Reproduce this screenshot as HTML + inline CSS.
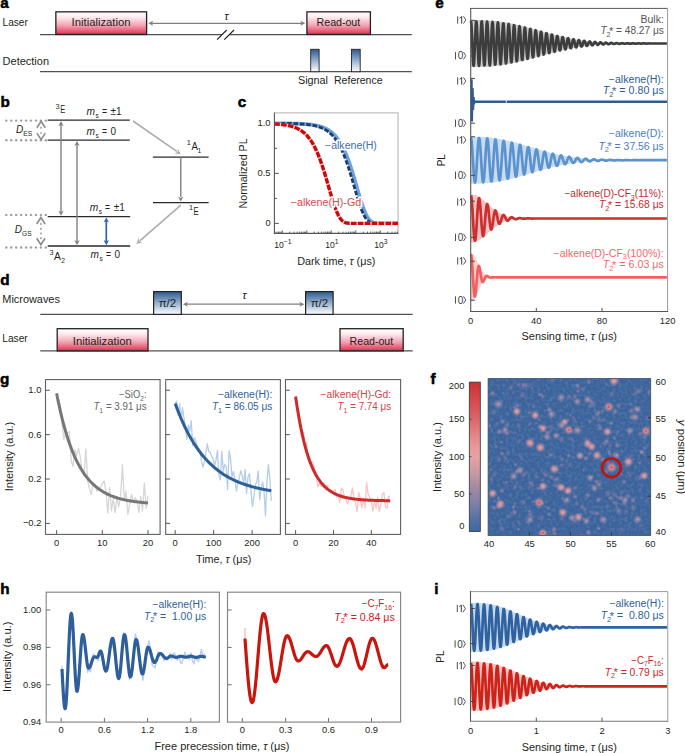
<!DOCTYPE html>
<html><head><meta charset="utf-8"><style>
html,body{margin:0;padding:0;background:#fff;}
svg{display:block;}
text{font-family:"Liberation Sans", sans-serif;}
</style></head><body>
<svg width="685" height="753" viewBox="0 0 685 753">
<defs><linearGradient id="gRed" x1="0" y1="0" x2="0" y2="1"><stop offset="0" stop-color="#ffffff"/><stop offset="0.25" stop-color="#fde8ec"/><stop offset="0.6" stop-color="#f3a3b4"/><stop offset="1" stop-color="#e2304f"/></linearGradient><linearGradient id="gBlue" x1="0" y1="0" x2="0" y2="1"><stop offset="0" stop-color="#2c5a8f"/><stop offset="0.45" stop-color="#8aa8c9"/><stop offset="1" stop-color="#ffffff"/></linearGradient><filter id="nz" x="0" y="0" width="100%" height="100%"><feTurbulence type="fractalNoise" baseFrequency="0.32" numOctaves="2" seed="3" result="t"/>
<feColorMatrix in="t" type="matrix" values="0 0 0 0 0.62  0 0 0 0 0.55  0 0 0 0 0.70  0 0 0 -2.2 1.25"/></filter><clipPath id="imgclip"><rect x="488.1" y="378.6" width="162.6" height="156.8"/></clipPath><radialGradient id="sp1"><stop offset="0" stop-color="#f2a2a0" stop-opacity="0.95"/><stop offset="0.35" stop-color="#e99ca0" stop-opacity="0.8"/><stop offset="0.7" stop-color="#d494a4" stop-opacity="0.35"/><stop offset="1" stop-color="#c090a8" stop-opacity="0"/></radialGradient><radialGradient id="sp2"><stop offset="0" stop-color="#c8a0b0" stop-opacity="0.9"/><stop offset="1" stop-color="#a08aa8" stop-opacity="0"/></radialGradient><radialGradient id="sp3"><stop offset="0" stop-color="#dc3c3c" stop-opacity="1"/><stop offset="0.3" stop-color="#ec8888" stop-opacity="0.9"/><stop offset="0.7" stop-color="#d898a4" stop-opacity="0.35"/><stop offset="1" stop-color="#c090a8" stop-opacity="0"/></radialGradient><radialGradient id="spf"><stop offset="0" stop-color="#c897ad" stop-opacity="0.75"/><stop offset="1" stop-color="#b08aa8" stop-opacity="0"/></radialGradient><linearGradient id="gCB" x1="0" y1="0" x2="0" y2="1"><stop offset="0" stop-color="#cb3134"/><stop offset="0.2" stop-color="#d95a5c"/><stop offset="0.42" stop-color="#e89696"/><stop offset="0.5" stop-color="#e6a3a3"/><stop offset="0.6" stop-color="#c99ba5"/><stop offset="0.7" stop-color="#a58aa2"/><stop offset="0.82" stop-color="#7b80a7"/><stop offset="0.93" stop-color="#4f70a6"/><stop offset="1" stop-color="#3c68a4"/></linearGradient></defs>
<rect width="685" height="753" fill="#fff"/>
<text x="0.3" y="8" font-size="15.3" fill="#000" font-weight="bold" stroke="#000" stroke-width="0.5">a</text>
<text x="2.6" y="26.4" font-size="10" fill="#231f20" textLength="25.2" lengthAdjust="spacingAndGlyphs" >Laser</text>
<text x="2.6" y="65" font-size="10" fill="#231f20" textLength="46.4" lengthAdjust="spacingAndGlyphs" >Detection</text>
<line x1="40" y1="34.7" x2="222" y2="34.7" stroke="#505050" stroke-width="1.2" />
<line x1="229.2" y1="34.7" x2="411.8" y2="34.7" stroke="#505050" stroke-width="1.2" />
<line x1="217.1" y1="39.6" x2="226.7" y2="30" stroke="#222" stroke-width="1.2" />
<line x1="224.3" y1="39.6" x2="234" y2="30" stroke="#222" stroke-width="1.2" />
<rect x="55.85" y="11.85" width="90.75" height="22.6" fill="url(#gRed)" stroke="#222" stroke-width="1.3" />
<text x="71.6" y="26.4" font-size="10" fill="#231f20" textLength="58.9" lengthAdjust="spacingAndGlyphs" >Initialization</text>
<rect x="306.9" y="11.85" width="63.5" height="22.6" fill="url(#gRed)" stroke="#222" stroke-width="1.3" />
<text x="316.6" y="26.4" font-size="10" fill="#231f20" textLength="43.6" lengthAdjust="spacingAndGlyphs" >Read-out</text>
<line x1="151" y1="23.3" x2="302" y2="23.3" stroke="#808080" stroke-width="1.3" />
<path d="M148.2,23.3 L153.2,20.8 L151.95,23.3 L153.2,25.8 Z" fill="#808080"/>
<path d="M305.3,23.3 L300.3,25.8 L301.55,23.3 L300.3,20.8 Z" fill="#808080"/>
<text x="226.4" y="19.9" font-size="11.5" fill="#231f20" text-anchor="middle" font-style="italic" >τ</text>
<line x1="40" y1="71.7" x2="411.8" y2="71.7" stroke="#505050" stroke-width="1.2" />
<rect x="310.7" y="49.3" width="8.4" height="22.4" fill="url(#gBlue)" stroke="#222" stroke-width="0.9" />
<rect x="351.5" y="49.3" width="8.7" height="22.4" fill="url(#gBlue)" stroke="#222" stroke-width="0.9" />
<text x="298" y="84.4" font-size="10" fill="#231f20" textLength="30" lengthAdjust="spacingAndGlyphs" >Signal</text>
<text x="334" y="84.4" font-size="10" fill="#231f20" textLength="48.6" lengthAdjust="spacingAndGlyphs" >Reference</text>
<text x="0.3" y="285.3" font-size="15.3" fill="#000" font-weight="bold" stroke="#000" stroke-width="0.5">d</text>
<text x="2.3" y="302.7" font-size="10" fill="#231f20" textLength="57.6" lengthAdjust="spacingAndGlyphs" >Microwaves</text>
<text x="2.3" y="342.1" font-size="10" fill="#231f20" textLength="25.4" lengthAdjust="spacingAndGlyphs" >Laser</text>
<line x1="40.3" y1="314.4" x2="412.7" y2="314.4" stroke="#505050" stroke-width="1.2" />
<line x1="40.3" y1="350.9" x2="412.7" y2="350.9" stroke="#505050" stroke-width="1.2" />
<rect x="153.6" y="291.6" width="27.7" height="22.8" fill="url(#gBlue)" stroke="#222" stroke-width="1.2" />
<rect x="305.6" y="291.6" width="27.5" height="22.8" fill="url(#gBlue)" stroke="#222" stroke-width="1.2" />
<text x="167.4" y="306.6" font-size="10" fill="#231f20" text-anchor="middle" textLength="17.5" lengthAdjust="spacingAndGlyphs" >π/2</text>
<text x="319.4" y="306.6" font-size="10" fill="#231f20" text-anchor="middle" textLength="17.5" lengthAdjust="spacingAndGlyphs" >π/2</text>
<rect x="57.2" y="328.7" width="90.8" height="22.2" fill="url(#gRed)" stroke="#222" stroke-width="1.3" />
<text x="72.8" y="345.3" font-size="10" fill="#231f20" textLength="58.9" lengthAdjust="spacingAndGlyphs" >Initialization</text>
<rect x="340" y="328.7" width="63.2" height="22.2" fill="url(#gRed)" stroke="#222" stroke-width="1.3" />
<text x="349.6" y="345.3" font-size="10" fill="#231f20" textLength="43.6" lengthAdjust="spacingAndGlyphs" >Read-out</text>
<line x1="186" y1="304.2" x2="301" y2="304.2" stroke="#808080" stroke-width="1.3" />
<path d="M182.9,304.2 L187.9,301.7 L186.65,304.2 L187.9,306.7 Z" fill="#808080"/>
<path d="M304.4,304.2 L299.4,306.7 L300.65,304.2 L299.4,301.7 Z" fill="#808080"/>
<text x="244.4" y="299.1" font-size="11.5" fill="#231f20" text-anchor="middle" font-style="italic" >τ</text>
<text x="0.4" y="107.1" font-size="15.3" fill="#000" font-weight="bold" stroke="#000" stroke-width="0.5">b</text>
<line x1="47.7" y1="120.2" x2="129.8" y2="120.2" stroke="#2a2a2a" stroke-width="1.3" />
<line x1="47.7" y1="140.1" x2="129.8" y2="140.1" stroke="#2a2a2a" stroke-width="1.3" />
<line x1="47.7" y1="216.6" x2="130.2" y2="216.6" stroke="#2a2a2a" stroke-width="1.3" />
<line x1="47.7" y1="246" x2="130.2" y2="246" stroke="#2a2a2a" stroke-width="1.3" />
<line x1="152.9" y1="157.2" x2="208.6" y2="157.2" stroke="#2a2a2a" stroke-width="1.3" />
<line x1="152.9" y1="202.6" x2="208.6" y2="202.6" stroke="#2a2a2a" stroke-width="1.3" />
<circle cx="6.3" cy="120.6" r="1.2" fill="#a0a0a0"/>
<circle cx="11.24" cy="120.6" r="1.2" fill="#a0a0a0"/>
<circle cx="16.18" cy="120.6" r="1.2" fill="#a0a0a0"/>
<circle cx="21.12" cy="120.6" r="1.2" fill="#a0a0a0"/>
<circle cx="26.06" cy="120.6" r="1.2" fill="#a0a0a0"/>
<circle cx="31" cy="120.6" r="1.2" fill="#a0a0a0"/>
<circle cx="35.94" cy="120.6" r="1.2" fill="#a0a0a0"/>
<circle cx="40.88" cy="120.6" r="1.2" fill="#a0a0a0"/>
<circle cx="45.82" cy="120.6" r="1.2" fill="#a0a0a0"/>
<circle cx="6.3" cy="140.3" r="1.2" fill="#a0a0a0"/>
<circle cx="11.24" cy="140.3" r="1.2" fill="#a0a0a0"/>
<circle cx="16.18" cy="140.3" r="1.2" fill="#a0a0a0"/>
<circle cx="21.12" cy="140.3" r="1.2" fill="#a0a0a0"/>
<circle cx="26.06" cy="140.3" r="1.2" fill="#a0a0a0"/>
<circle cx="31" cy="140.3" r="1.2" fill="#a0a0a0"/>
<circle cx="35.94" cy="140.3" r="1.2" fill="#a0a0a0"/>
<circle cx="40.88" cy="140.3" r="1.2" fill="#a0a0a0"/>
<circle cx="45.82" cy="140.3" r="1.2" fill="#a0a0a0"/>
<circle cx="6.3" cy="214.9" r="1.2" fill="#a0a0a0"/>
<circle cx="11.24" cy="214.9" r="1.2" fill="#a0a0a0"/>
<circle cx="16.18" cy="214.9" r="1.2" fill="#a0a0a0"/>
<circle cx="21.12" cy="214.9" r="1.2" fill="#a0a0a0"/>
<circle cx="26.06" cy="214.9" r="1.2" fill="#a0a0a0"/>
<circle cx="31" cy="214.9" r="1.2" fill="#a0a0a0"/>
<circle cx="35.94" cy="214.9" r="1.2" fill="#a0a0a0"/>
<circle cx="40.88" cy="214.9" r="1.2" fill="#a0a0a0"/>
<circle cx="45.82" cy="214.9" r="1.2" fill="#a0a0a0"/>
<circle cx="6.3" cy="247.5" r="1.2" fill="#a0a0a0"/>
<circle cx="11.24" cy="247.5" r="1.2" fill="#a0a0a0"/>
<circle cx="16.18" cy="247.5" r="1.2" fill="#a0a0a0"/>
<circle cx="21.12" cy="247.5" r="1.2" fill="#a0a0a0"/>
<circle cx="26.06" cy="247.5" r="1.2" fill="#a0a0a0"/>
<circle cx="31" cy="247.5" r="1.2" fill="#a0a0a0"/>
<circle cx="35.94" cy="247.5" r="1.2" fill="#a0a0a0"/>
<circle cx="40.88" cy="247.5" r="1.2" fill="#a0a0a0"/>
<circle cx="45.82" cy="247.5" r="1.2" fill="#a0a0a0"/>
<circle cx="41.1" cy="127.7" r="0.95" fill="#999"/>
<circle cx="41.1" cy="133.1" r="0.95" fill="#999"/>
<path d="M36.9,127.7 L41.1,121.2 L45.300000000000004,127.7" stroke="#8a8a8a" stroke-width="1.6" fill="none" />
<path d="M36.9,133.1 L41.1,139.6 L45.300000000000004,133.1" stroke="#8a8a8a" stroke-width="1.6" fill="none" />
<circle cx="40.9" cy="224" r="0.95" fill="#999"/>
<circle cx="40.9" cy="228.77" r="0.95" fill="#999"/>
<circle cx="40.9" cy="233.53" r="0.95" fill="#999"/>
<circle cx="40.9" cy="238.3" r="0.95" fill="#999"/>
<path d="M36.699999999999996,224.0 L40.9,217.5 L45.1,224.0" stroke="#8a8a8a" stroke-width="1.6" fill="none" />
<path d="M36.699999999999996,238.3 L40.9,244.8 L45.1,238.3" stroke="#8a8a8a" stroke-width="1.6" fill="none" />
<line x1="61" y1="124.2" x2="61" y2="212.6" stroke="#808080" stroke-width="1.4" />
<path d="M61,121 L63.7,126.2 L61,124.64 L58.3,126.2 Z" fill="#808080"/>
<path d="M61,215.8 L58.3,210.6 L61,212.16 L63.7,210.6 Z" fill="#808080"/>
<line x1="77" y1="144.1" x2="77" y2="242" stroke="#808080" stroke-width="1.4" />
<path d="M77,140.9 L79.7,146.1 L77,144.54 L74.3,146.1 Z" fill="#808080"/>
<path d="M77,245.2 L74.3,240 L77,241.56 L79.7,240 Z" fill="#808080"/>
<line x1="106.3" y1="220.6" x2="106.3" y2="242" stroke="#2b63a6" stroke-width="1.7" />
<path d="M106.3,217.4 L109,222.6 L106.3,221.04 L103.6,222.6 Z" fill="#2b63a6"/>
<path d="M106.3,245.2 L103.6,240 L106.3,241.56 L109,240 Z" fill="#2b63a6"/>
<line x1="180.8" y1="157.2" x2="180.8" y2="197" stroke="#808080" stroke-width="1.4" />
<path d="M180.8,201.6 L178.1,196.4 L180.8,197.96 L183.5,196.4 Z" fill="#808080"/>
<line x1="133" y1="121" x2="176.8" y2="151.4" stroke="#adadad" stroke-width="1.6" />
<path d="M180.8,154.3 L174.55,153.48 L177.58,152.06 L177.86,148.72 Z" fill="#adadad"/>
<line x1="180.8" y1="205.2" x2="139.8" y2="240.8" stroke="#adadad" stroke-width="1.6" />
<path d="M136.3,243.9 L138.62,238.04 L139.26,241.33 L142.43,242.41 Z" fill="#adadad"/>
<text x="86.6" y="115" font-size="10.2" fill="#231f20" font-style="italic">m</text>
<text x="95.5" y="118.2" font-size="6.6" fill="#231f20">s</text>
<text x="101.9" y="115" font-size="10" fill="#231f20" textLength="5" lengthAdjust="spacingAndGlyphs">=</text>
<text x="110.5" y="115" font-size="10" fill="#231f20">±1</text>
<text x="86.6" y="134.9" font-size="10.2" fill="#231f20" font-style="italic">m</text>
<text x="95.5" y="138.1" font-size="6.6" fill="#231f20">s</text>
<text x="101.9" y="134.9" font-size="10" fill="#231f20" textLength="5" lengthAdjust="spacingAndGlyphs">=</text>
<text x="110.5" y="134.9" font-size="10" fill="#231f20">0</text>
<text x="89.8" y="210.7" font-size="10.2" fill="#231f20" font-style="italic">m</text>
<text x="98.7" y="213.9" font-size="6.6" fill="#231f20">s</text>
<text x="105.1" y="210.7" font-size="10" fill="#231f20" textLength="5" lengthAdjust="spacingAndGlyphs">=</text>
<text x="113.7" y="210.7" font-size="10" fill="#231f20">±1</text>
<text x="90.6" y="257.7" font-size="10.2" fill="#231f20" font-style="italic">m</text>
<text x="99.5" y="260.9" font-size="6.6" fill="#231f20">s</text>
<text x="105.9" y="257.7" font-size="10" fill="#231f20" textLength="5" lengthAdjust="spacingAndGlyphs">=</text>
<text x="114.5" y="257.7" font-size="10" fill="#231f20">0</text>
<text x="55.6" y="108.6" font-size="7.3" fill="#231f20">3</text>
<text x="60.2" y="113.3" font-size="10" fill="#231f20" textLength="5.0" lengthAdjust="spacingAndGlyphs">E</text>
<text x="49.4" y="255" font-size="7.3" fill="#231f20">3</text>
<text x="54" y="259.7" font-size="10" fill="#231f20" textLength="6.8" lengthAdjust="spacingAndGlyphs">A</text>
<text x="61.2" y="262.7" font-size="6.8" fill="#231f20">2</text>
<text x="186.8" y="145.2" font-size="7.3" fill="#231f20">1</text>
<text x="191.4" y="149.9" font-size="10" fill="#231f20" textLength="6.4" lengthAdjust="spacingAndGlyphs">A</text>
<text x="197.6" y="152.9" font-size="6.8" fill="#231f20">1</text>
<text x="188.9" y="210.4" font-size="7.3" fill="#231f20">1</text>
<text x="193.5" y="215.1" font-size="10" fill="#231f20" textLength="5.2" lengthAdjust="spacingAndGlyphs">E</text>
<text x="16" y="133.3" font-size="10" fill="#231f20"><tspan font-style="italic">D</tspan><tspan font-size="6.6" dy="2.5">ES</tspan></text>
<text x="14.8" y="232.8" font-size="10" fill="#231f20"><tspan font-style="italic">D</tspan><tspan font-size="6.6" dy="2.8">GS</tspan></text>
<text x="237.7" y="107.3" font-size="15.3" fill="#000" font-weight="bold" stroke="#000" stroke-width="0.5">c</text>
<line x1="274.4" y1="112.9" x2="398" y2="112.9" stroke="#b0b0b0" stroke-width="1" />
<line x1="398" y1="112.9" x2="398" y2="233.4" stroke="#b0b0b0" stroke-width="1" />
<path d="M274.22,123.34 L274.46,123.34 L274.71,123.35 L274.95,123.35 L275.19,123.35 L275.44,123.35 L275.69,123.35 L275.93,123.35 L276.18,123.35 L276.42,123.35 L276.67,123.35 L276.91,123.36 L277.16,123.36 L277.4,123.36 L277.65,123.36 L277.89,123.36 L278.13,123.36 L278.38,123.36 L278.62,123.37 L278.87,123.37 L279.12,123.37 L279.36,123.37 L279.61,123.37 L279.85,123.37 L280.1,123.38 L280.34,123.38 L280.59,123.38 L280.83,123.38 L281.07,123.38 L281.32,123.38 L281.56,123.39 L281.81,123.39 L282.06,123.39 L282.3,123.39 L282.55,123.39 L282.79,123.4 L283.04,123.4 L283.28,123.4 L283.53,123.4 L283.77,123.41 L284.01,123.41 L284.26,123.41 L284.5,123.41 L284.75,123.42 L285,123.42 L285.24,123.42 L285.49,123.42 L285.73,123.43 L285.98,123.43 L286.22,123.43 L286.47,123.44 L286.71,123.44 L286.95,123.44 L287.2,123.45 L287.44,123.45 L287.69,123.45 L287.94,123.46 L288.18,123.46 L288.43,123.46 L288.67,123.47 L288.92,123.47 L289.16,123.48 L289.41,123.48 L289.65,123.48 L289.89,123.49 L290.14,123.49 L290.38,123.5 L290.63,123.5 L290.88,123.51 L291.12,123.51 L291.37,123.52 L291.61,123.52 L291.86,123.53 L292.1,123.53 L292.35,123.54 L292.59,123.54 L292.84,123.55 L293.08,123.55 L293.32,123.56 L293.57,123.57 L293.81,123.57 L294.06,123.58 L294.31,123.59 L294.55,123.59 L294.8,123.6 L295.04,123.61 L295.29,123.61 L295.53,123.62 L295.78,123.63 L296.02,123.64 L296.26,123.64 L296.51,123.65 L296.75,123.66 L297,123.67 L297.25,123.68 L297.49,123.69 L297.74,123.69 L297.98,123.7 L298.23,123.71 L298.47,123.72 L298.72,123.73 L298.96,123.74 L299.2,123.75 L299.45,123.76 L299.69,123.77 L299.94,123.79 L300.19,123.8 L300.43,123.81 L300.68,123.82 L300.92,123.83 L301.17,123.84 L301.41,123.86 L301.66,123.87 L301.9,123.88 L302.15,123.9 L302.39,123.91 L302.63,123.92 L302.88,123.94 L303.12,123.95 L303.37,123.97 L303.62,123.98 L303.86,124 L304.11,124.02 L304.35,124.03 L304.6,124.05 L304.84,124.07 L305.09,124.09 L305.33,124.1 L305.57,124.12 L305.82,124.14 L306.06,124.16 L306.31,124.18 L306.56,124.2 L306.8,124.22 L307.05,124.24 L307.29,124.27 L307.54,124.29 L307.78,124.31 L308.03,124.33 L308.27,124.36 L308.51,124.38 L308.76,124.41 L309,124.43 L309.25,124.46 L309.5,124.49 L309.74,124.51 L309.99,124.54 L310.23,124.57 L310.48,124.6 L310.72,124.63 L310.97,124.66 L311.21,124.69 L311.45,124.73 L311.7,124.76 L311.94,124.79 L312.19,124.83 L312.44,124.86 L312.68,124.9 L312.93,124.93 L313.17,124.97 L313.42,125.01 L313.66,125.05 L313.91,125.09 L314.15,125.13 L314.4,125.17 L314.64,125.22 L314.88,125.26 L315.13,125.31 L315.38,125.35 L315.62,125.4 L315.87,125.45 L316.11,125.5 L316.36,125.55 L316.6,125.6 L316.85,125.65 L317.09,125.71 L317.34,125.76 L317.58,125.82 L317.82,125.88 L318.07,125.94 L318.31,126 L318.56,126.06 L318.81,126.12 L319.05,126.19 L319.3,126.25 L319.54,126.32 L319.79,126.39 L320.03,126.46 L320.28,126.54 L320.52,126.61 L320.76,126.69 L321.01,126.76 L321.25,126.84 L321.5,126.92 L321.75,127.01 L321.99,127.09 L322.24,127.18 L322.48,127.27 L322.73,127.36 L322.97,127.45 L323.22,127.54 L323.46,127.64 L323.7,127.74 L323.95,127.84 L324.19,127.94 L324.44,128.05 L324.69,128.16 L324.93,128.27 L325.18,128.38 L325.42,128.49 L325.67,128.61 L325.91,128.73 L326.16,128.85 L326.4,128.98 L326.65,129.11 L326.89,129.24 L327.13,129.37 L327.38,129.51 L327.62,129.65 L327.87,129.79 L328.12,129.94 L328.36,130.09 L328.61,130.24 L328.85,130.4 L329.1,130.56 L329.34,130.72 L329.59,130.89 L329.83,131.06 L330.08,131.23 L330.32,131.41 L330.56,131.59 L330.81,131.77 L331.06,131.96 L331.3,132.15 L331.55,132.35 L331.79,132.55 L332.04,132.75 L332.28,132.96 L332.52,133.18 L332.77,133.4 L333.01,133.62 L333.26,133.85 L333.5,134.08 L333.75,134.31 L334,134.56 L334.24,134.8 L334.49,135.05 L334.73,135.31 L334.98,135.57 L335.22,135.84 L335.47,136.11 L335.71,136.39 L335.95,136.67 L336.2,136.96 L336.44,137.26 L336.69,137.56 L336.94,137.87 L337.18,138.18 L337.43,138.5 L337.67,138.82 L337.92,139.15 L338.16,139.49 L338.41,139.83 L338.65,140.19 L338.89,140.54 L339.14,140.91 L339.38,141.28 L339.63,141.66 L339.88,142.04 L340.12,142.43 L340.37,142.83 L340.61,143.24 L340.86,143.65 L341.1,144.07 L341.35,144.5 L341.59,144.94 L341.84,145.38 L342.08,145.83 L342.33,146.29 L342.57,146.76 L342.81,147.23 L343.06,147.72 L343.31,148.21 L343.55,148.71 L343.8,149.22 L344.04,149.73 L344.29,150.26 L344.53,150.79 L344.77,151.33 L345.02,151.88 L345.26,152.44 L345.51,153 L345.75,153.58 L346,154.16 L346.25,154.75 L346.49,155.35 L346.74,155.96 L346.98,156.58 L347.23,157.21 L347.47,157.84 L347.72,158.48 L347.96,159.14 L348.21,159.8 L348.45,160.46 L348.69,161.14 L348.94,161.83 L349.19,162.52 L349.43,163.22 L349.68,163.93 L349.92,164.65 L350.17,165.37 L350.41,166.1 L350.66,166.84 L350.9,167.59 L351.14,168.34 L351.39,169.11 L351.63,169.87 L351.88,170.65 L352.12,171.43 L352.37,172.22 L352.62,173.01 L352.86,173.81 L353.11,174.62 L353.35,175.42 L353.6,176.24 L353.84,177.06 L354.09,177.88 L354.33,178.71 L354.58,179.54 L354.82,180.38 L355.06,181.22 L355.31,182.06 L355.56,182.9 L355.8,183.74 L356.05,184.59 L356.29,185.44 L356.54,186.28 L356.78,187.13 L357.02,187.98 L357.27,188.83 L357.51,189.67 L357.76,190.52 L358,191.36 L358.25,192.2 L358.5,193.03 L358.74,193.87 L358.99,194.69 L359.23,195.52 L359.48,196.33 L359.72,197.15 L359.97,197.95 L360.21,198.75 L360.46,199.54 L360.7,200.33 L360.94,201.1 L361.19,201.87 L361.44,202.63 L361.68,203.37 L361.93,204.11 L362.17,204.84 L362.42,205.55 L362.66,206.25 L362.91,206.94 L363.15,207.62 L363.39,208.29 L363.64,208.94 L363.88,209.57 L364.13,210.2 L364.38,210.81 L364.62,211.4 L364.87,211.98 L365.11,212.54 L365.36,213.09 L365.6,213.62 L365.85,214.14 L366.09,214.64 L366.34,215.12 L366.58,215.59 L366.83,216.04 L367.07,216.47 L367.31,216.89 L367.56,217.29 L367.81,217.68 L368.05,218.04 L368.3,218.4 L368.54,218.73 L368.79,219.06 L369.03,219.36 L369.27,219.65 L369.52,219.93 L369.76,220.19 L370.01,220.44 L370.25,220.67 L370.5,220.89 L370.75,221.1 L370.99,221.29 L371.24,221.47 L371.48,221.64 L371.73,221.8 L371.97,221.95 L372.22,222.08 L372.46,222.21 L372.71,222.33 L372.95,222.43 L373.19,222.53 L373.44,222.62 L373.69,222.71 L373.93,222.78 L374.18,222.85 L374.42,222.91 L374.67,222.97 L374.91,223.02 L375.16,223.07 L375.4,223.11 L375.64,223.15 L375.89,223.18 L376.13,223.21 L376.38,223.23 L376.62,223.26 L376.87,223.28 L377.12,223.3 L377.36,223.31 L377.61,223.32 L377.85,223.34 L378.1,223.35 L378.34,223.35 L378.59,223.36 L378.83,223.37 L379.08,223.37 L379.32,223.38 L379.56,223.38 L379.81,223.39 L380.06,223.39 L380.3,223.39 L380.55,223.39 L380.79,223.39 L381.04,223.4 L381.28,223.4 L381.52,223.4 L381.77,223.4 L382.01,223.4 L382.26,223.4 L382.5,223.4 L382.75,223.4 L383,223.4 L383.24,223.4 L383.49,223.4 L383.73,223.4 L383.98,223.4 L384.22,223.4 L384.47,223.4 L384.71,223.4 L384.96,223.4 L385.2,223.4 L385.44,223.4 L385.69,223.4 L385.94,223.4 L386.18,223.4 L386.43,223.4 L386.67,223.4 L386.92,223.4 L387.16,223.4 L387.41,223.4 L387.65,223.4 L387.89,223.4 L388.14,223.4 L388.38,223.4 L388.63,223.4 L388.88,223.4 L389.12,223.4 L389.37,223.4 L389.61,223.4 L389.86,223.4 L390.1,223.4 L390.35,223.4 L390.59,223.4 L390.84,223.4 L391.08,223.4 L391.33,223.4 L391.57,223.4 L391.81,223.4 L392.06,223.4 L392.31,223.4 L392.55,223.4 L392.8,223.4 L393.04,223.4 L393.29,223.4 L393.53,223.4 L393.77,223.4 L394.02,223.4 L394.26,223.4 L394.51,223.4 L394.75,223.4 L395,223.4 L395.25,223.4 L395.49,223.4 L395.74,223.4 L395.98,223.4 L396.23,223.4 L396.47,223.4 L396.72,223.4 L396.96,223.4 L397.21,223.4 L397.45,223.4 L397.69,223.4 L397.94,223.4 L398.19,223.4" stroke="#6ea2dc" stroke-width="3.8" fill="none" stroke-linejoin="round"/>
<path d="M274.22,123.35 L274.46,123.36 L274.71,123.36 L274.95,123.36 L275.19,123.36 L275.44,123.36 L275.69,123.36 L275.93,123.36 L276.18,123.37 L276.42,123.37 L276.67,123.37 L276.91,123.37 L277.16,123.37 L277.4,123.37 L277.65,123.38 L277.89,123.38 L278.13,123.38 L278.38,123.38 L278.62,123.38 L278.87,123.38 L279.12,123.39 L279.36,123.39 L279.61,123.39 L279.85,123.39 L280.1,123.39 L280.34,123.4 L280.59,123.4 L280.83,123.4 L281.07,123.4 L281.32,123.41 L281.56,123.41 L281.81,123.41 L282.06,123.41 L282.3,123.42 L282.55,123.42 L282.79,123.42 L283.04,123.42 L283.28,123.43 L283.53,123.43 L283.77,123.43 L284.01,123.44 L284.26,123.44 L284.5,123.44 L284.75,123.45 L285,123.45 L285.24,123.45 L285.49,123.46 L285.73,123.46 L285.98,123.46 L286.22,123.47 L286.47,123.47 L286.71,123.48 L286.95,123.48 L287.2,123.48 L287.44,123.49 L287.69,123.49 L287.94,123.5 L288.18,123.5 L288.43,123.51 L288.67,123.51 L288.92,123.52 L289.16,123.52 L289.41,123.53 L289.65,123.53 L289.89,123.54 L290.14,123.54 L290.38,123.55 L290.63,123.55 L290.88,123.56 L291.12,123.57 L291.37,123.57 L291.61,123.58 L291.86,123.59 L292.1,123.59 L292.35,123.6 L292.59,123.61 L292.84,123.61 L293.08,123.62 L293.32,123.63 L293.57,123.63 L293.81,123.64 L294.06,123.65 L294.31,123.66 L294.55,123.67 L294.8,123.68 L295.04,123.68 L295.29,123.69 L295.53,123.7 L295.78,123.71 L296.02,123.72 L296.26,123.73 L296.51,123.74 L296.75,123.75 L297,123.76 L297.25,123.77 L297.49,123.78 L297.74,123.8 L297.98,123.81 L298.23,123.82 L298.47,123.83 L298.72,123.84 L298.96,123.86 L299.2,123.87 L299.45,123.88 L299.69,123.89 L299.94,123.91 L300.19,123.92 L300.43,123.94 L300.68,123.95 L300.92,123.97 L301.17,123.98 L301.41,124 L301.66,124.01 L301.9,124.03 L302.15,124.05 L302.39,124.07 L302.63,124.08 L302.88,124.1 L303.12,124.12 L303.37,124.14 L303.62,124.16 L303.86,124.18 L304.11,124.2 L304.35,124.22 L304.6,124.24 L304.84,124.26 L305.09,124.29 L305.33,124.31 L305.57,124.33 L305.82,124.36 L306.06,124.38 L306.31,124.4 L306.56,124.43 L306.8,124.46 L307.05,124.48 L307.29,124.51 L307.54,124.54 L307.78,124.57 L308.03,124.6 L308.27,124.63 L308.51,124.66 L308.76,124.69 L309,124.72 L309.25,124.75 L309.5,124.79 L309.74,124.82 L309.99,124.86 L310.23,124.89 L310.48,124.93 L310.72,124.97 L310.97,125.01 L311.21,125.05 L311.45,125.09 L311.7,125.13 L311.94,125.17 L312.19,125.21 L312.44,125.26 L312.68,125.3 L312.93,125.35 L313.17,125.39 L313.42,125.44 L313.66,125.49 L313.91,125.54 L314.15,125.59 L314.4,125.65 L314.64,125.7 L314.88,125.76 L315.13,125.81 L315.38,125.87 L315.62,125.93 L315.87,125.99 L316.11,126.05 L316.36,126.12 L316.6,126.18 L316.85,126.25 L317.09,126.31 L317.34,126.38 L317.58,126.45 L317.82,126.53 L318.07,126.6 L318.31,126.67 L318.56,126.75 L318.81,126.83 L319.05,126.91 L319.3,126.99 L319.54,127.08 L319.79,127.17 L320.03,127.25 L320.28,127.34 L320.52,127.44 L320.76,127.53 L321.01,127.63 L321.25,127.72 L321.5,127.83 L321.75,127.93 L321.99,128.03 L322.24,128.14 L322.48,128.25 L322.73,128.36 L322.97,128.48 L323.22,128.6 L323.46,128.72 L323.7,128.84 L323.95,128.96 L324.19,129.09 L324.44,129.22 L324.69,129.36 L324.93,129.49 L325.18,129.63 L325.42,129.78 L325.67,129.92 L325.91,130.07 L326.16,130.22 L326.4,130.38 L326.65,130.54 L326.89,130.7 L327.13,130.86 L327.38,131.03 L327.62,131.21 L327.87,131.38 L328.12,131.56 L328.36,131.75 L328.61,131.93 L328.85,132.13 L329.1,132.32 L329.34,132.52 L329.59,132.73 L329.83,132.94 L330.08,133.15 L330.32,133.37 L330.56,133.59 L330.81,133.81 L331.06,134.05 L331.3,134.28 L331.55,134.52 L331.79,134.77 L332.04,135.02 L332.28,135.28 L332.52,135.54 L332.77,135.8 L333.01,136.08 L333.26,136.35 L333.5,136.64 L333.75,136.92 L334,137.22 L334.24,137.52 L334.49,137.82 L334.73,138.14 L334.98,138.45 L335.22,138.78 L335.47,139.11 L335.71,139.45 L335.95,139.79 L336.2,140.14 L336.44,140.49 L336.69,140.86 L336.94,141.23 L337.18,141.6 L337.43,141.99 L337.67,142.38 L337.92,142.78 L338.16,143.18 L338.41,143.6 L338.65,144.02 L338.89,144.44 L339.14,144.88 L339.38,145.32 L339.63,145.77 L339.88,146.23 L340.12,146.7 L340.37,147.17 L340.61,147.65 L340.86,148.14 L341.1,148.64 L341.35,149.15 L341.59,149.66 L341.84,150.19 L342.08,150.72 L342.33,151.26 L342.57,151.81 L342.81,152.36 L343.06,152.93 L343.31,153.5 L343.55,154.08 L343.8,154.67 L344.04,155.27 L344.29,155.88 L344.53,156.5 L344.77,157.12 L345.02,157.76 L345.26,158.4 L345.51,159.05 L345.75,159.71 L346,160.38 L346.25,161.05 L346.49,161.73 L346.74,162.43 L346.98,163.13 L347.23,163.83 L347.47,164.55 L347.72,165.27 L347.96,166.01 L348.21,166.74 L348.45,167.49 L348.69,168.24 L348.94,169 L349.19,169.77 L349.43,170.55 L349.68,171.33 L349.92,172.11 L350.17,172.91 L350.41,173.7 L350.66,174.51 L350.9,175.32 L351.14,176.13 L351.39,176.95 L351.63,177.77 L351.88,178.6 L352.12,179.43 L352.37,180.27 L352.62,181.1 L352.86,181.94 L353.11,182.79 L353.35,183.63 L353.6,184.48 L353.84,185.32 L354.09,186.17 L354.33,187.02 L354.58,187.87 L354.82,188.71 L355.06,189.56 L355.31,190.4 L355.56,191.25 L355.8,192.09 L356.05,192.92 L356.29,193.76 L356.54,194.58 L356.78,195.41 L357.02,196.23 L357.27,197.04 L357.51,197.85 L357.76,198.65 L358,199.44 L358.25,200.22 L358.5,201 L358.74,201.77 L358.99,202.53 L359.23,203.27 L359.48,204.01 L359.72,204.74 L359.97,205.46 L360.21,206.16 L360.46,206.85 L360.7,207.53 L360.94,208.2 L361.19,208.85 L361.44,209.49 L361.68,210.11 L361.93,210.73 L362.17,211.32 L362.42,211.9 L362.66,212.47 L362.91,213.02 L363.15,213.55 L363.39,214.07 L363.64,214.57 L363.88,215.06 L364.13,215.52 L364.38,215.98 L364.62,216.41 L364.87,216.83 L365.11,217.24 L365.36,217.63 L365.6,218 L365.85,218.35 L366.09,218.69 L366.34,219.01 L366.58,219.32 L366.83,219.62 L367.07,219.89 L367.31,220.16 L367.56,220.41 L367.81,220.64 L368.05,220.86 L368.3,221.07 L368.54,221.27 L368.79,221.45 L369.03,221.62 L369.27,221.78 L369.52,221.93 L369.76,222.07 L370.01,222.19 L370.25,222.31 L370.5,222.42 L370.75,222.52 L370.99,222.61 L371.24,222.7 L371.48,222.77 L371.73,222.84 L371.97,222.91 L372.22,222.96 L372.46,223.02 L372.71,223.06 L372.95,223.1 L373.19,223.14 L373.44,223.18 L373.69,223.21 L373.93,223.23 L374.18,223.25 L374.42,223.28 L374.67,223.29 L374.91,223.31 L375.16,223.32 L375.4,223.33 L375.64,223.34 L375.89,223.35 L376.13,223.36 L376.38,223.37 L376.62,223.37 L376.87,223.38 L377.12,223.38 L377.36,223.39 L377.61,223.39 L377.85,223.39 L378.1,223.39 L378.34,223.39 L378.59,223.39 L378.83,223.4 L379.08,223.4 L379.32,223.4 L379.56,223.4 L379.81,223.4 L380.06,223.4 L380.3,223.4 L380.55,223.4 L380.79,223.4 L381.04,223.4 L381.28,223.4 L381.52,223.4 L381.77,223.4 L382.01,223.4 L382.26,223.4 L382.5,223.4 L382.75,223.4 L383,223.4 L383.24,223.4 L383.49,223.4 L383.73,223.4 L383.98,223.4 L384.22,223.4 L384.47,223.4 L384.71,223.4 L384.96,223.4 L385.2,223.4 L385.44,223.4 L385.69,223.4 L385.94,223.4 L386.18,223.4 L386.43,223.4 L386.67,223.4 L386.92,223.4 L387.16,223.4 L387.41,223.4 L387.65,223.4 L387.89,223.4 L388.14,223.4 L388.38,223.4 L388.63,223.4 L388.88,223.4 L389.12,223.4 L389.37,223.4 L389.61,223.4 L389.86,223.4 L390.1,223.4 L390.35,223.4 L390.59,223.4 L390.84,223.4 L391.08,223.4 L391.33,223.4 L391.57,223.4 L391.81,223.4 L392.06,223.4 L392.31,223.4 L392.55,223.4 L392.8,223.4 L393.04,223.4 L393.29,223.4 L393.53,223.4 L393.77,223.4 L394.02,223.4 L394.26,223.4 L394.51,223.4 L394.75,223.4 L395,223.4 L395.25,223.4 L395.49,223.4 L395.74,223.4 L395.98,223.4 L396.23,223.4 L396.47,223.4 L396.72,223.4 L396.96,223.4 L397.21,223.4 L397.45,223.4 L397.69,223.4 L397.94,223.4 L398.19,223.4" stroke="#1f3f6a" stroke-width="2.9" fill="none" stroke-dasharray="4.6,1.8"/>
<path d="M274.22,123.9 L274.46,123.92 L274.71,123.93 L274.95,123.95 L275.19,123.96 L275.44,123.98 L275.69,123.99 L275.93,124.01 L276.18,124.02 L276.42,124.04 L276.67,124.06 L276.91,124.08 L277.16,124.09 L277.4,124.11 L277.65,124.13 L277.89,124.15 L278.13,124.17 L278.38,124.19 L278.62,124.21 L278.87,124.23 L279.12,124.25 L279.36,124.28 L279.61,124.3 L279.85,124.32 L280.1,124.35 L280.34,124.37 L280.59,124.39 L280.83,124.42 L281.07,124.45 L281.32,124.47 L281.56,124.5 L281.81,124.53 L282.06,124.56 L282.3,124.58 L282.55,124.61 L282.79,124.65 L283.04,124.68 L283.28,124.71 L283.53,124.74 L283.77,124.77 L284.01,124.81 L284.26,124.84 L284.5,124.88 L284.75,124.91 L285,124.95 L285.24,124.99 L285.49,125.03 L285.73,125.07 L285.98,125.11 L286.22,125.15 L286.47,125.19 L286.71,125.24 L286.95,125.28 L287.2,125.33 L287.44,125.38 L287.69,125.42 L287.94,125.47 L288.18,125.52 L288.43,125.57 L288.67,125.63 L288.92,125.68 L289.16,125.73 L289.41,125.79 L289.65,125.85 L289.89,125.91 L290.14,125.97 L290.38,126.03 L290.63,126.09 L290.88,126.15 L291.12,126.22 L291.37,126.29 L291.61,126.35 L291.86,126.42 L292.1,126.5 L292.35,126.57 L292.59,126.64 L292.84,126.72 L293.08,126.8 L293.32,126.88 L293.57,126.96 L293.81,127.04 L294.06,127.13 L294.31,127.22 L294.55,127.31 L294.8,127.4 L295.04,127.49 L295.29,127.59 L295.53,127.69 L295.78,127.79 L296.02,127.89 L296.26,127.99 L296.51,128.1 L296.75,128.21 L297,128.32 L297.25,128.43 L297.49,128.55 L297.74,128.67 L297.98,128.79 L298.23,128.91 L298.47,129.04 L298.72,129.17 L298.96,129.3 L299.2,129.44 L299.45,129.58 L299.69,129.72 L299.94,129.86 L300.19,130.01 L300.43,130.16 L300.68,130.31 L300.92,130.47 L301.17,130.63 L301.41,130.8 L301.66,130.96 L301.9,131.14 L302.15,131.31 L302.39,131.49 L302.63,131.67 L302.88,131.86 L303.12,132.05 L303.37,132.24 L303.62,132.44 L303.86,132.65 L304.11,132.85 L304.35,133.06 L304.6,133.28 L304.84,133.5 L305.09,133.72 L305.33,133.95 L305.57,134.19 L305.82,134.43 L306.06,134.67 L306.31,134.92 L306.56,135.17 L306.8,135.43 L307.05,135.7 L307.29,135.97 L307.54,136.24 L307.78,136.52 L308.03,136.81 L308.27,137.1 L308.51,137.4 L308.76,137.7 L309,138.01 L309.25,138.33 L309.5,138.65 L309.74,138.98 L309.99,139.31 L310.23,139.65 L310.48,140 L310.72,140.35 L310.97,140.71 L311.21,141.08 L311.45,141.45 L311.7,141.83 L311.94,142.22 L312.19,142.62 L312.44,143.02 L312.68,143.43 L312.93,143.85 L313.17,144.27 L313.42,144.7 L313.66,145.14 L313.91,145.59 L314.15,146.05 L314.4,146.51 L314.64,146.98 L314.88,147.46 L315.13,147.95 L315.38,148.44 L315.62,148.95 L315.87,149.46 L316.11,149.98 L316.36,150.5 L316.6,151.04 L316.85,151.59 L317.09,152.14 L317.34,152.7 L317.58,153.27 L317.82,153.85 L318.07,154.44 L318.31,155.03 L318.56,155.64 L318.81,156.25 L319.05,156.87 L319.3,157.5 L319.54,158.14 L319.79,158.79 L320.03,159.44 L320.28,160.11 L320.52,160.78 L320.76,161.46 L321.01,162.15 L321.25,162.85 L321.5,163.55 L321.75,164.26 L321.99,164.98 L322.24,165.71 L322.48,166.45 L322.73,167.19 L322.97,167.94 L323.22,168.7 L323.46,169.46 L323.7,170.24 L323.95,171.01 L324.19,171.8 L324.44,172.59 L324.69,173.38 L324.93,174.19 L325.18,174.99 L325.42,175.81 L325.67,176.62 L325.91,177.44 L326.16,178.27 L326.4,179.1 L326.65,179.93 L326.89,180.77 L327.13,181.61 L327.38,182.45 L327.62,183.29 L327.87,184.14 L328.12,184.99 L328.36,185.83 L328.61,186.68 L328.85,187.53 L329.1,188.38 L329.34,189.22 L329.59,190.07 L329.83,190.91 L330.08,191.75 L330.32,192.59 L330.56,193.42 L330.81,194.25 L331.06,195.08 L331.3,195.9 L331.55,196.72 L331.79,197.52 L332.04,198.33 L332.28,199.12 L332.52,199.91 L332.77,200.69 L333.01,201.46 L333.26,202.22 L333.5,202.98 L333.75,203.72 L334,204.45 L334.24,205.17 L334.49,205.88 L334.73,206.58 L334.98,207.26 L335.22,207.93 L335.47,208.59 L335.71,209.24 L335.95,209.87 L336.2,210.48 L336.44,211.09 L336.69,211.67 L336.94,212.24 L337.18,212.8 L337.43,213.34 L337.67,213.86 L337.92,214.37 L338.16,214.86 L338.41,215.34 L338.65,215.8 L338.89,216.24 L339.14,216.67 L339.38,217.08 L339.63,217.47 L339.88,217.85 L340.12,218.21 L340.37,218.56 L340.61,218.89 L340.86,219.2 L341.1,219.5 L341.35,219.78 L341.59,220.05 L341.84,220.31 L342.08,220.55 L342.33,220.78 L342.57,220.99 L342.81,221.19 L343.06,221.38 L343.31,221.55 L343.55,221.72 L343.8,221.87 L344.04,222.01 L344.29,222.14 L344.53,222.27 L344.77,222.38 L345.02,222.48 L345.26,222.58 L345.51,222.66 L345.75,222.74 L346,222.82 L346.25,222.88 L346.49,222.94 L346.74,223 L346.98,223.04 L347.23,223.09 L347.47,223.13 L347.72,223.16 L347.96,223.19 L348.21,223.22 L348.45,223.25 L348.69,223.27 L348.94,223.29 L349.19,223.3 L349.43,223.32 L349.68,223.33 L349.92,223.34 L350.17,223.35 L350.41,223.36 L350.66,223.37 L350.9,223.37 L351.14,223.38 L351.39,223.38 L351.63,223.38 L351.88,223.39 L352.12,223.39 L352.37,223.39 L352.62,223.39 L352.86,223.39 L353.11,223.4 L353.35,223.4 L353.6,223.4 L353.84,223.4 L354.09,223.4 L354.33,223.4 L354.58,223.4 L354.82,223.4 L355.06,223.4 L355.31,223.4 L355.56,223.4 L355.8,223.4 L356.05,223.4 L356.29,223.4 L356.54,223.4 L356.78,223.4 L357.02,223.4 L357.27,223.4 L357.51,223.4 L357.76,223.4 L358,223.4 L358.25,223.4 L358.5,223.4 L358.74,223.4 L358.99,223.4 L359.23,223.4 L359.48,223.4 L359.72,223.4 L359.97,223.4 L360.21,223.4 L360.46,223.4 L360.7,223.4 L360.94,223.4 L361.19,223.4 L361.44,223.4 L361.68,223.4 L361.93,223.4 L362.17,223.4 L362.42,223.4 L362.66,223.4 L362.91,223.4 L363.15,223.4 L363.39,223.4 L363.64,223.4 L363.88,223.4 L364.13,223.4 L364.38,223.4 L364.62,223.4 L364.87,223.4 L365.11,223.4 L365.36,223.4 L365.6,223.4 L365.85,223.4 L366.09,223.4 L366.34,223.4 L366.58,223.4 L366.83,223.4 L367.07,223.4 L367.31,223.4 L367.56,223.4 L367.81,223.4 L368.05,223.4 L368.3,223.4 L368.54,223.4 L368.79,223.4 L369.03,223.4 L369.27,223.4 L369.52,223.4 L369.76,223.4 L370.01,223.4 L370.25,223.4 L370.5,223.4 L370.75,223.4 L370.99,223.4 L371.24,223.4 L371.48,223.4 L371.73,223.4 L371.97,223.4 L372.22,223.4 L372.46,223.4 L372.71,223.4 L372.95,223.4 L373.19,223.4 L373.44,223.4 L373.69,223.4 L373.93,223.4 L374.18,223.4 L374.42,223.4 L374.67,223.4 L374.91,223.4 L375.16,223.4 L375.4,223.4 L375.64,223.4 L375.89,223.4 L376.13,223.4 L376.38,223.4 L376.62,223.4 L376.87,223.4 L377.12,223.4 L377.36,223.4 L377.61,223.4 L377.85,223.4 L378.1,223.4 L378.34,223.4 L378.59,223.4 L378.83,223.4 L379.08,223.4 L379.32,223.4 L379.56,223.4 L379.81,223.4 L380.06,223.4 L380.3,223.4 L380.55,223.4 L380.79,223.4 L381.04,223.4 L381.28,223.4 L381.52,223.4 L381.77,223.4 L382.01,223.4 L382.26,223.4 L382.5,223.4 L382.75,223.4 L383,223.4 L383.24,223.4 L383.49,223.4 L383.73,223.4 L383.98,223.4 L384.22,223.4 L384.47,223.4 L384.71,223.4 L384.96,223.4 L385.2,223.4 L385.44,223.4 L385.69,223.4 L385.94,223.4 L386.18,223.4 L386.43,223.4 L386.67,223.4 L386.92,223.4 L387.16,223.4 L387.41,223.4 L387.65,223.4 L387.89,223.4 L388.14,223.4 L388.38,223.4 L388.63,223.4 L388.88,223.4 L389.12,223.4 L389.37,223.4 L389.61,223.4 L389.86,223.4 L390.1,223.4 L390.35,223.4 L390.59,223.4 L390.84,223.4 L391.08,223.4 L391.33,223.4 L391.57,223.4 L391.81,223.4 L392.06,223.4 L392.31,223.4 L392.55,223.4 L392.8,223.4 L393.04,223.4 L393.29,223.4 L393.53,223.4 L393.77,223.4 L394.02,223.4 L394.26,223.4 L394.51,223.4 L394.75,223.4 L395,223.4 L395.25,223.4 L395.49,223.4 L395.74,223.4 L395.98,223.4 L396.23,223.4 L396.47,223.4 L396.72,223.4 L396.96,223.4 L397.21,223.4 L397.45,223.4 L397.69,223.4 L397.94,223.4 L398.19,223.4" stroke="#f7d2d2" stroke-width="3.4" fill="none" />
<path d="M274.22,123.9 L274.46,123.92 L274.71,123.93 L274.95,123.95 L275.19,123.96 L275.44,123.98 L275.69,123.99 L275.93,124.01 L276.18,124.02 L276.42,124.04 L276.67,124.06 L276.91,124.08 L277.16,124.09 L277.4,124.11 L277.65,124.13 L277.89,124.15 L278.13,124.17 L278.38,124.19 L278.62,124.21 L278.87,124.23 L279.12,124.25 L279.36,124.28 L279.61,124.3 L279.85,124.32 L280.1,124.35 L280.34,124.37 L280.59,124.39 L280.83,124.42 L281.07,124.45 L281.32,124.47 L281.56,124.5 L281.81,124.53 L282.06,124.56 L282.3,124.58 L282.55,124.61 L282.79,124.65 L283.04,124.68 L283.28,124.71 L283.53,124.74 L283.77,124.77 L284.01,124.81 L284.26,124.84 L284.5,124.88 L284.75,124.91 L285,124.95 L285.24,124.99 L285.49,125.03 L285.73,125.07 L285.98,125.11 L286.22,125.15 L286.47,125.19 L286.71,125.24 L286.95,125.28 L287.2,125.33 L287.44,125.38 L287.69,125.42 L287.94,125.47 L288.18,125.52 L288.43,125.57 L288.67,125.63 L288.92,125.68 L289.16,125.73 L289.41,125.79 L289.65,125.85 L289.89,125.91 L290.14,125.97 L290.38,126.03 L290.63,126.09 L290.88,126.15 L291.12,126.22 L291.37,126.29 L291.61,126.35 L291.86,126.42 L292.1,126.5 L292.35,126.57 L292.59,126.64 L292.84,126.72 L293.08,126.8 L293.32,126.88 L293.57,126.96 L293.81,127.04 L294.06,127.13 L294.31,127.22 L294.55,127.31 L294.8,127.4 L295.04,127.49 L295.29,127.59 L295.53,127.69 L295.78,127.79 L296.02,127.89 L296.26,127.99 L296.51,128.1 L296.75,128.21 L297,128.32 L297.25,128.43 L297.49,128.55 L297.74,128.67 L297.98,128.79 L298.23,128.91 L298.47,129.04 L298.72,129.17 L298.96,129.3 L299.2,129.44 L299.45,129.58 L299.69,129.72 L299.94,129.86 L300.19,130.01 L300.43,130.16 L300.68,130.31 L300.92,130.47 L301.17,130.63 L301.41,130.8 L301.66,130.96 L301.9,131.14 L302.15,131.31 L302.39,131.49 L302.63,131.67 L302.88,131.86 L303.12,132.05 L303.37,132.24 L303.62,132.44 L303.86,132.65 L304.11,132.85 L304.35,133.06 L304.6,133.28 L304.84,133.5 L305.09,133.72 L305.33,133.95 L305.57,134.19 L305.82,134.43 L306.06,134.67 L306.31,134.92 L306.56,135.17 L306.8,135.43 L307.05,135.7 L307.29,135.97 L307.54,136.24 L307.78,136.52 L308.03,136.81 L308.27,137.1 L308.51,137.4 L308.76,137.7 L309,138.01 L309.25,138.33 L309.5,138.65 L309.74,138.98 L309.99,139.31 L310.23,139.65 L310.48,140 L310.72,140.35 L310.97,140.71 L311.21,141.08 L311.45,141.45 L311.7,141.83 L311.94,142.22 L312.19,142.62 L312.44,143.02 L312.68,143.43 L312.93,143.85 L313.17,144.27 L313.42,144.7 L313.66,145.14 L313.91,145.59 L314.15,146.05 L314.4,146.51 L314.64,146.98 L314.88,147.46 L315.13,147.95 L315.38,148.44 L315.62,148.95 L315.87,149.46 L316.11,149.98 L316.36,150.5 L316.6,151.04 L316.85,151.59 L317.09,152.14 L317.34,152.7 L317.58,153.27 L317.82,153.85 L318.07,154.44 L318.31,155.03 L318.56,155.64 L318.81,156.25 L319.05,156.87 L319.3,157.5 L319.54,158.14 L319.79,158.79 L320.03,159.44 L320.28,160.11 L320.52,160.78 L320.76,161.46 L321.01,162.15 L321.25,162.85 L321.5,163.55 L321.75,164.26 L321.99,164.98 L322.24,165.71 L322.48,166.45 L322.73,167.19 L322.97,167.94 L323.22,168.7 L323.46,169.46 L323.7,170.24 L323.95,171.01 L324.19,171.8 L324.44,172.59 L324.69,173.38 L324.93,174.19 L325.18,174.99 L325.42,175.81 L325.67,176.62 L325.91,177.44 L326.16,178.27 L326.4,179.1 L326.65,179.93 L326.89,180.77 L327.13,181.61 L327.38,182.45 L327.62,183.29 L327.87,184.14 L328.12,184.99 L328.36,185.83 L328.61,186.68 L328.85,187.53 L329.1,188.38 L329.34,189.22 L329.59,190.07 L329.83,190.91 L330.08,191.75 L330.32,192.59 L330.56,193.42 L330.81,194.25 L331.06,195.08 L331.3,195.9 L331.55,196.72 L331.79,197.52 L332.04,198.33 L332.28,199.12 L332.52,199.91 L332.77,200.69 L333.01,201.46 L333.26,202.22 L333.5,202.98 L333.75,203.72 L334,204.45 L334.24,205.17 L334.49,205.88 L334.73,206.58 L334.98,207.26 L335.22,207.93 L335.47,208.59 L335.71,209.24 L335.95,209.87 L336.2,210.48 L336.44,211.09 L336.69,211.67 L336.94,212.24 L337.18,212.8 L337.43,213.34 L337.67,213.86 L337.92,214.37 L338.16,214.86 L338.41,215.34 L338.65,215.8 L338.89,216.24 L339.14,216.67 L339.38,217.08 L339.63,217.47 L339.88,217.85 L340.12,218.21 L340.37,218.56 L340.61,218.89 L340.86,219.2 L341.1,219.5 L341.35,219.78 L341.59,220.05 L341.84,220.31 L342.08,220.55 L342.33,220.78 L342.57,220.99 L342.81,221.19 L343.06,221.38 L343.31,221.55 L343.55,221.72 L343.8,221.87 L344.04,222.01 L344.29,222.14 L344.53,222.27 L344.77,222.38 L345.02,222.48 L345.26,222.58 L345.51,222.66 L345.75,222.74 L346,222.82 L346.25,222.88 L346.49,222.94 L346.74,223 L346.98,223.04 L347.23,223.09 L347.47,223.13 L347.72,223.16 L347.96,223.19 L348.21,223.22 L348.45,223.25 L348.69,223.27 L348.94,223.29 L349.19,223.3 L349.43,223.32 L349.68,223.33 L349.92,223.34 L350.17,223.35 L350.41,223.36 L350.66,223.37 L350.9,223.37 L351.14,223.38 L351.39,223.38 L351.63,223.38 L351.88,223.39 L352.12,223.39 L352.37,223.39 L352.62,223.39 L352.86,223.39 L353.11,223.4 L353.35,223.4 L353.6,223.4 L353.84,223.4 L354.09,223.4 L354.33,223.4 L354.58,223.4 L354.82,223.4 L355.06,223.4 L355.31,223.4 L355.56,223.4 L355.8,223.4 L356.05,223.4 L356.29,223.4 L356.54,223.4 L356.78,223.4 L357.02,223.4 L357.27,223.4 L357.51,223.4 L357.76,223.4 L358,223.4 L358.25,223.4 L358.5,223.4 L358.74,223.4 L358.99,223.4 L359.23,223.4 L359.48,223.4 L359.72,223.4 L359.97,223.4 L360.21,223.4 L360.46,223.4 L360.7,223.4 L360.94,223.4 L361.19,223.4 L361.44,223.4 L361.68,223.4 L361.93,223.4 L362.17,223.4 L362.42,223.4 L362.66,223.4 L362.91,223.4 L363.15,223.4 L363.39,223.4 L363.64,223.4 L363.88,223.4 L364.13,223.4 L364.38,223.4 L364.62,223.4 L364.87,223.4 L365.11,223.4 L365.36,223.4 L365.6,223.4 L365.85,223.4 L366.09,223.4 L366.34,223.4 L366.58,223.4 L366.83,223.4 L367.07,223.4 L367.31,223.4 L367.56,223.4 L367.81,223.4 L368.05,223.4 L368.3,223.4 L368.54,223.4 L368.79,223.4 L369.03,223.4 L369.27,223.4 L369.52,223.4 L369.76,223.4 L370.01,223.4 L370.25,223.4 L370.5,223.4 L370.75,223.4 L370.99,223.4 L371.24,223.4 L371.48,223.4 L371.73,223.4 L371.97,223.4 L372.22,223.4 L372.46,223.4 L372.71,223.4 L372.95,223.4 L373.19,223.4 L373.44,223.4 L373.69,223.4 L373.93,223.4 L374.18,223.4 L374.42,223.4 L374.67,223.4 L374.91,223.4 L375.16,223.4 L375.4,223.4 L375.64,223.4 L375.89,223.4 L376.13,223.4 L376.38,223.4 L376.62,223.4 L376.87,223.4 L377.12,223.4 L377.36,223.4 L377.61,223.4 L377.85,223.4 L378.1,223.4 L378.34,223.4 L378.59,223.4 L378.83,223.4 L379.08,223.4 L379.32,223.4 L379.56,223.4 L379.81,223.4 L380.06,223.4 L380.3,223.4 L380.55,223.4 L380.79,223.4 L381.04,223.4 L381.28,223.4 L381.52,223.4 L381.77,223.4 L382.01,223.4 L382.26,223.4 L382.5,223.4 L382.75,223.4 L383,223.4 L383.24,223.4 L383.49,223.4 L383.73,223.4 L383.98,223.4 L384.22,223.4 L384.47,223.4 L384.71,223.4 L384.96,223.4 L385.2,223.4 L385.44,223.4 L385.69,223.4 L385.94,223.4 L386.18,223.4 L386.43,223.4 L386.67,223.4 L386.92,223.4 L387.16,223.4 L387.41,223.4 L387.65,223.4 L387.89,223.4 L388.14,223.4 L388.38,223.4 L388.63,223.4 L388.88,223.4 L389.12,223.4 L389.37,223.4 L389.61,223.4 L389.86,223.4 L390.1,223.4 L390.35,223.4 L390.59,223.4 L390.84,223.4 L391.08,223.4 L391.33,223.4 L391.57,223.4 L391.81,223.4 L392.06,223.4 L392.31,223.4 L392.55,223.4 L392.8,223.4 L393.04,223.4 L393.29,223.4 L393.53,223.4 L393.77,223.4 L394.02,223.4 L394.26,223.4 L394.51,223.4 L394.75,223.4 L395,223.4 L395.25,223.4 L395.49,223.4 L395.74,223.4 L395.98,223.4 L396.23,223.4 L396.47,223.4 L396.72,223.4 L396.96,223.4 L397.21,223.4 L397.45,223.4 L397.69,223.4 L397.94,223.4 L398.19,223.4" stroke="#cc0a0a" stroke-width="3.4" fill="none" stroke-dasharray="5.6,1.3"/>
<text x="325" y="149" font-size="10" fill="#3c6eae" stroke="#fff" stroke-width="3.2" stroke-linejoin="round" paint-order="stroke" textLength="51.9" lengthAdjust="spacingAndGlyphs">−alkene(H)</text>
<text x="290.7" y="205.6" font-size="10" fill="#d9474f" stroke="#fff" stroke-width="3.2" stroke-linejoin="round" paint-order="stroke" textLength="70.5" lengthAdjust="spacingAndGlyphs">−alkene(H)-Gd</text>
<line x1="274.4" y1="112.4" x2="274.4" y2="233.9" stroke="#555" stroke-width="1.1" />
<line x1="273.9" y1="233.4" x2="398.5" y2="233.4" stroke="#555" stroke-width="1.1" />
<line x1="274.4" y1="123.3" x2="278.8" y2="123.3" stroke="#555" stroke-width="1" />
<text x="270.6" y="126.2" font-size="9.4" fill="#231f20" text-anchor="end" >1.0</text>
<line x1="274.4" y1="173.35" x2="278.8" y2="173.35" stroke="#555" stroke-width="1" />
<text x="270.6" y="176.25" font-size="9.4" fill="#231f20" text-anchor="end" >0.5</text>
<line x1="274.4" y1="223.4" x2="278.8" y2="223.4" stroke="#555" stroke-width="1" />
<text x="270.6" y="226.3" font-size="9.4" fill="#231f20" text-anchor="end" >0</text>
<line x1="274.4" y1="198.38" x2="276.9" y2="198.38" stroke="#555" stroke-width="1" />
<line x1="274.4" y1="148.33" x2="276.9" y2="148.33" stroke="#555" stroke-width="1" />
<line x1="274.92" y1="233.4" x2="274.92" y2="231.6" stroke="#555" stroke-width="0.9" />
<line x1="276.86" y1="233.4" x2="276.86" y2="231.6" stroke="#555" stroke-width="0.9" />
<line x1="278.5" y1="233.4" x2="278.5" y2="231.6" stroke="#555" stroke-width="0.9" />
<line x1="279.93" y1="233.4" x2="279.93" y2="231.6" stroke="#555" stroke-width="0.9" />
<line x1="281.18" y1="233.4" x2="281.18" y2="231.6" stroke="#555" stroke-width="0.9" />
<line x1="282.3" y1="233.4" x2="282.3" y2="230.4" stroke="#555" stroke-width="0.9" />
<line x1="289.68" y1="233.4" x2="289.68" y2="231.6" stroke="#555" stroke-width="0.9" />
<line x1="293.99" y1="233.4" x2="293.99" y2="231.6" stroke="#555" stroke-width="0.9" />
<line x1="297.05" y1="233.4" x2="297.05" y2="231.6" stroke="#555" stroke-width="0.9" />
<line x1="299.42" y1="233.4" x2="299.42" y2="231.6" stroke="#555" stroke-width="0.9" />
<line x1="301.36" y1="233.4" x2="301.36" y2="231.6" stroke="#555" stroke-width="0.9" />
<line x1="303" y1="233.4" x2="303" y2="231.6" stroke="#555" stroke-width="0.9" />
<line x1="304.43" y1="233.4" x2="304.43" y2="231.6" stroke="#555" stroke-width="0.9" />
<line x1="305.68" y1="233.4" x2="305.68" y2="231.6" stroke="#555" stroke-width="0.9" />
<line x1="306.8" y1="233.4" x2="306.8" y2="230.4" stroke="#555" stroke-width="0.9" />
<line x1="314.18" y1="233.4" x2="314.18" y2="231.6" stroke="#555" stroke-width="0.9" />
<line x1="318.49" y1="233.4" x2="318.49" y2="231.6" stroke="#555" stroke-width="0.9" />
<line x1="321.55" y1="233.4" x2="321.55" y2="231.6" stroke="#555" stroke-width="0.9" />
<line x1="323.92" y1="233.4" x2="323.92" y2="231.6" stroke="#555" stroke-width="0.9" />
<line x1="325.86" y1="233.4" x2="325.86" y2="231.6" stroke="#555" stroke-width="0.9" />
<line x1="327.5" y1="233.4" x2="327.5" y2="231.6" stroke="#555" stroke-width="0.9" />
<line x1="328.93" y1="233.4" x2="328.93" y2="231.6" stroke="#555" stroke-width="0.9" />
<line x1="330.18" y1="233.4" x2="330.18" y2="231.6" stroke="#555" stroke-width="0.9" />
<line x1="331.3" y1="233.4" x2="331.3" y2="230.4" stroke="#555" stroke-width="0.9" />
<line x1="338.68" y1="233.4" x2="338.68" y2="231.6" stroke="#555" stroke-width="0.9" />
<line x1="342.99" y1="233.4" x2="342.99" y2="231.6" stroke="#555" stroke-width="0.9" />
<line x1="346.05" y1="233.4" x2="346.05" y2="231.6" stroke="#555" stroke-width="0.9" />
<line x1="348.42" y1="233.4" x2="348.42" y2="231.6" stroke="#555" stroke-width="0.9" />
<line x1="350.36" y1="233.4" x2="350.36" y2="231.6" stroke="#555" stroke-width="0.9" />
<line x1="352" y1="233.4" x2="352" y2="231.6" stroke="#555" stroke-width="0.9" />
<line x1="353.43" y1="233.4" x2="353.43" y2="231.6" stroke="#555" stroke-width="0.9" />
<line x1="354.68" y1="233.4" x2="354.68" y2="231.6" stroke="#555" stroke-width="0.9" />
<line x1="355.8" y1="233.4" x2="355.8" y2="230.4" stroke="#555" stroke-width="0.9" />
<line x1="363.18" y1="233.4" x2="363.18" y2="231.6" stroke="#555" stroke-width="0.9" />
<line x1="367.49" y1="233.4" x2="367.49" y2="231.6" stroke="#555" stroke-width="0.9" />
<line x1="370.55" y1="233.4" x2="370.55" y2="231.6" stroke="#555" stroke-width="0.9" />
<line x1="372.92" y1="233.4" x2="372.92" y2="231.6" stroke="#555" stroke-width="0.9" />
<line x1="374.86" y1="233.4" x2="374.86" y2="231.6" stroke="#555" stroke-width="0.9" />
<line x1="376.5" y1="233.4" x2="376.5" y2="231.6" stroke="#555" stroke-width="0.9" />
<line x1="377.93" y1="233.4" x2="377.93" y2="231.6" stroke="#555" stroke-width="0.9" />
<line x1="379.18" y1="233.4" x2="379.18" y2="231.6" stroke="#555" stroke-width="0.9" />
<line x1="380.3" y1="233.4" x2="380.3" y2="230.4" stroke="#555" stroke-width="0.9" />
<line x1="387.68" y1="233.4" x2="387.68" y2="231.6" stroke="#555" stroke-width="0.9" />
<line x1="391.99" y1="233.4" x2="391.99" y2="231.6" stroke="#555" stroke-width="0.9" />
<line x1="395.05" y1="233.4" x2="395.05" y2="231.6" stroke="#555" stroke-width="0.9" />
<line x1="397.42" y1="233.4" x2="397.42" y2="231.6" stroke="#555" stroke-width="0.9" />
<text x="282.9" y="248.1" font-size="8.6" fill="#231f20" text-anchor="middle">10<tspan font-size="6.8" dy="-3.8">−1</tspan></text>
<text x="331.9" y="248.1" font-size="8.6" fill="#231f20" text-anchor="middle">10<tspan font-size="6.8" dy="-3.8">1</tspan></text>
<text x="380.9" y="248.1" font-size="8.6" fill="#231f20" text-anchor="middle">10<tspan font-size="6.8" dy="-3.8">3</tspan></text>
<text x="297.2" y="265.1" font-size="10" fill="#231f20" textLength="78.2" lengthAdjust="spacingAndGlyphs" >Dark time, <tspan font-style="italic">τ</tspan> (μs)</text>
<text transform="translate(247.4,173.4) rotate(-90)" font-size="10" fill="#231f20" text-anchor="middle" textLength="70.2" lengthAdjust="spacingAndGlyphs">Normalized PL</text>
<text x="435.3" y="8" font-size="15.3" fill="#000" font-weight="bold" stroke="#000" stroke-width="0.5">e</text>
<path d="M470.9,19.9 L471.25,19.9 L471.6,19.9 L471.95,19.9 L472.3,19.9 L472.65,19.9 L473,19.9 L473.35,19.9 L473.7,19.9 L474.05,19.91 L474.4,19.91 L474.75,19.91 L475.1,19.91 L475.45,19.92 L475.8,19.92 L476.15,19.92 L476.5,19.93 L476.85,19.93 L477.2,19.94 L477.55,19.94 L477.9,19.95 L478.25,19.95 L478.6,19.96 L478.95,19.97 L479.3,19.97 L479.65,19.98 L480,19.99 L480.35,20 L480.7,20.01 L481.05,20.02 L481.4,20.03 L481.75,20.04 L482.1,20.05 L482.45,20.06 L482.8,20.08 L483.15,20.09 L483.5,20.1 L483.85,20.12 L484.2,20.13 L484.55,20.15 L484.9,20.17 L485.25,20.18 L485.6,20.2 L485.95,20.22 L486.3,20.24 L486.65,20.26 L487,20.28 L487.35,20.3 L487.7,20.32 L488.05,20.34 L488.4,20.36 L488.75,20.39 L489.1,20.41 L489.45,20.43 L489.8,20.46 L490.15,20.49 L490.5,20.51 L490.85,20.54 L491.2,20.57 L491.55,20.6 L491.9,20.63 L492.25,20.66 L492.6,20.69 L492.95,20.72 L493.3,20.75 L493.65,20.78 L494,20.82 L494.35,20.85 L494.7,20.89 L495.05,20.92 L495.4,20.96 L495.75,21 L496.1,21.04 L496.45,21.07 L496.8,21.11 L497.15,21.15 L497.5,21.19 L497.85,21.24 L498.2,21.28 L498.55,21.32 L498.9,21.37 L499.25,21.41 L499.6,21.46 L499.95,21.5 L500.3,21.55 L500.65,21.6 L501,21.65 L501.35,21.7 L501.7,21.75 L502.05,21.8 L502.4,21.85 L502.75,21.9 L503.1,21.95 L503.45,22.01 L503.8,22.06 L504.15,22.12 L504.5,22.17 L504.85,22.23 L505.2,22.29 L505.55,22.34 L505.9,22.4 L506.25,22.46 L506.6,22.52 L506.95,22.58 L507.3,22.64 L507.65,22.71 L508,22.77 L508.35,22.83 L508.7,22.9 L509.05,22.96 L509.4,23.03 L509.75,23.1 L510.1,23.16 L510.45,23.23 L510.8,23.3 L511.15,23.37 L511.5,23.44 L511.85,23.51 L512.2,23.58 L512.55,23.65 L512.9,23.72 L513.25,23.8 L513.6,23.87 L513.95,23.95 L514.3,24.02 L514.65,24.1 L515,24.17 L515.35,24.25 L515.7,24.33 L516.05,24.4 L516.4,24.48 L516.75,24.56 L517.1,24.64 L517.45,24.72 L517.8,24.8 L518.15,24.89 L518.5,24.97 L518.85,25.05 L519.2,25.13 L519.55,25.22 L519.9,25.3 L520.25,25.39 L520.6,25.47 L520.95,25.56 L521.3,25.64 L521.65,25.73 L522,25.82 L522.35,25.9 L522.7,25.99 L523.05,26.08 L523.4,26.17 L523.75,26.26 L524.1,26.35 L524.45,26.44 L524.8,26.53 L525.15,26.62 L525.5,26.71 L525.85,26.8 L526.2,26.9 L526.55,26.99 L526.9,27.08 L527.25,27.18 L527.6,27.27 L527.95,27.36 L528.3,27.46 L528.65,27.55 L529,27.65 L529.35,27.74 L529.7,27.84 L530.05,27.93 L530.4,28.03 L530.75,28.13 L531.1,28.22 L531.45,28.32 L531.8,28.42 L532.15,28.51 L532.5,28.61 L532.85,28.71 L533.2,28.8 L533.55,28.9 L533.9,29 L534.25,29.1 L534.6,29.2 L534.95,29.3 L535.3,29.39 L535.65,29.49 L536,29.59 L536.35,29.69 L536.7,29.79 L537.05,29.89 L537.4,29.99 L537.75,30.09 L538.1,30.19 L538.45,30.29 L538.8,30.38 L539.15,30.48 L539.5,30.58 L539.85,30.68 L540.2,30.78 L540.55,30.88 L540.9,30.98 L541.25,31.08 L541.6,31.18 L541.95,31.28 L542.3,31.38 L542.65,31.48 L543,31.57 L543.35,31.67 L543.7,31.77 L544.05,31.87 L544.4,31.97 L544.75,32.07 L545.1,32.16 L545.45,32.26 L545.8,32.36 L546.15,32.46 L546.5,32.56 L546.85,32.65 L547.2,32.75 L547.55,32.85 L547.9,32.94 L548.25,33.04 L548.6,33.14 L548.95,33.23 L549.3,33.33 L549.65,33.42 L550,33.52 L550.35,33.61 L550.7,33.71 L551.05,33.8 L551.4,33.9 L551.75,33.99 L552.1,34.08 L552.45,34.18 L552.8,34.27 L553.15,34.36 L553.5,34.45 L553.85,34.55 L554.2,34.64 L554.55,34.73 L554.9,34.82 L555.25,34.91 L555.6,35 L555.95,35.09 L556.3,35.18 L556.65,35.27 L557,35.35 L557.35,35.44 L557.7,35.53 L558.05,35.62 L558.4,35.7 L558.75,35.79 L559.1,35.87 L559.45,35.96 L559.8,36.04 L560.15,36.13 L560.5,36.21 L560.85,36.3 L561.2,36.38 L561.55,36.46 L561.9,36.54 L562.25,36.62 L562.6,36.71 L562.95,36.79 L563.3,36.87 L563.65,36.95 L564,37.02 L564.35,37.1 L564.7,37.18 L565.05,37.26 L565.4,37.34 L565.75,37.41 L566.1,37.49 L566.45,37.56 L566.8,37.64 L567.15,37.71 L567.5,37.79 L567.85,37.86 L568.2,37.93 L568.55,38 L568.9,38.07 L569.25,38.15 L569.6,38.22 L569.95,38.29 L570.3,38.36 L570.65,38.42 L571,38.49 L571.35,38.56 L571.7,38.63 L572.05,38.69 L572.4,38.76 L572.75,38.82 L573.1,38.89 L573.45,38.95 L573.8,39.02 L574.15,39.08 L574.5,39.14 L574.85,39.2 L575.2,39.27 L575.55,39.33 L575.9,39.39 L576.25,39.45 L576.6,39.5 L576.95,39.56 L577.3,39.62 L577.65,39.68 L578,39.74 L578.35,39.79 L578.7,39.85 L579.05,39.9 L579.4,39.96 L579.75,40.01 L580.1,40.06 L580.45,40.12 L580.8,40.17 L581.15,40.22 L581.5,40.27 L581.85,40.32 L582.2,40.37 L582.55,40.42 L582.9,40.47 L583.25,40.52 L583.6,40.57 L583.95,40.61 L584.3,40.66 L584.65,40.71 L585,40.75 L585.35,40.8 L585.7,40.84 L586.05,40.89 L586.4,40.93 L586.75,40.97 L587.1,41.01 L587.45,41.06 L587.8,41.1 L588.15,41.14 L588.5,41.18 L588.85,41.22 L589.2,41.26 L589.55,41.3 L589.9,41.33 L590.25,41.37 L590.6,41.41 L590.95,41.45 L591.3,41.48 L591.65,41.52 L592,41.55 L592.35,41.59 L592.7,41.62 L593.05,41.66 L593.4,41.69 L593.75,41.72 L594.1,41.76 L594.45,41.79 L594.8,41.82 L595.15,41.85 L595.5,41.88 L595.85,41.91 L596.2,41.94 L596.55,41.97 L596.9,42 L597.25,42.03 L597.6,42.06 L597.95,42.08 L598.3,42.11 L598.65,42.14 L599,42.16 L599.35,42.19 L599.7,42.22 L600.05,42.24 L600.4,42.27 L600.75,42.29 L601.1,42.31 L601.45,42.34 L601.8,42.36 L602.15,42.38 L602.5,42.41 L602.85,42.43 L603.2,42.45 L603.55,42.47 L603.9,42.49 L604.25,42.51 L604.6,42.53 L604.95,42.55 L605.3,42.57 L605.65,42.59 L606,42.61 L606.35,42.63 L606.7,42.65 L607.05,42.67 L607.4,42.69 L607.75,42.7 L608.1,42.72 L608.45,42.74 L608.8,42.75 L609.15,42.77 L609.5,42.79 L609.85,42.8 L610.2,42.82 L610.55,42.83 L610.9,42.85 L611.25,42.86 L611.6,42.87 L611.95,42.89 L612.3,42.9 L612.65,42.92 L613,42.93 L613.35,42.94 L613.7,42.95 L614.05,42.97 L614.4,42.98 L614.75,42.99 L615.1,43 L615.45,43.01 L615.8,43.03 L616.15,43.04 L616.5,43.05 L616.85,43.06 L617.2,43.07 L617.55,43.08 L617.9,43.09 L618.25,43.1 L618.6,43.11 L618.95,43.12 L619.3,43.13 L619.65,43.14 L620,43.15 L620.35,43.15 L620.7,43.16 L621.05,43.17 L621.4,43.18 L621.75,43.19 L622.1,43.19 L622.45,43.2 L622.8,43.21 L623.15,43.22 L623.5,43.22 L623.85,43.23 L624.2,43.24 L624.55,43.24 L624.9,43.25 L625.25,43.26 L625.6,43.26 L625.95,43.27 L626.3,43.28 L626.65,43.28 L627,43.29 L627.35,43.29 L627.7,43.3 L628.05,43.3 L628.4,43.31 L628.75,43.31 L629.1,43.32 L629.45,43.32 L629.8,43.33 L630.15,43.33 L630.5,43.34 L630.85,43.34 L631.2,43.35 L631.55,43.35 L631.9,43.35 L632.25,43.36 L632.6,43.36 L632.95,43.37 L633.3,43.37 L633.65,43.37 L634,43.38 L634.35,43.38 L634.7,43.38 L635.05,43.39 L635.4,43.39 L635.75,43.39 L636.1,43.4 L636.45,43.4 L636.8,43.4 L637.15,43.4 L637.5,43.41 L637.85,43.41 L638.2,43.41 L638.55,43.42 L638.9,43.42 L639.25,43.42 L639.6,43.42 L639.95,43.42 L640.3,43.43 L640.65,43.43 L641,43.43 L641.35,43.43 L641.7,43.44 L642.05,43.44 L642.4,43.44 L642.75,43.44 L643.1,43.44 L643.45,43.44 L643.8,43.45 L644.15,43.45 L644.5,43.45 L644.85,43.45 L645.2,43.45 L645.55,43.45 L645.9,43.46 L646.25,43.46 L646.6,43.46 L646.95,43.46 L647.3,43.46 L647.65,43.46 L648,43.46 L648.35,43.46 L648.7,43.47 L649.05,43.47 L649.4,43.47 L649.75,43.47 L650.1,43.47 L650.45,43.47 L650.8,43.47 L651.15,43.47 L651.5,43.47 L651.85,43.47 L652.2,43.47 L652.55,43.48 L652.9,43.48 L653.25,43.48 L653.6,43.48 L653.95,43.48 L654.3,43.48 L654.65,43.48 L655,43.48 L655.35,43.48 L655.7,43.48 L656.05,43.48 L656.4,43.48 L656.75,43.48 L657.1,43.48 L657.45,43.48 L657.8,43.49 L658.15,43.49 L658.5,43.49 L658.85,43.49 L659.2,43.49 L659.55,43.49 L659.9,43.49 L660.25,43.49 L660.6,43.49 L660.95,43.49 L661.3,43.49 L661.65,43.49 L662,43.49 L662.35,43.49 L662.7,43.49 L663.05,43.49 L663.4,43.49 L663.75,43.49 L664.1,43.49 L664.45,43.49 L664.8,43.49 L665.15,43.49 L665.5,43.49 L665.85,43.49 L666.2,43.49 L666.55,43.49 L666.9,43.49 L666.9,43.51 L666.55,43.51 L666.2,43.51 L665.85,43.51 L665.5,43.51 L665.15,43.51 L664.8,43.51 L664.45,43.51 L664.1,43.51 L663.75,43.51 L663.4,43.51 L663.05,43.51 L662.7,43.51 L662.35,43.51 L662,43.51 L661.65,43.51 L661.3,43.51 L660.95,43.51 L660.6,43.51 L660.25,43.51 L659.9,43.51 L659.55,43.51 L659.2,43.51 L658.85,43.51 L658.5,43.51 L658.15,43.51 L657.8,43.51 L657.45,43.52 L657.1,43.52 L656.75,43.52 L656.4,43.52 L656.05,43.52 L655.7,43.52 L655.35,43.52 L655,43.52 L654.65,43.52 L654.3,43.52 L653.95,43.52 L653.6,43.52 L653.25,43.52 L652.9,43.52 L652.55,43.52 L652.2,43.53 L651.85,43.53 L651.5,43.53 L651.15,43.53 L650.8,43.53 L650.45,43.53 L650.1,43.53 L649.75,43.53 L649.4,43.53 L649.05,43.53 L648.7,43.53 L648.35,43.54 L648,43.54 L647.65,43.54 L647.3,43.54 L646.95,43.54 L646.6,43.54 L646.25,43.54 L645.9,43.54 L645.55,43.55 L645.2,43.55 L644.85,43.55 L644.5,43.55 L644.15,43.55 L643.8,43.55 L643.45,43.56 L643.1,43.56 L642.75,43.56 L642.4,43.56 L642.05,43.56 L641.7,43.56 L641.35,43.57 L641,43.57 L640.65,43.57 L640.3,43.57 L639.95,43.58 L639.6,43.58 L639.25,43.58 L638.9,43.58 L638.55,43.58 L638.2,43.59 L637.85,43.59 L637.5,43.59 L637.15,43.6 L636.8,43.6 L636.45,43.6 L636.1,43.6 L635.75,43.61 L635.4,43.61 L635.05,43.61 L634.7,43.62 L634.35,43.62 L634,43.62 L633.65,43.63 L633.3,43.63 L632.95,43.63 L632.6,43.64 L632.25,43.64 L631.9,43.65 L631.55,43.65 L631.2,43.65 L630.85,43.66 L630.5,43.66 L630.15,43.67 L629.8,43.67 L629.45,43.68 L629.1,43.68 L628.75,43.69 L628.4,43.69 L628.05,43.7 L627.7,43.7 L627.35,43.71 L627,43.71 L626.65,43.72 L626.3,43.72 L625.95,43.73 L625.6,43.74 L625.25,43.74 L624.9,43.75 L624.55,43.76 L624.2,43.76 L623.85,43.77 L623.5,43.78 L623.15,43.78 L622.8,43.79 L622.45,43.8 L622.1,43.81 L621.75,43.81 L621.4,43.82 L621.05,43.83 L620.7,43.84 L620.35,43.85 L620,43.85 L619.65,43.86 L619.3,43.87 L618.95,43.88 L618.6,43.89 L618.25,43.9 L617.9,43.91 L617.55,43.92 L617.2,43.93 L616.85,43.94 L616.5,43.95 L616.15,43.96 L615.8,43.97 L615.45,43.99 L615.1,44 L614.75,44.01 L614.4,44.02 L614.05,44.03 L613.7,44.05 L613.35,44.06 L613,44.07 L612.65,44.08 L612.3,44.1 L611.95,44.11 L611.6,44.13 L611.25,44.14 L610.9,44.15 L610.55,44.17 L610.2,44.18 L609.85,44.2 L609.5,44.21 L609.15,44.23 L608.8,44.25 L608.45,44.26 L608.1,44.28 L607.75,44.3 L607.4,44.31 L607.05,44.33 L606.7,44.35 L606.35,44.37 L606,44.39 L605.65,44.41 L605.3,44.43 L604.95,44.45 L604.6,44.47 L604.25,44.49 L603.9,44.51 L603.55,44.53 L603.2,44.55 L602.85,44.57 L602.5,44.59 L602.15,44.62 L601.8,44.64 L601.45,44.66 L601.1,44.69 L600.75,44.71 L600.4,44.73 L600.05,44.76 L599.7,44.78 L599.35,44.81 L599,44.84 L598.65,44.86 L598.3,44.89 L597.95,44.92 L597.6,44.94 L597.25,44.97 L596.9,45 L596.55,45.03 L596.2,45.06 L595.85,45.09 L595.5,45.12 L595.15,45.15 L594.8,45.18 L594.45,45.21 L594.1,45.24 L593.75,45.28 L593.4,45.31 L593.05,45.34 L592.7,45.38 L592.35,45.41 L592,45.45 L591.65,45.48 L591.3,45.52 L590.95,45.55 L590.6,45.59 L590.25,45.63 L589.9,45.67 L589.55,45.7 L589.2,45.74 L588.85,45.78 L588.5,45.82 L588.15,45.86 L587.8,45.9 L587.45,45.94 L587.1,45.99 L586.75,46.03 L586.4,46.07 L586.05,46.11 L585.7,46.16 L585.35,46.2 L585,46.25 L584.65,46.29 L584.3,46.34 L583.95,46.39 L583.6,46.43 L583.25,46.48 L582.9,46.53 L582.55,46.58 L582.2,46.63 L581.85,46.68 L581.5,46.73 L581.15,46.78 L580.8,46.83 L580.45,46.88 L580.1,46.94 L579.75,46.99 L579.4,47.04 L579.05,47.1 L578.7,47.15 L578.35,47.21 L578,47.26 L577.65,47.32 L577.3,47.38 L576.95,47.44 L576.6,47.5 L576.25,47.55 L575.9,47.61 L575.55,47.67 L575.2,47.73 L574.85,47.8 L574.5,47.86 L574.15,47.92 L573.8,47.98 L573.45,48.05 L573.1,48.11 L572.75,48.18 L572.4,48.24 L572.05,48.31 L571.7,48.37 L571.35,48.44 L571,48.51 L570.65,48.58 L570.3,48.64 L569.95,48.71 L569.6,48.78 L569.25,48.85 L568.9,48.93 L568.55,49 L568.2,49.07 L567.85,49.14 L567.5,49.21 L567.15,49.29 L566.8,49.36 L566.45,49.44 L566.1,49.51 L565.75,49.59 L565.4,49.66 L565.05,49.74 L564.7,49.82 L564.35,49.9 L564,49.98 L563.65,50.05 L563.3,50.13 L562.95,50.21 L562.6,50.29 L562.25,50.38 L561.9,50.46 L561.55,50.54 L561.2,50.62 L560.85,50.7 L560.5,50.79 L560.15,50.87 L559.8,50.96 L559.45,51.04 L559.1,51.13 L558.75,51.21 L558.4,51.3 L558.05,51.38 L557.7,51.47 L557.35,51.56 L557,51.65 L556.65,51.73 L556.3,51.82 L555.95,51.91 L555.6,52 L555.25,52.09 L554.9,52.18 L554.55,52.27 L554.2,52.36 L553.85,52.45 L553.5,52.55 L553.15,52.64 L552.8,52.73 L552.45,52.82 L552.1,52.92 L551.75,53.01 L551.4,53.1 L551.05,53.2 L550.7,53.29 L550.35,53.39 L550,53.48 L549.65,53.58 L549.3,53.67 L548.95,53.77 L548.6,53.86 L548.25,53.96 L547.9,54.06 L547.55,54.15 L547.2,54.25 L546.85,54.35 L546.5,54.44 L546.15,54.54 L545.8,54.64 L545.45,54.74 L545.1,54.84 L544.75,54.93 L544.4,55.03 L544.05,55.13 L543.7,55.23 L543.35,55.33 L543,55.43 L542.65,55.52 L542.3,55.62 L541.95,55.72 L541.6,55.82 L541.25,55.92 L540.9,56.02 L540.55,56.12 L540.2,56.22 L539.85,56.32 L539.5,56.42 L539.15,56.52 L538.8,56.62 L538.45,56.71 L538.1,56.81 L537.75,56.91 L537.4,57.01 L537.05,57.11 L536.7,57.21 L536.35,57.31 L536,57.41 L535.65,57.51 L535.3,57.61 L534.95,57.7 L534.6,57.8 L534.25,57.9 L533.9,58 L533.55,58.1 L533.2,58.2 L532.85,58.29 L532.5,58.39 L532.15,58.49 L531.8,58.58 L531.45,58.68 L531.1,58.78 L530.75,58.87 L530.4,58.97 L530.05,59.07 L529.7,59.16 L529.35,59.26 L529,59.35 L528.65,59.45 L528.3,59.54 L527.95,59.64 L527.6,59.73 L527.25,59.82 L526.9,59.92 L526.55,60.01 L526.2,60.1 L525.85,60.2 L525.5,60.29 L525.15,60.38 L524.8,60.47 L524.45,60.56 L524.1,60.65 L523.75,60.74 L523.4,60.83 L523.05,60.92 L522.7,61.01 L522.35,61.1 L522,61.18 L521.65,61.27 L521.3,61.36 L520.95,61.44 L520.6,61.53 L520.25,61.61 L519.9,61.7 L519.55,61.78 L519.2,61.87 L518.85,61.95 L518.5,62.03 L518.15,62.11 L517.8,62.2 L517.45,62.28 L517.1,62.36 L516.75,62.44 L516.4,62.52 L516.05,62.6 L515.7,62.67 L515.35,62.75 L515,62.83 L514.65,62.9 L514.3,62.98 L513.95,63.05 L513.6,63.13 L513.25,63.2 L512.9,63.28 L512.55,63.35 L512.2,63.42 L511.85,63.49 L511.5,63.56 L511.15,63.63 L510.8,63.7 L510.45,63.77 L510.1,63.84 L509.75,63.9 L509.4,63.97 L509.05,64.04 L508.7,64.1 L508.35,64.17 L508,64.23 L507.65,64.29 L507.3,64.36 L506.95,64.42 L506.6,64.48 L506.25,64.54 L505.9,64.6 L505.55,64.66 L505.2,64.71 L504.85,64.77 L504.5,64.83 L504.15,64.88 L503.8,64.94 L503.45,64.99 L503.1,65.05 L502.75,65.1 L502.4,65.15 L502.05,65.2 L501.7,65.25 L501.35,65.3 L501,65.35 L500.65,65.4 L500.3,65.45 L499.95,65.5 L499.6,65.54 L499.25,65.59 L498.9,65.63 L498.55,65.68 L498.2,65.72 L497.85,65.76 L497.5,65.81 L497.15,65.85 L496.8,65.89 L496.45,65.93 L496.1,65.96 L495.75,66 L495.4,66.04 L495.05,66.08 L494.7,66.11 L494.35,66.15 L494,66.18 L493.65,66.22 L493.3,66.25 L492.95,66.28 L492.6,66.31 L492.25,66.34 L491.9,66.37 L491.55,66.4 L491.2,66.43 L490.85,66.46 L490.5,66.49 L490.15,66.51 L489.8,66.54 L489.45,66.57 L489.1,66.59 L488.75,66.61 L488.4,66.64 L488.05,66.66 L487.7,66.68 L487.35,66.7 L487,66.72 L486.65,66.74 L486.3,66.76 L485.95,66.78 L485.6,66.8 L485.25,66.82 L484.9,66.83 L484.55,66.85 L484.2,66.87 L483.85,66.88 L483.5,66.9 L483.15,66.91 L482.8,66.92 L482.45,66.94 L482.1,66.95 L481.75,66.96 L481.4,66.97 L481.05,66.98 L480.7,66.99 L480.35,67 L480,67.01 L479.65,67.02 L479.3,67.03 L478.95,67.03 L478.6,67.04 L478.25,67.05 L477.9,67.05 L477.55,67.06 L477.2,67.06 L476.85,67.07 L476.5,67.07 L476.15,67.08 L475.8,67.08 L475.45,67.08 L475.1,67.09 L474.75,67.09 L474.4,67.09 L474.05,67.09 L473.7,67.1 L473.35,67.1 L473,67.1 L472.65,67.1 L472.3,67.1 L471.95,67.1 L471.6,67.1 L471.25,67.1 L470.9,67.1 Z" fill="#cacaca"/>
<path d="M470.9,21.1 L471.25,22.93 L471.6,28.13 L471.95,35.84 L472.3,44.8 L472.65,53.55 L473,60.66 L473.35,64.96 L473.7,65.74 L474.05,62.89 L474.4,56.87 L474.75,48.66 L475.1,39.61 L475.45,31.2 L475.8,24.8 L476.15,21.46 L476.5,21.73 L476.85,25.56 L477.2,32.32 L477.55,40.9 L477.9,49.91 L478.25,57.87 L478.6,63.47 L478.95,65.8 L479.3,64.48 L479.65,59.74 L480,52.34 L480.35,43.5 L480.7,34.67 L481.05,27.29 L481.4,22.57 L481.75,21.27 L482.1,23.61 L482.45,29.2 L482.8,37.12 L483.15,46.08 L483.5,54.6 L483.85,61.3 L484.2,65.08 L484.55,65.33 L484.9,62 L485.25,55.66 L485.6,47.34 L485.95,38.4 L486.3,30.31 L486.65,24.39 L487,21.61 L487.35,22.4 L487.7,26.64 L488.05,33.63 L488.4,42.22 L488.75,51 L489.1,58.54 L489.45,63.6 L489.8,65.37 L490.15,63.56 L490.5,58.47 L490.85,50.95 L491.2,42.23 L491.55,33.74 L491.9,26.87 L492.25,22.73 L492.6,21.99 L492.95,24.77 L493.3,30.61 L493.65,38.53 L494,47.24 L494.35,55.31 L494.7,61.43 L495.05,64.6 L495.4,64.32 L495.75,60.63 L496.1,54.16 L496.45,45.97 L496.8,37.41 L497.15,29.87 L497.5,24.58 L497.85,22.4 L498.2,23.68 L498.55,28.19 L498.9,35.18 L499.25,43.5 L499.6,51.79 L499.95,58.69 L500.3,63.08 L500.65,64.25 L501,62.04 L501.35,56.8 L501.7,49.42 L502.05,41.11 L502.4,33.22 L502.75,27.05 L503.1,23.6 L503.45,23.41 L503.8,26.5 L504.15,32.35 L504.5,39.98 L504.85,48.16 L505.2,55.52 L505.55,60.89 L505.9,63.39 L506.25,62.63 L506.6,58.75 L506.95,52.41 L507.3,44.65 L507.65,36.75 L508,30 L508.35,25.49 L508.7,23.95 L509.05,25.6 L509.4,30.17 L509.75,36.88 L510.1,44.62 L510.45,52.13 L510.8,58.19 L511.15,61.81 L511.5,62.41 L511.85,59.93 L512.2,54.79 L512.55,47.84 L512.9,40.24 L513.25,33.22 L513.6,27.93 L513.95,25.22 L514.3,25.51 L514.65,28.73 L515,34.33 L515.35,41.38 L515.7,48.72 L516.05,55.15 L516.4,59.63 L516.75,61.44 L517.1,60.32 L517.45,56.46 L517.8,50.53 L518.15,43.5 L518.5,36.53 L518.85,30.76 L519.2,27.12 L519.55,26.18 L519.9,28.06 L520.25,32.45 L520.6,38.59 L520.95,45.48 L521.3,51.97 L521.65,57.03 L522,59.83 L522.35,59.95 L522.7,57.38 L523.05,52.59 L523.4,46.36 L523.75,39.73 L524.1,33.78 L524.45,29.48 L524.8,27.5 L525.15,28.15 L525.5,31.29 L525.85,36.39 L526.2,42.58 L526.55,48.86 L526.9,54.19 L527.25,57.73 L527.6,58.91 L527.95,57.56 L528.3,53.95 L528.65,48.68 L529,42.63 L529.35,36.79 L529.7,32.11 L530.05,29.35 L530.4,28.91 L530.75,30.86 L531.1,34.84 L531.45,40.18 L531.8,45.99 L532.15,51.32 L532.5,55.31 L532.85,57.33 L533.2,57.07 L533.55,54.61 L533.9,50.38 L534.25,45.09 L534.6,39.61 L534.95,34.83 L535.3,31.54 L535.65,30.23 L536,31.09 L536.35,33.97 L536.7,38.35 L537.05,43.5 L537.4,48.58 L537.75,52.76 L538.1,55.37 L538.45,56.02 L538.8,54.62 L539.15,51.44 L539.5,47.02 L539.85,42.09 L540.2,37.46 L540.55,33.89 L540.9,31.94 L541.25,31.89 L541.6,33.73 L541.95,37.13 L542.3,41.5 L542.65,46.13 L543,50.26 L543.35,53.22 L543.7,54.56 L544.05,54.07 L544.4,51.88 L544.75,48.37 L545.1,44.13 L545.45,39.85 L545.8,36.24 L546.15,33.88 L546.5,33.11 L546.85,34.05 L547.2,36.5 L547.55,40.04 L547.9,44.08 L548.25,47.96 L548.6,51.04 L548.95,52.84 L549.3,53.09 L549.65,51.78 L550,49.16 L550.35,45.66 L550.7,41.89 L551.05,38.44 L551.4,35.88 L551.75,34.61 L552.1,34.8 L552.45,36.4 L552.8,39.12 L553.15,42.49 L553.5,45.96 L553.85,48.96 L554.2,51.02 L554.55,51.81 L554.9,51.24 L555.25,49.43 L555.6,46.7 L555.95,43.5 L556.3,40.37 L556.65,37.81 L557,36.23 L557.35,35.86 L557.7,36.74 L558.05,38.69 L558.4,41.38 L558.75,44.35 L559.1,47.12 L559.45,49.24 L559.8,50.39 L560.15,50.39 L560.5,49.28 L560.85,47.26 L561.2,44.67 L561.55,41.96 L561.9,39.56 L562.25,37.85 L562.6,37.09 L562.95,37.4 L563.3,38.68 L563.65,40.71 L564,43.14 L564.35,45.58 L564.7,47.62 L565.05,48.94 L565.4,49.35 L565.75,48.81 L566.1,47.42 L566.45,45.43 L566.8,43.18 L567.15,41.03 L567.5,39.34 L567.85,38.37 L568.2,38.25 L568.55,38.98 L568.9,40.42 L569.25,42.33 L569.6,44.37 L569.95,46.22 L570.3,47.58 L570.65,48.24 L571,48.13 L571.35,47.26 L571.7,45.81 L572.05,44.03 L572.4,42.21 L572.75,40.65 L573.1,39.59 L573.45,39.19 L573.8,39.5 L574.15,40.45 L574.5,41.86 L574.85,43.5 L575.2,45.09 L575.55,46.38 L575.9,47.17 L576.25,47.34 L576.6,46.89 L576.95,45.9 L577.3,44.56 L577.65,43.08 L578,41.71 L578.35,40.68 L578.7,40.13 L579.05,40.14 L579.4,40.69 L579.75,41.68 L580.1,42.93 L580.45,44.24 L580.8,45.39 L581.15,46.2 L581.5,46.54 L581.85,46.39 L582.2,45.77 L582.55,44.81 L582.9,43.67 L583.25,42.53 L583.6,41.59 L583.95,40.98 L584.3,40.8 L584.65,41.07 L585,41.71 L585.35,42.62 L585.7,43.65 L586.05,44.61 L586.4,45.37 L586.75,45.8 L587.1,45.84 L587.45,45.51 L587.8,44.86 L588.15,44.02 L588.5,43.12 L588.85,42.31 L589.2,41.72 L589.55,41.44 L589.9,41.5 L590.25,41.88 L590.6,42.51 L590.95,43.27 L591.3,44.05 L591.65,44.71 L592,45.15 L592.35,45.31 L592.7,45.17 L593.05,44.77 L593.4,44.18 L593.75,43.5 L594.1,42.84 L594.45,42.32 L594.8,42 L595.15,41.94 L595.5,42.13 L595.85,42.53 L596.2,43.08 L596.55,43.67 L596.9,44.21 L597.25,44.62 L597.6,44.83 L597.95,44.82 L598.3,44.6 L598.65,44.21 L599,43.72 L599.35,43.21 L599.7,42.77 L600.05,42.47 L600.4,42.34 L600.75,42.4 L601.1,42.64 L601.45,43.01 L601.8,43.44 L602.15,43.86 L602.5,44.21 L602.85,44.43 L603.2,44.5 L603.55,44.4 L603.9,44.16 L604.25,43.82 L604.6,43.45 L604.95,43.1 L605.3,42.83 L605.65,42.68 L606,42.66 L606.35,42.79 L606.7,43.02 L607.05,43.32 L607.4,43.63 L607.75,43.92 L608.1,44.12 L608.45,44.21 L608.8,44.19 L609.15,44.06 L609.5,43.84 L609.85,43.58 L610.2,43.31 L610.55,43.09 L610.9,42.95 L611.25,42.89 L611.6,42.94 L611.95,43.08 L612.3,43.28 L612.65,43.5 L613,43.71 L613.35,43.89 L613.7,43.99 L614.05,44 L614.4,43.94 L614.75,43.81 L615.1,43.64 L615.45,43.45 L615.8,43.28 L616.15,43.15 L616.5,43.08 L616.85,43.09 L617.2,43.16 L617.55,43.28 L617.9,43.43 L618.25,43.59 L618.6,43.72 L618.95,43.81 L619.3,43.85 L619.65,43.83 L620,43.76 L620.35,43.65 L620.7,43.52 L621.05,43.39 L621.4,43.29 L621.75,43.23 L622.1,43.21 L622.45,43.24 L622.8,43.31 L623.15,43.41 L623.5,43.52 L623.85,43.61 L624.2,43.69 L624.55,43.73 L624.9,43.73 L625.25,43.7 L625.6,43.63 L625.95,43.55 L626.3,43.46 L626.65,43.39 L627,43.33 L627.35,43.31 L627.7,43.31 L628.05,43.35 L628.4,43.41 L628.75,43.48 L629.1,43.55 L629.45,43.61 L629.8,43.65 L630.15,43.66 L630.5,43.65 L630.85,43.61 L631.2,43.56 L631.55,43.5 L631.9,43.45 L632.25,43.4 L632.6,43.38 L632.95,43.37 L633.3,43.39 L633.65,43.42 L634,43.47 L634.35,43.51 L634.7,43.56 L635.05,43.59 L635.4,43.6 L635.75,43.6 L636.1,43.58 L636.45,43.55 L636.8,43.52 L637.15,43.48 L637.5,43.45 L637.85,43.43 L638.2,43.42 L638.55,43.42 L638.9,43.44 L639.25,43.47 L639.6,43.5 L639.95,43.52 L640.3,43.55 L640.65,43.56 L641,43.57 L641.35,43.56 L641.7,43.54 L642.05,43.52 L642.4,43.5 L642.75,43.47 L643.1,43.46 L643.45,43.45 L643.8,43.45 L644.15,43.46 L644.5,43.47 L644.85,43.49 L645.2,43.51 L645.55,43.52 L645.9,43.54 L646.25,43.54 L646.6,43.54 L646.95,43.53 L647.3,43.52 L647.65,43.5 L648,43.49 L648.35,43.48 L648.7,43.47 L649.05,43.47 L649.4,43.47 L649.75,43.48 L650.1,43.49 L650.45,43.5 L650.8,43.51 L651.15,43.52 L651.5,43.52 L651.85,43.52 L652.2,43.52 L652.55,43.51 L652.9,43.51 L653.25,43.5 L653.6,43.49 L653.95,43.48 L654.3,43.48 L654.65,43.48 L655,43.48 L655.35,43.49 L655.7,43.5 L656.05,43.5 L656.4,43.51 L656.75,43.51 L657.1,43.51 L657.45,43.51 L657.8,43.51 L658.15,43.51 L658.5,43.5 L658.85,43.5 L659.2,43.49 L659.55,43.49 L659.9,43.49 L660.25,43.49 L660.6,43.49 L660.95,43.5 L661.3,43.5 L661.65,43.5 L662,43.51 L662.35,43.51 L662.7,43.51 L663.05,43.51 L663.4,43.5 L663.75,43.5 L664.1,43.5 L664.45,43.5 L664.8,43.49 L665.15,43.49 L665.5,43.49 L665.85,43.5 L666.2,43.5 L666.55,43.5 L666.9,43.5" stroke="#3d3d3d" stroke-width="2.7" fill="none" stroke-linejoin="round"/>
<path d="M471.6,79.2 L471.9,121.4 L472.6,88 L473.1,110 L473.6,97 L474.2,103 L474.8,101.8" stroke="#2b5c96" stroke-width="2.2" fill="none" />
<line x1="473.5" y1="101.8" x2="667.1" y2="101.8" stroke="#2b5c96" stroke-width="2.5" />
<line x1="506.3" y1="99.5" x2="506.3" y2="104.1" stroke="#fff" stroke-width="0.8" />
<path d="M470.9,136.6 L471.25,136.6 L471.6,136.6 L471.95,136.6 L472.3,136.6 L472.65,136.6 L473,136.61 L473.35,136.61 L473.7,136.61 L474.05,136.61 L474.4,136.62 L474.75,136.62 L475.1,136.63 L475.45,136.63 L475.8,136.64 L476.15,136.65 L476.5,136.65 L476.85,136.66 L477.2,136.67 L477.55,136.68 L477.9,136.69 L478.25,136.7 L478.6,136.71 L478.95,136.72 L479.3,136.74 L479.65,136.75 L480,136.77 L480.35,136.78 L480.7,136.8 L481.05,136.81 L481.4,136.83 L481.75,136.85 L482.1,136.87 L482.45,136.89 L482.8,136.91 L483.15,136.93 L483.5,136.95 L483.85,136.98 L484.2,137 L484.55,137.03 L484.9,137.05 L485.25,137.08 L485.6,137.11 L485.95,137.14 L486.3,137.16 L486.65,137.2 L487,137.23 L487.35,137.26 L487.7,137.29 L488.05,137.32 L488.4,137.36 L488.75,137.4 L489.1,137.43 L489.45,137.47 L489.8,137.51 L490.15,137.55 L490.5,137.59 L490.85,137.63 L491.2,137.67 L491.55,137.71 L491.9,137.76 L492.25,137.8 L492.6,137.85 L492.95,137.89 L493.3,137.94 L493.65,137.99 L494,138.04 L494.35,138.09 L494.7,138.14 L495.05,138.19 L495.4,138.24 L495.75,138.3 L496.1,138.35 L496.45,138.41 L496.8,138.46 L497.15,138.52 L497.5,138.58 L497.85,138.64 L498.2,138.7 L498.55,138.76 L498.9,138.82 L499.25,138.88 L499.6,138.94 L499.95,139.01 L500.3,139.07 L500.65,139.14 L501,139.21 L501.35,139.27 L501.7,139.34 L502.05,139.41 L502.4,139.48 L502.75,139.55 L503.1,139.62 L503.45,139.7 L503.8,139.77 L504.15,139.84 L504.5,139.92 L504.85,139.99 L505.2,140.07 L505.55,140.15 L505.9,140.23 L506.25,140.3 L506.6,140.38 L506.95,140.46 L507.3,140.54 L507.65,140.63 L508,140.71 L508.35,140.79 L508.7,140.88 L509.05,140.96 L509.4,141.04 L509.75,141.13 L510.1,141.22 L510.45,141.3 L510.8,141.39 L511.15,141.48 L511.5,141.57 L511.85,141.66 L512.2,141.75 L512.55,141.84 L512.9,141.93 L513.25,142.02 L513.6,142.11 L513.95,142.21 L514.3,142.3 L514.65,142.4 L515,142.49 L515.35,142.58 L515.7,142.68 L516.05,142.78 L516.4,142.87 L516.75,142.97 L517.1,143.07 L517.45,143.17 L517.8,143.26 L518.15,143.36 L518.5,143.46 L518.85,143.56 L519.2,143.66 L519.55,143.76 L519.9,143.86 L520.25,143.96 L520.6,144.06 L520.95,144.17 L521.3,144.27 L521.65,144.37 L522,144.47 L522.35,144.58 L522.7,144.68 L523.05,144.78 L523.4,144.89 L523.75,144.99 L524.1,145.09 L524.45,145.2 L524.8,145.3 L525.15,145.41 L525.5,145.51 L525.85,145.62 L526.2,145.72 L526.55,145.83 L526.9,145.93 L527.25,146.04 L527.6,146.14 L527.95,146.25 L528.3,146.36 L528.65,146.46 L529,146.57 L529.35,146.67 L529.7,146.78 L530.05,146.89 L530.4,146.99 L530.75,147.1 L531.1,147.2 L531.45,147.31 L531.8,147.42 L532.15,147.52 L532.5,147.63 L532.85,147.73 L533.2,147.84 L533.55,147.94 L533.9,148.05 L534.25,148.15 L534.6,148.26 L534.95,148.36 L535.3,148.47 L535.65,148.57 L536,148.68 L536.35,148.78 L536.7,148.89 L537.05,148.99 L537.4,149.09 L537.75,149.2 L538.1,149.3 L538.45,149.4 L538.8,149.51 L539.15,149.61 L539.5,149.71 L539.85,149.81 L540.2,149.91 L540.55,150.02 L540.9,150.12 L541.25,150.22 L541.6,150.32 L541.95,150.42 L542.3,150.52 L542.65,150.62 L543,150.71 L543.35,150.81 L543.7,150.91 L544.05,151.01 L544.4,151.11 L544.75,151.2 L545.1,151.3 L545.45,151.4 L545.8,151.49 L546.15,151.59 L546.5,151.68 L546.85,151.77 L547.2,151.87 L547.55,151.96 L547.9,152.05 L548.25,152.15 L548.6,152.24 L548.95,152.33 L549.3,152.42 L549.65,152.51 L550,152.6 L550.35,152.69 L550.7,152.78 L551.05,152.87 L551.4,152.96 L551.75,153.04 L552.1,153.13 L552.45,153.21 L552.8,153.3 L553.15,153.39 L553.5,153.47 L553.85,153.55 L554.2,153.64 L554.55,153.72 L554.9,153.8 L555.25,153.88 L555.6,153.96 L555.95,154.04 L556.3,154.12 L556.65,154.2 L557,154.28 L557.35,154.36 L557.7,154.44 L558.05,154.51 L558.4,154.59 L558.75,154.66 L559.1,154.74 L559.45,154.81 L559.8,154.89 L560.15,154.96 L560.5,155.03 L560.85,155.1 L561.2,155.18 L561.55,155.25 L561.9,155.32 L562.25,155.39 L562.6,155.45 L562.95,155.52 L563.3,155.59 L563.65,155.66 L564,155.72 L564.35,155.79 L564.7,155.85 L565.05,155.92 L565.4,155.98 L565.75,156.04 L566.1,156.1 L566.45,156.17 L566.8,156.23 L567.15,156.29 L567.5,156.35 L567.85,156.41 L568.2,156.47 L568.55,156.52 L568.9,156.58 L569.25,156.64 L569.6,156.69 L569.95,156.75 L570.3,156.8 L570.65,156.86 L571,156.91 L571.35,156.96 L571.7,157.02 L572.05,157.07 L572.4,157.12 L572.75,157.17 L573.1,157.22 L573.45,157.27 L573.8,157.32 L574.15,157.37 L574.5,157.41 L574.85,157.46 L575.2,157.51 L575.55,157.55 L575.9,157.6 L576.25,157.64 L576.6,157.69 L576.95,157.73 L577.3,157.77 L577.65,157.82 L578,157.86 L578.35,157.9 L578.7,157.94 L579.05,157.98 L579.4,158.02 L579.75,158.06 L580.1,158.1 L580.45,158.13 L580.8,158.17 L581.15,158.21 L581.5,158.25 L581.85,158.28 L582.2,158.32 L582.55,158.35 L582.9,158.39 L583.25,158.42 L583.6,158.45 L583.95,158.49 L584.3,158.52 L584.65,158.55 L585,158.58 L585.35,158.61 L585.7,158.64 L586.05,158.67 L586.4,158.7 L586.75,158.73 L587.1,158.76 L587.45,158.79 L587.8,158.82 L588.15,158.85 L588.5,158.87 L588.85,158.9 L589.2,158.92 L589.55,158.95 L589.9,158.98 L590.25,159 L590.6,159.03 L590.95,159.05 L591.3,159.07 L591.65,159.1 L592,159.12 L592.35,159.14 L592.7,159.16 L593.05,159.18 L593.4,159.21 L593.75,159.23 L594.1,159.25 L594.45,159.27 L594.8,159.29 L595.15,159.31 L595.5,159.33 L595.85,159.35 L596.2,159.36 L596.55,159.38 L596.9,159.4 L597.25,159.42 L597.6,159.43 L597.95,159.45 L598.3,159.47 L598.65,159.48 L599,159.5 L599.35,159.52 L599.7,159.53 L600.05,159.55 L600.4,159.56 L600.75,159.58 L601.1,159.59 L601.45,159.6 L601.8,159.62 L602.15,159.63 L602.5,159.64 L602.85,159.66 L603.2,159.67 L603.55,159.68 L603.9,159.69 L604.25,159.71 L604.6,159.72 L604.95,159.73 L605.3,159.74 L605.65,159.75 L606,159.76 L606.35,159.77 L606.7,159.78 L607.05,159.79 L607.4,159.8 L607.75,159.81 L608.1,159.82 L608.45,159.83 L608.8,159.84 L609.15,159.85 L609.5,159.86 L609.85,159.87 L610.2,159.87 L610.55,159.88 L610.9,159.89 L611.25,159.9 L611.6,159.91 L611.95,159.91 L612.3,159.92 L612.65,159.93 L613,159.94 L613.35,159.94 L613.7,159.95 L614.05,159.96 L614.4,159.96 L614.75,159.97 L615.1,159.97 L615.45,159.98 L615.8,159.99 L616.15,159.99 L616.5,160 L616.85,160 L617.2,160.01 L617.55,160.01 L617.9,160.02 L618.25,160.02 L618.6,160.03 L618.95,160.03 L619.3,160.04 L619.65,160.04 L620,160.05 L620.35,160.05 L620.7,160.05 L621.05,160.06 L621.4,160.06 L621.75,160.07 L622.1,160.07 L622.45,160.07 L622.8,160.08 L623.15,160.08 L623.5,160.08 L623.85,160.09 L624.2,160.09 L624.55,160.09 L624.9,160.1 L625.25,160.1 L625.6,160.1 L625.95,160.1 L626.3,160.11 L626.65,160.11 L627,160.11 L627.35,160.12 L627.7,160.12 L628.05,160.12 L628.4,160.12 L628.75,160.12 L629.1,160.13 L629.45,160.13 L629.8,160.13 L630.15,160.13 L630.5,160.14 L630.85,160.14 L631.2,160.14 L631.55,160.14 L631.9,160.14 L632.25,160.14 L632.6,160.15 L632.95,160.15 L633.3,160.15 L633.65,160.15 L634,160.15 L634.35,160.15 L634.7,160.16 L635.05,160.16 L635.4,160.16 L635.75,160.16 L636.1,160.16 L636.45,160.16 L636.8,160.16 L637.15,160.16 L637.5,160.17 L637.85,160.17 L638.2,160.17 L638.55,160.17 L638.9,160.17 L639.25,160.17 L639.6,160.17 L639.95,160.17 L640.3,160.17 L640.65,160.17 L641,160.18 L641.35,160.18 L641.7,160.18 L642.05,160.18 L642.4,160.18 L642.75,160.18 L643.1,160.18 L643.45,160.18 L643.8,160.18 L644.15,160.18 L644.5,160.18 L644.85,160.18 L645.2,160.18 L645.55,160.18 L645.9,160.18 L646.25,160.18 L646.6,160.19 L646.95,160.19 L647.3,160.19 L647.65,160.19 L648,160.19 L648.35,160.19 L648.7,160.19 L649.05,160.19 L649.4,160.19 L649.75,160.19 L650.1,160.19 L650.45,160.19 L650.8,160.19 L651.15,160.19 L651.5,160.19 L651.85,160.19 L652.2,160.19 L652.55,160.19 L652.9,160.19 L653.25,160.19 L653.6,160.19 L653.95,160.19 L654.3,160.19 L654.65,160.19 L655,160.19 L655.35,160.19 L655.7,160.19 L656.05,160.19 L656.4,160.19 L656.75,160.19 L657.1,160.2 L657.45,160.2 L657.8,160.2 L658.15,160.2 L658.5,160.2 L658.85,160.2 L659.2,160.2 L659.55,160.2 L659.9,160.2 L660.25,160.2 L660.6,160.2 L660.95,160.2 L661.3,160.2 L661.65,160.2 L662,160.2 L662.35,160.2 L662.7,160.2 L663.05,160.2 L663.4,160.2 L663.75,160.2 L664.1,160.2 L664.45,160.2 L664.8,160.2 L665.15,160.2 L665.5,160.2 L665.85,160.2 L666.2,160.2 L666.55,160.2 L666.9,160.2 L666.9,160.2 L666.55,160.2 L666.2,160.2 L665.85,160.2 L665.5,160.2 L665.15,160.2 L664.8,160.2 L664.45,160.2 L664.1,160.2 L663.75,160.2 L663.4,160.2 L663.05,160.2 L662.7,160.2 L662.35,160.2 L662,160.2 L661.65,160.2 L661.3,160.2 L660.95,160.2 L660.6,160.2 L660.25,160.2 L659.9,160.2 L659.55,160.2 L659.2,160.2 L658.85,160.2 L658.5,160.2 L658.15,160.2 L657.8,160.2 L657.45,160.2 L657.1,160.2 L656.75,160.21 L656.4,160.21 L656.05,160.21 L655.7,160.21 L655.35,160.21 L655,160.21 L654.65,160.21 L654.3,160.21 L653.95,160.21 L653.6,160.21 L653.25,160.21 L652.9,160.21 L652.55,160.21 L652.2,160.21 L651.85,160.21 L651.5,160.21 L651.15,160.21 L650.8,160.21 L650.45,160.21 L650.1,160.21 L649.75,160.21 L649.4,160.21 L649.05,160.21 L648.7,160.21 L648.35,160.21 L648,160.21 L647.65,160.21 L647.3,160.21 L646.95,160.21 L646.6,160.21 L646.25,160.22 L645.9,160.22 L645.55,160.22 L645.2,160.22 L644.85,160.22 L644.5,160.22 L644.15,160.22 L643.8,160.22 L643.45,160.22 L643.1,160.22 L642.75,160.22 L642.4,160.22 L642.05,160.22 L641.7,160.22 L641.35,160.22 L641,160.22 L640.65,160.23 L640.3,160.23 L639.95,160.23 L639.6,160.23 L639.25,160.23 L638.9,160.23 L638.55,160.23 L638.2,160.23 L637.85,160.23 L637.5,160.23 L637.15,160.24 L636.8,160.24 L636.45,160.24 L636.1,160.24 L635.75,160.24 L635.4,160.24 L635.05,160.24 L634.7,160.24 L634.35,160.25 L634,160.25 L633.65,160.25 L633.3,160.25 L632.95,160.25 L632.6,160.25 L632.25,160.26 L631.9,160.26 L631.55,160.26 L631.2,160.26 L630.85,160.26 L630.5,160.26 L630.15,160.27 L629.8,160.27 L629.45,160.27 L629.1,160.27 L628.75,160.28 L628.4,160.28 L628.05,160.28 L627.7,160.28 L627.35,160.28 L627,160.29 L626.65,160.29 L626.3,160.29 L625.95,160.3 L625.6,160.3 L625.25,160.3 L624.9,160.3 L624.55,160.31 L624.2,160.31 L623.85,160.31 L623.5,160.32 L623.15,160.32 L622.8,160.32 L622.45,160.33 L622.1,160.33 L621.75,160.33 L621.4,160.34 L621.05,160.34 L620.7,160.35 L620.35,160.35 L620,160.35 L619.65,160.36 L619.3,160.36 L618.95,160.37 L618.6,160.37 L618.25,160.38 L617.9,160.38 L617.55,160.39 L617.2,160.39 L616.85,160.4 L616.5,160.4 L616.15,160.41 L615.8,160.41 L615.45,160.42 L615.1,160.43 L614.75,160.43 L614.4,160.44 L614.05,160.44 L613.7,160.45 L613.35,160.46 L613,160.46 L612.65,160.47 L612.3,160.48 L611.95,160.49 L611.6,160.49 L611.25,160.5 L610.9,160.51 L610.55,160.52 L610.2,160.53 L609.85,160.53 L609.5,160.54 L609.15,160.55 L608.8,160.56 L608.45,160.57 L608.1,160.58 L607.75,160.59 L607.4,160.6 L607.05,160.61 L606.7,160.62 L606.35,160.63 L606,160.64 L605.65,160.65 L605.3,160.66 L604.95,160.67 L604.6,160.68 L604.25,160.69 L603.9,160.71 L603.55,160.72 L603.2,160.73 L602.85,160.74 L602.5,160.76 L602.15,160.77 L601.8,160.78 L601.45,160.8 L601.1,160.81 L600.75,160.82 L600.4,160.84 L600.05,160.85 L599.7,160.87 L599.35,160.88 L599,160.9 L598.65,160.92 L598.3,160.93 L597.95,160.95 L597.6,160.97 L597.25,160.98 L596.9,161 L596.55,161.02 L596.2,161.04 L595.85,161.05 L595.5,161.07 L595.15,161.09 L594.8,161.11 L594.45,161.13 L594.1,161.15 L593.75,161.17 L593.4,161.19 L593.05,161.22 L592.7,161.24 L592.35,161.26 L592,161.28 L591.65,161.3 L591.3,161.33 L590.95,161.35 L590.6,161.37 L590.25,161.4 L589.9,161.42 L589.55,161.45 L589.2,161.48 L588.85,161.5 L588.5,161.53 L588.15,161.55 L587.8,161.58 L587.45,161.61 L587.1,161.64 L586.75,161.67 L586.4,161.7 L586.05,161.73 L585.7,161.76 L585.35,161.79 L585,161.82 L584.65,161.85 L584.3,161.88 L583.95,161.91 L583.6,161.95 L583.25,161.98 L582.9,162.01 L582.55,162.05 L582.2,162.08 L581.85,162.12 L581.5,162.15 L581.15,162.19 L580.8,162.23 L580.45,162.27 L580.1,162.3 L579.75,162.34 L579.4,162.38 L579.05,162.42 L578.7,162.46 L578.35,162.5 L578,162.54 L577.65,162.58 L577.3,162.63 L576.95,162.67 L576.6,162.71 L576.25,162.76 L575.9,162.8 L575.55,162.85 L575.2,162.89 L574.85,162.94 L574.5,162.99 L574.15,163.03 L573.8,163.08 L573.45,163.13 L573.1,163.18 L572.75,163.23 L572.4,163.28 L572.05,163.33 L571.7,163.38 L571.35,163.44 L571,163.49 L570.65,163.54 L570.3,163.6 L569.95,163.65 L569.6,163.71 L569.25,163.76 L568.9,163.82 L568.55,163.88 L568.2,163.93 L567.85,163.99 L567.5,164.05 L567.15,164.11 L566.8,164.17 L566.45,164.23 L566.1,164.3 L565.75,164.36 L565.4,164.42 L565.05,164.48 L564.7,164.55 L564.35,164.61 L564,164.68 L563.65,164.74 L563.3,164.81 L562.95,164.88 L562.6,164.95 L562.25,165.01 L561.9,165.08 L561.55,165.15 L561.2,165.22 L560.85,165.3 L560.5,165.37 L560.15,165.44 L559.8,165.51 L559.45,165.59 L559.1,165.66 L558.75,165.74 L558.4,165.81 L558.05,165.89 L557.7,165.96 L557.35,166.04 L557,166.12 L556.65,166.2 L556.3,166.28 L555.95,166.36 L555.6,166.44 L555.25,166.52 L554.9,166.6 L554.55,166.68 L554.2,166.76 L553.85,166.85 L553.5,166.93 L553.15,167.01 L552.8,167.1 L552.45,167.19 L552.1,167.27 L551.75,167.36 L551.4,167.44 L551.05,167.53 L550.7,167.62 L550.35,167.71 L550,167.8 L549.65,167.89 L549.3,167.98 L548.95,168.07 L548.6,168.16 L548.25,168.25 L547.9,168.35 L547.55,168.44 L547.2,168.53 L546.85,168.63 L546.5,168.72 L546.15,168.81 L545.8,168.91 L545.45,169 L545.1,169.1 L544.75,169.2 L544.4,169.29 L544.05,169.39 L543.7,169.49 L543.35,169.59 L543,169.69 L542.65,169.78 L542.3,169.88 L541.95,169.98 L541.6,170.08 L541.25,170.18 L540.9,170.28 L540.55,170.38 L540.2,170.49 L539.85,170.59 L539.5,170.69 L539.15,170.79 L538.8,170.89 L538.45,171 L538.1,171.1 L537.75,171.2 L537.4,171.31 L537.05,171.41 L536.7,171.51 L536.35,171.62 L536,171.72 L535.65,171.83 L535.3,171.93 L534.95,172.04 L534.6,172.14 L534.25,172.25 L533.9,172.35 L533.55,172.46 L533.2,172.56 L532.85,172.67 L532.5,172.77 L532.15,172.88 L531.8,172.98 L531.45,173.09 L531.1,173.2 L530.75,173.3 L530.4,173.41 L530.05,173.51 L529.7,173.62 L529.35,173.73 L529,173.83 L528.65,173.94 L528.3,174.04 L527.95,174.15 L527.6,174.26 L527.25,174.36 L526.9,174.47 L526.55,174.57 L526.2,174.68 L525.85,174.78 L525.5,174.89 L525.15,174.99 L524.8,175.1 L524.45,175.2 L524.1,175.31 L523.75,175.41 L523.4,175.51 L523.05,175.62 L522.7,175.72 L522.35,175.82 L522,175.93 L521.65,176.03 L521.3,176.13 L520.95,176.23 L520.6,176.34 L520.25,176.44 L519.9,176.54 L519.55,176.64 L519.2,176.74 L518.85,176.84 L518.5,176.94 L518.15,177.04 L517.8,177.14 L517.45,177.23 L517.1,177.33 L516.75,177.43 L516.4,177.53 L516.05,177.62 L515.7,177.72 L515.35,177.82 L515,177.91 L514.65,178 L514.3,178.1 L513.95,178.19 L513.6,178.29 L513.25,178.38 L512.9,178.47 L512.55,178.56 L512.2,178.65 L511.85,178.74 L511.5,178.83 L511.15,178.92 L510.8,179.01 L510.45,179.1 L510.1,179.18 L509.75,179.27 L509.4,179.36 L509.05,179.44 L508.7,179.52 L508.35,179.61 L508,179.69 L507.65,179.77 L507.3,179.86 L506.95,179.94 L506.6,180.02 L506.25,180.1 L505.9,180.17 L505.55,180.25 L505.2,180.33 L504.85,180.41 L504.5,180.48 L504.15,180.56 L503.8,180.63 L503.45,180.7 L503.1,180.78 L502.75,180.85 L502.4,180.92 L502.05,180.99 L501.7,181.06 L501.35,181.13 L501,181.19 L500.65,181.26 L500.3,181.33 L499.95,181.39 L499.6,181.46 L499.25,181.52 L498.9,181.58 L498.55,181.64 L498.2,181.7 L497.85,181.76 L497.5,181.82 L497.15,181.88 L496.8,181.94 L496.45,181.99 L496.1,182.05 L495.75,182.1 L495.4,182.16 L495.05,182.21 L494.7,182.26 L494.35,182.31 L494,182.36 L493.65,182.41 L493.3,182.46 L492.95,182.51 L492.6,182.55 L492.25,182.6 L491.9,182.64 L491.55,182.69 L491.2,182.73 L490.85,182.77 L490.5,182.81 L490.15,182.85 L489.8,182.89 L489.45,182.93 L489.1,182.97 L488.75,183 L488.4,183.04 L488.05,183.08 L487.7,183.11 L487.35,183.14 L487,183.17 L486.65,183.2 L486.3,183.24 L485.95,183.26 L485.6,183.29 L485.25,183.32 L484.9,183.35 L484.55,183.37 L484.2,183.4 L483.85,183.42 L483.5,183.45 L483.15,183.47 L482.8,183.49 L482.45,183.51 L482.1,183.53 L481.75,183.55 L481.4,183.57 L481.05,183.59 L480.7,183.6 L480.35,183.62 L480,183.63 L479.65,183.65 L479.3,183.66 L478.95,183.68 L478.6,183.69 L478.25,183.7 L477.9,183.71 L477.55,183.72 L477.2,183.73 L476.85,183.74 L476.5,183.75 L476.15,183.75 L475.8,183.76 L475.45,183.77 L475.1,183.77 L474.75,183.78 L474.4,183.78 L474.05,183.79 L473.7,183.79 L473.35,183.79 L473,183.79 L472.65,183.8 L472.3,183.8 L471.95,183.8 L471.6,183.8 L471.25,183.8 L470.9,183.8 Z" fill="#c9dcf0"/>
<path d="M470.9,137.8 L471.25,138.6 L471.6,140.95 L471.95,144.67 L472.3,149.5 L472.65,155.1 L473,161.06 L473.35,166.96 L473.7,172.37 L474.05,176.91 L474.4,180.26 L474.75,182.17 L475.1,182.51 L475.45,181.25 L475.8,178.49 L476.15,174.42 L476.5,169.34 L476.85,163.61 L477.2,157.64 L477.55,151.85 L477.9,146.67 L478.25,142.46 L478.6,139.52 L478.95,138.06 L479.3,138.19 L479.65,139.89 L480,143.04 L480.35,147.41 L480.7,152.69 L481.05,158.5 L481.4,164.42 L481.75,170.03 L482.1,174.93 L482.45,178.77 L482.8,181.28 L483.15,182.27 L483.5,181.68 L483.85,179.56 L484.2,176.07 L484.55,171.44 L484.9,166.02 L485.25,160.2 L485.6,154.39 L485.95,149.01 L486.3,144.45 L486.65,141.02 L487,138.97 L487.35,138.44 L487.7,139.47 L488.05,141.98 L488.4,145.78 L488.75,150.6 L489.1,156.09 L489.45,161.85 L489.8,167.48 L490.15,172.57 L490.5,176.76 L490.85,179.75 L491.2,181.33 L491.55,181.4 L491.9,179.96 L492.25,177.11 L492.6,173.06 L492.95,168.11 L493.3,162.62 L493.65,156.98 L494,151.59 L494.35,146.85 L494.7,143.07 L495.05,140.54 L495.4,139.42 L495.75,139.79 L496.1,141.61 L496.45,144.76 L496.8,148.98 L497.15,153.99 L497.5,159.41 L497.85,164.86 L498.2,169.95 L498.55,174.31 L498.9,177.64 L499.25,179.71 L499.6,180.37 L499.95,179.59 L500.3,177.44 L500.65,174.06 L501,169.72 L501.35,164.73 L501.7,159.44 L502.05,154.25 L502.4,149.51 L502.75,145.57 L503.1,142.7 L503.45,141.09 L503.8,140.87 L504.15,142.02 L504.5,144.45 L504.85,148 L505.2,152.38 L505.55,157.29 L505.9,162.37 L506.25,167.26 L506.6,171.6 L506.95,175.1 L507.3,177.5 L507.65,178.66 L508,178.48 L508.35,177.01 L508.7,174.35 L509.05,170.71 L509.4,166.35 L509.75,161.59 L510.1,156.77 L510.45,152.24 L510.8,148.32 L511.15,145.29 L511.5,143.34 L511.85,142.61 L512.2,143.15 L512.55,144.89 L512.9,147.71 L513.25,151.38 L513.6,155.65 L513.95,160.2 L514.3,164.7 L514.65,168.84 L515,172.31 L515.35,174.89 L515.7,176.39 L516.05,176.73 L516.4,175.88 L516.75,173.93 L517.1,171.02 L517.45,167.37 L517.8,163.26 L518.15,158.98 L518.5,154.83 L518.85,151.11 L519.2,148.09 L519.55,145.96 L519.9,144.87 L520.25,144.89 L520.6,146 L520.95,148.1 L521.3,151.03 L521.65,154.58 L522,158.49 L522.35,162.46 L522.7,166.23 L523.05,169.51 L523.4,172.09 L523.75,173.79 L524.1,174.5 L524.45,174.18 L524.8,172.87 L525.15,170.68 L525.5,167.78 L525.85,164.38 L526.2,160.73 L526.55,157.09 L526.9,153.73 L527.25,150.88 L527.6,148.73 L527.95,147.43 L528.3,147.06 L528.65,147.63 L529,149.08 L529.35,151.3 L529.7,154.11 L530.05,157.32 L530.4,160.68 L530.75,163.95 L531.1,166.91 L531.45,169.33 L531.8,171.07 L532.15,172.01 L532.5,172.1 L532.85,171.34 L533.2,169.8 L533.55,167.6 L533.9,164.92 L534.25,161.95 L534.6,158.9 L534.95,156 L535.3,153.45 L535.65,151.42 L536,150.06 L536.35,149.43 L536.7,149.59 L537.05,150.49 L537.4,152.07 L537.75,154.19 L538.1,156.7 L538.45,159.42 L538.8,162.13 L539.15,164.66 L539.5,166.82 L539.85,168.48 L540.2,169.51 L540.55,169.86 L540.9,169.52 L541.25,168.52 L541.6,166.96 L541.95,164.95 L542.3,162.64 L542.65,160.2 L543,157.81 L543.35,155.65 L543.7,153.85 L544.05,152.54 L544.4,151.8 L544.75,151.67 L545.1,152.15 L545.45,153.19 L545.8,154.7 L546.15,156.57 L546.5,158.66 L546.85,160.81 L547.2,162.87 L547.55,164.7 L547.9,166.16 L548.25,167.17 L548.6,167.67 L548.95,167.62 L549.3,167.05 L549.65,166 L550,164.57 L550.35,162.86 L550.7,161.01 L551.05,159.14 L551.4,157.39 L551.75,155.88 L552.1,154.71 L552.45,153.96 L552.8,153.67 L553.15,153.85 L553.5,154.48 L553.85,155.49 L554.2,156.81 L554.55,158.34 L554.9,159.97 L555.25,161.57 L555.6,163.03 L555.95,164.25 L556.3,165.16 L556.65,165.69 L557,165.82 L557.35,165.55 L557.7,164.9 L558.05,163.94 L558.4,162.74 L558.75,161.4 L559.1,160 L559.45,158.66 L559.8,157.46 L560.15,156.49 L560.5,155.8 L560.85,155.45 L561.2,155.45 L561.55,155.77 L561.9,156.41 L562.25,157.29 L562.6,158.36 L562.95,159.52 L563.3,160.7 L563.65,161.81 L564,162.78 L564.35,163.53 L564.7,164.03 L565.05,164.24 L565.4,164.16 L565.75,163.8 L566.1,163.2 L566.45,162.4 L566.8,161.47 L567.15,160.48 L567.5,159.5 L567.85,158.6 L568.2,157.84 L568.55,157.27 L568.9,156.92 L569.25,156.82 L569.6,156.96 L569.95,157.32 L570.3,157.88 L570.65,158.58 L571,159.37 L571.35,160.2 L571.7,161 L572.05,161.72 L572.4,162.31 L572.75,162.73 L573.1,162.95 L573.45,162.98 L573.8,162.81 L574.15,162.46 L574.5,161.96 L574.85,161.35 L575.2,160.69 L575.55,160.01 L575.9,159.37 L576.25,158.8 L576.6,158.36 L576.95,158.06 L577.3,157.92 L577.65,157.95 L578,158.14 L578.35,158.46 L578.7,158.9 L579.05,159.41 L579.4,159.96 L579.75,160.51 L580.1,161.02 L580.45,161.45 L580.8,161.77 L581.15,161.98 L581.5,162.05 L581.85,161.99 L582.2,161.8 L582.55,161.51 L582.9,161.14 L583.25,160.71 L583.6,160.26 L583.95,159.83 L584.3,159.44 L584.65,159.11 L585,158.88 L585.35,158.75 L585.7,158.72 L586.05,158.8 L586.4,158.98 L586.75,159.23 L587.1,159.55 L587.45,159.9 L587.8,160.25 L588.15,160.59 L588.5,160.88 L588.85,161.12 L589.2,161.28 L589.55,161.36 L589.9,161.36 L590.25,161.27 L590.6,161.11 L590.95,160.9 L591.3,160.64 L591.65,160.36 L592,160.08 L592.35,159.82 L592.7,159.6 L593.05,159.43 L593.4,159.33 L593.75,159.28 L594.1,159.31 L594.45,159.39 L594.8,159.53 L595.15,159.71 L595.5,159.92 L595.85,160.14 L596.2,160.35 L596.55,160.54 L596.9,160.71 L597.25,160.82 L597.6,160.89 L597.95,160.91 L598.3,160.88 L598.65,160.8 L599,160.68 L599.35,160.53 L599.7,160.37 L600.05,160.2 L600.4,160.04 L600.75,159.9 L601.1,159.78 L601.45,159.7 L601.8,159.66 L602.15,159.66 L602.5,159.7 L602.85,159.77 L603.2,159.87 L603.55,159.98 L603.9,160.11 L604.25,160.24 L604.6,160.35 L604.95,160.46 L605.3,160.54 L605.65,160.59 L606,160.61 L606.35,160.6 L606.7,160.57 L607.05,160.51 L607.4,160.43 L607.75,160.34 L608.1,160.24 L608.45,160.15 L608.8,160.06 L609.15,159.99 L609.5,159.93 L609.85,159.9 L610.2,159.89 L610.55,159.9 L610.9,159.94 L611.25,159.99 L611.6,160.05 L611.95,160.12 L612.3,160.19 L612.65,160.26 L613,160.32 L613.35,160.37 L613.7,160.41 L614.05,160.42 L614.4,160.43 L614.75,160.41 L615.1,160.38 L615.45,160.35 L615.8,160.3 L616.15,160.25 L616.5,160.19 L616.85,160.14 L617.2,160.1 L617.55,160.07 L617.9,160.04 L618.25,160.03 L618.6,160.04 L618.95,160.05 L619.3,160.07 L619.65,160.1 L620,160.14 L620.35,160.18 L620.7,160.22 L621.05,160.25 L621.4,160.28 L621.75,160.3 L622.1,160.32 L622.45,160.32 L622.8,160.32 L623.15,160.3 L623.5,160.29 L623.85,160.26 L624.2,160.24 L624.55,160.21 L624.9,160.18 L625.25,160.16 L625.6,160.14 L625.95,160.12 L626.3,160.12 L626.65,160.11 L627,160.12 L627.35,160.13 L627.7,160.14 L628.05,160.16 L628.4,160.18 L628.75,160.2 L629.1,160.22 L629.45,160.23 L629.8,160.25 L630.15,160.26 L630.5,160.26 L630.85,160.26 L631.2,160.26 L631.55,160.25 L631.9,160.24 L632.25,160.22 L632.6,160.21 L632.95,160.2 L633.3,160.18 L633.65,160.17 L634,160.17 L634.35,160.16 L634.7,160.16 L635.05,160.16 L635.4,160.16 L635.75,160.17 L636.1,160.18 L636.45,160.19 L636.8,160.2 L637.15,160.21 L637.5,160.21 L637.85,160.22 L638.2,160.23 L638.55,160.23 L638.9,160.23 L639.25,160.23 L639.6,160.22 L639.95,160.22 L640.3,160.21 L640.65,160.21 L641,160.2 L641.35,160.19 L641.7,160.19 L642.05,160.19 L642.4,160.18 L642.75,160.18 L643.1,160.18 L643.45,160.18 L643.8,160.18 L644.15,160.19 L644.5,160.19 L644.85,160.2 L645.2,160.2 L645.55,160.2 L645.9,160.21 L646.25,160.21 L646.6,160.21 L646.95,160.21 L647.3,160.21 L647.65,160.21 L648,160.21 L648.35,160.21 L648.7,160.2 L649.05,160.2 L649.4,160.2 L649.75,160.2 L650.1,160.19 L650.45,160.19 L650.8,160.19 L651.15,160.19 L651.5,160.19 L651.85,160.19 L652.2,160.19 L652.55,160.2 L652.9,160.2 L653.25,160.2 L653.6,160.2 L653.95,160.2 L654.3,160.2 L654.65,160.21 L655,160.21 L655.35,160.21 L655.7,160.21 L656.05,160.2 L656.4,160.2 L656.75,160.2 L657.1,160.2 L657.45,160.2 L657.8,160.2 L658.15,160.2 L658.5,160.2 L658.85,160.2 L659.2,160.2 L659.55,160.2 L659.9,160.2 L660.25,160.2 L660.6,160.2 L660.95,160.2 L661.3,160.2 L661.65,160.2 L662,160.2 L662.35,160.2 L662.7,160.2 L663.05,160.2 L663.4,160.2 L663.75,160.2 L664.1,160.2 L664.45,160.2 L664.8,160.2 L665.15,160.2 L665.5,160.2 L665.85,160.2 L666.2,160.2 L666.55,160.2 L666.9,160.2" stroke="#5b93d0" stroke-width="2.7" fill="none" stroke-linejoin="round"/>
<path d="M470.9,194.3 L471.25,194.31 L471.6,194.32 L471.95,194.35 L472.3,194.38 L472.65,194.43 L473,194.49 L473.35,194.55 L473.7,194.63 L474.05,194.72 L474.4,194.81 L474.75,194.92 L475.1,195.04 L475.45,195.16 L475.8,195.3 L476.15,195.44 L476.5,195.59 L476.85,195.75 L477.2,195.92 L477.55,196.1 L477.9,196.29 L478.25,196.48 L478.6,196.69 L478.95,196.9 L479.3,197.11 L479.65,197.34 L480,197.57 L480.35,197.8 L480.7,198.05 L481.05,198.29 L481.4,198.55 L481.75,198.81 L482.1,199.07 L482.45,199.34 L482.8,199.61 L483.15,199.89 L483.5,200.17 L483.85,200.46 L484.2,200.74 L484.55,201.04 L484.9,201.33 L485.25,201.62 L485.6,201.92 L485.95,202.22 L486.3,202.52 L486.65,202.82 L487,203.13 L487.35,203.43 L487.7,203.74 L488.05,204.04 L488.4,204.34 L488.75,204.65 L489.1,204.95 L489.45,205.25 L489.8,205.55 L490.15,205.85 L490.5,206.15 L490.85,206.44 L491.2,206.74 L491.55,207.03 L491.9,207.32 L492.25,207.6 L492.6,207.89 L492.95,208.17 L493.3,208.45 L493.65,208.72 L494,208.99 L494.35,209.26 L494.7,209.52 L495.05,209.78 L495.4,210.04 L495.75,210.29 L496.1,210.54 L496.45,210.78 L496.8,211.02 L497.15,211.26 L497.5,211.49 L497.85,211.71 L498.2,211.94 L498.55,212.15 L498.9,212.37 L499.25,212.57 L499.6,212.78 L499.95,212.98 L500.3,213.17 L500.65,213.36 L501,213.55 L501.35,213.73 L501.7,213.9 L502.05,214.07 L502.4,214.24 L502.75,214.4 L503.1,214.56 L503.45,214.71 L503.8,214.86 L504.15,215.01 L504.5,215.15 L504.85,215.28 L505.2,215.41 L505.55,215.54 L505.9,215.67 L506.25,215.79 L506.6,215.9 L506.95,216.01 L507.3,216.12 L507.65,216.23 L508,216.33 L508.35,216.42 L508.7,216.52 L509.05,216.61 L509.4,216.69 L509.75,216.78 L510.1,216.86 L510.45,216.93 L510.8,217.01 L511.15,217.08 L511.5,217.15 L511.85,217.22 L512.2,217.28 L512.55,217.34 L512.9,217.4 L513.25,217.45 L513.6,217.51 L513.95,217.56 L514.3,217.61 L514.65,217.65 L515,217.7 L515.35,217.74 L515.7,217.78 L516.05,217.82 L516.4,217.85 L516.75,217.89 L517.1,217.92 L517.45,217.96 L517.8,217.99 L518.15,218.01 L518.5,218.04 L518.85,218.07 L519.2,218.09 L519.55,218.12 L519.9,218.14 L520.25,218.16 L520.6,218.18 L520.95,218.2 L521.3,218.22 L521.65,218.23 L522,218.25 L522.35,218.26 L522.7,218.28 L523.05,218.29 L523.4,218.31 L523.75,218.32 L524.1,218.33 L524.45,218.34 L524.8,218.35 L525.15,218.36 L525.5,218.37 L525.85,218.38 L526.2,218.39 L526.55,218.39 L526.9,218.4 L527.25,218.41 L527.6,218.41 L527.95,218.42 L528.3,218.42 L528.65,218.43 L529,218.43 L529.35,218.44 L529.7,218.44 L530.05,218.45 L530.4,218.45 L530.75,218.45 L531.1,218.46 L531.45,218.46 L531.8,218.46 L532.15,218.47 L532.5,218.47 L532.85,218.47 L533.2,218.47 L533.55,218.47 L533.9,218.48 L534.25,218.48 L534.6,218.48 L534.95,218.48 L535.3,218.48 L535.65,218.48 L536,218.49 L536.35,218.49 L536.7,218.49 L537.05,218.49 L537.4,218.49 L537.75,218.49 L538.1,218.49 L538.45,218.49 L538.8,218.49 L539.15,218.49 L539.5,218.49 L539.85,218.49 L540.2,218.49 L540.55,218.5 L540.9,218.5 L541.25,218.5 L541.6,218.5 L541.95,218.5 L542.3,218.5 L542.65,218.5 L543,218.5 L543.35,218.5 L543.7,218.5 L544.05,218.5 L544.4,218.5 L544.75,218.5 L545.1,218.5 L545.45,218.5 L545.8,218.5 L546.15,218.5 L546.5,218.5 L546.85,218.5 L547.2,218.5 L547.55,218.5 L547.9,218.5 L548.25,218.5 L548.6,218.5 L548.95,218.5 L549.3,218.5 L549.65,218.5 L550,218.5 L550.35,218.5 L550.7,218.5 L551.05,218.5 L551.4,218.5 L551.75,218.5 L552.1,218.5 L552.45,218.5 L552.8,218.5 L553.15,218.5 L553.5,218.5 L553.85,218.5 L554.2,218.5 L554.55,218.5 L554.9,218.5 L555.25,218.5 L555.6,218.5 L555.95,218.5 L556.3,218.5 L556.65,218.5 L557,218.5 L557.35,218.5 L557.7,218.5 L558.05,218.5 L558.4,218.5 L558.75,218.5 L559.1,218.5 L559.45,218.5 L559.8,218.5 L560.15,218.5 L560.5,218.5 L560.85,218.5 L561.2,218.5 L561.55,218.5 L561.9,218.5 L562.25,218.5 L562.6,218.5 L562.95,218.5 L563.3,218.5 L563.65,218.5 L564,218.5 L564.35,218.5 L564.7,218.5 L565.05,218.5 L565.4,218.5 L565.75,218.5 L566.1,218.5 L566.45,218.5 L566.8,218.5 L567.15,218.5 L567.5,218.5 L567.85,218.5 L568.2,218.5 L568.55,218.5 L568.9,218.5 L569.25,218.5 L569.6,218.5 L569.95,218.5 L570.3,218.5 L570.65,218.5 L571,218.5 L571.35,218.5 L571.7,218.5 L572.05,218.5 L572.4,218.5 L572.75,218.5 L573.1,218.5 L573.45,218.5 L573.8,218.5 L574.15,218.5 L574.5,218.5 L574.85,218.5 L575.2,218.5 L575.55,218.5 L575.9,218.5 L576.25,218.5 L576.6,218.5 L576.95,218.5 L577.3,218.5 L577.65,218.5 L578,218.5 L578.35,218.5 L578.7,218.5 L579.05,218.5 L579.4,218.5 L579.75,218.5 L580.1,218.5 L580.45,218.5 L580.8,218.5 L581.15,218.5 L581.5,218.5 L581.85,218.5 L582.2,218.5 L582.55,218.5 L582.9,218.5 L583.25,218.5 L583.6,218.5 L583.95,218.5 L584.3,218.5 L584.65,218.5 L585,218.5 L585.35,218.5 L585.7,218.5 L586.05,218.5 L586.4,218.5 L586.75,218.5 L587.1,218.5 L587.45,218.5 L587.8,218.5 L588.15,218.5 L588.5,218.5 L588.85,218.5 L589.2,218.5 L589.55,218.5 L589.9,218.5 L590.25,218.5 L590.6,218.5 L590.95,218.5 L591.3,218.5 L591.65,218.5 L592,218.5 L592.35,218.5 L592.7,218.5 L593.05,218.5 L593.4,218.5 L593.75,218.5 L594.1,218.5 L594.45,218.5 L594.8,218.5 L595.15,218.5 L595.5,218.5 L595.85,218.5 L596.2,218.5 L596.55,218.5 L596.9,218.5 L597.25,218.5 L597.6,218.5 L597.95,218.5 L598.3,218.5 L598.65,218.5 L599,218.5 L599.35,218.5 L599.7,218.5 L600.05,218.5 L600.4,218.5 L600.75,218.5 L601.1,218.5 L601.45,218.5 L601.8,218.5 L602.15,218.5 L602.5,218.5 L602.85,218.5 L603.2,218.5 L603.55,218.5 L603.9,218.5 L604.25,218.5 L604.6,218.5 L604.95,218.5 L605.3,218.5 L605.65,218.5 L606,218.5 L606.35,218.5 L606.7,218.5 L607.05,218.5 L607.4,218.5 L607.75,218.5 L608.1,218.5 L608.45,218.5 L608.8,218.5 L609.15,218.5 L609.5,218.5 L609.85,218.5 L610.2,218.5 L610.55,218.5 L610.9,218.5 L611.25,218.5 L611.6,218.5 L611.95,218.5 L612.3,218.5 L612.65,218.5 L613,218.5 L613.35,218.5 L613.7,218.5 L614.05,218.5 L614.4,218.5 L614.75,218.5 L615.1,218.5 L615.45,218.5 L615.8,218.5 L616.15,218.5 L616.5,218.5 L616.85,218.5 L617.2,218.5 L617.55,218.5 L617.9,218.5 L618.25,218.5 L618.6,218.5 L618.95,218.5 L619.3,218.5 L619.65,218.5 L620,218.5 L620.35,218.5 L620.7,218.5 L621.05,218.5 L621.4,218.5 L621.75,218.5 L622.1,218.5 L622.45,218.5 L622.8,218.5 L623.15,218.5 L623.5,218.5 L623.85,218.5 L624.2,218.5 L624.55,218.5 L624.9,218.5 L625.25,218.5 L625.6,218.5 L625.95,218.5 L626.3,218.5 L626.65,218.5 L627,218.5 L627.35,218.5 L627.7,218.5 L628.05,218.5 L628.4,218.5 L628.75,218.5 L629.1,218.5 L629.45,218.5 L629.8,218.5 L630.15,218.5 L630.5,218.5 L630.85,218.5 L631.2,218.5 L631.55,218.5 L631.9,218.5 L632.25,218.5 L632.6,218.5 L632.95,218.5 L633.3,218.5 L633.65,218.5 L634,218.5 L634.35,218.5 L634.7,218.5 L635.05,218.5 L635.4,218.5 L635.75,218.5 L636.1,218.5 L636.45,218.5 L636.8,218.5 L637.15,218.5 L637.5,218.5 L637.85,218.5 L638.2,218.5 L638.55,218.5 L638.9,218.5 L639.25,218.5 L639.6,218.5 L639.95,218.5 L640.3,218.5 L640.65,218.5 L641,218.5 L641.35,218.5 L641.7,218.5 L642.05,218.5 L642.4,218.5 L642.75,218.5 L643.1,218.5 L643.45,218.5 L643.8,218.5 L644.15,218.5 L644.5,218.5 L644.85,218.5 L645.2,218.5 L645.55,218.5 L645.9,218.5 L646.25,218.5 L646.6,218.5 L646.95,218.5 L647.3,218.5 L647.65,218.5 L648,218.5 L648.35,218.5 L648.7,218.5 L649.05,218.5 L649.4,218.5 L649.75,218.5 L650.1,218.5 L650.45,218.5 L650.8,218.5 L651.15,218.5 L651.5,218.5 L651.85,218.5 L652.2,218.5 L652.55,218.5 L652.9,218.5 L653.25,218.5 L653.6,218.5 L653.95,218.5 L654.3,218.5 L654.65,218.5 L655,218.5 L655.35,218.5 L655.7,218.5 L656.05,218.5 L656.4,218.5 L656.75,218.5 L657.1,218.5 L657.45,218.5 L657.8,218.5 L658.15,218.5 L658.5,218.5 L658.85,218.5 L659.2,218.5 L659.55,218.5 L659.9,218.5 L660.25,218.5 L660.6,218.5 L660.95,218.5 L661.3,218.5 L661.65,218.5 L662,218.5 L662.35,218.5 L662.7,218.5 L663.05,218.5 L663.4,218.5 L663.75,218.5 L664.1,218.5 L664.45,218.5 L664.8,218.5 L665.15,218.5 L665.5,218.5 L665.85,218.5 L666.2,218.5 L666.55,218.5 L666.9,218.5 L666.9,218.5 L666.55,218.5 L666.2,218.5 L665.85,218.5 L665.5,218.5 L665.15,218.5 L664.8,218.5 L664.45,218.5 L664.1,218.5 L663.75,218.5 L663.4,218.5 L663.05,218.5 L662.7,218.5 L662.35,218.5 L662,218.5 L661.65,218.5 L661.3,218.5 L660.95,218.5 L660.6,218.5 L660.25,218.5 L659.9,218.5 L659.55,218.5 L659.2,218.5 L658.85,218.5 L658.5,218.5 L658.15,218.5 L657.8,218.5 L657.45,218.5 L657.1,218.5 L656.75,218.5 L656.4,218.5 L656.05,218.5 L655.7,218.5 L655.35,218.5 L655,218.5 L654.65,218.5 L654.3,218.5 L653.95,218.5 L653.6,218.5 L653.25,218.5 L652.9,218.5 L652.55,218.5 L652.2,218.5 L651.85,218.5 L651.5,218.5 L651.15,218.5 L650.8,218.5 L650.45,218.5 L650.1,218.5 L649.75,218.5 L649.4,218.5 L649.05,218.5 L648.7,218.5 L648.35,218.5 L648,218.5 L647.65,218.5 L647.3,218.5 L646.95,218.5 L646.6,218.5 L646.25,218.5 L645.9,218.5 L645.55,218.5 L645.2,218.5 L644.85,218.5 L644.5,218.5 L644.15,218.5 L643.8,218.5 L643.45,218.5 L643.1,218.5 L642.75,218.5 L642.4,218.5 L642.05,218.5 L641.7,218.5 L641.35,218.5 L641,218.5 L640.65,218.5 L640.3,218.5 L639.95,218.5 L639.6,218.5 L639.25,218.5 L638.9,218.5 L638.55,218.5 L638.2,218.5 L637.85,218.5 L637.5,218.5 L637.15,218.5 L636.8,218.5 L636.45,218.5 L636.1,218.5 L635.75,218.5 L635.4,218.5 L635.05,218.5 L634.7,218.5 L634.35,218.5 L634,218.5 L633.65,218.5 L633.3,218.5 L632.95,218.5 L632.6,218.5 L632.25,218.5 L631.9,218.5 L631.55,218.5 L631.2,218.5 L630.85,218.5 L630.5,218.5 L630.15,218.5 L629.8,218.5 L629.45,218.5 L629.1,218.5 L628.75,218.5 L628.4,218.5 L628.05,218.5 L627.7,218.5 L627.35,218.5 L627,218.5 L626.65,218.5 L626.3,218.5 L625.95,218.5 L625.6,218.5 L625.25,218.5 L624.9,218.5 L624.55,218.5 L624.2,218.5 L623.85,218.5 L623.5,218.5 L623.15,218.5 L622.8,218.5 L622.45,218.5 L622.1,218.5 L621.75,218.5 L621.4,218.5 L621.05,218.5 L620.7,218.5 L620.35,218.5 L620,218.5 L619.65,218.5 L619.3,218.5 L618.95,218.5 L618.6,218.5 L618.25,218.5 L617.9,218.5 L617.55,218.5 L617.2,218.5 L616.85,218.5 L616.5,218.5 L616.15,218.5 L615.8,218.5 L615.45,218.5 L615.1,218.5 L614.75,218.5 L614.4,218.5 L614.05,218.5 L613.7,218.5 L613.35,218.5 L613,218.5 L612.65,218.5 L612.3,218.5 L611.95,218.5 L611.6,218.5 L611.25,218.5 L610.9,218.5 L610.55,218.5 L610.2,218.5 L609.85,218.5 L609.5,218.5 L609.15,218.5 L608.8,218.5 L608.45,218.5 L608.1,218.5 L607.75,218.5 L607.4,218.5 L607.05,218.5 L606.7,218.5 L606.35,218.5 L606,218.5 L605.65,218.5 L605.3,218.5 L604.95,218.5 L604.6,218.5 L604.25,218.5 L603.9,218.5 L603.55,218.5 L603.2,218.5 L602.85,218.5 L602.5,218.5 L602.15,218.5 L601.8,218.5 L601.45,218.5 L601.1,218.5 L600.75,218.5 L600.4,218.5 L600.05,218.5 L599.7,218.5 L599.35,218.5 L599,218.5 L598.65,218.5 L598.3,218.5 L597.95,218.5 L597.6,218.5 L597.25,218.5 L596.9,218.5 L596.55,218.5 L596.2,218.5 L595.85,218.5 L595.5,218.5 L595.15,218.5 L594.8,218.5 L594.45,218.5 L594.1,218.5 L593.75,218.5 L593.4,218.5 L593.05,218.5 L592.7,218.5 L592.35,218.5 L592,218.5 L591.65,218.5 L591.3,218.5 L590.95,218.5 L590.6,218.5 L590.25,218.5 L589.9,218.5 L589.55,218.5 L589.2,218.5 L588.85,218.5 L588.5,218.5 L588.15,218.5 L587.8,218.5 L587.45,218.5 L587.1,218.5 L586.75,218.5 L586.4,218.5 L586.05,218.5 L585.7,218.5 L585.35,218.5 L585,218.5 L584.65,218.5 L584.3,218.5 L583.95,218.5 L583.6,218.5 L583.25,218.5 L582.9,218.5 L582.55,218.5 L582.2,218.5 L581.85,218.5 L581.5,218.5 L581.15,218.5 L580.8,218.5 L580.45,218.5 L580.1,218.5 L579.75,218.5 L579.4,218.5 L579.05,218.5 L578.7,218.5 L578.35,218.5 L578,218.5 L577.65,218.5 L577.3,218.5 L576.95,218.5 L576.6,218.5 L576.25,218.5 L575.9,218.5 L575.55,218.5 L575.2,218.5 L574.85,218.5 L574.5,218.5 L574.15,218.5 L573.8,218.5 L573.45,218.5 L573.1,218.5 L572.75,218.5 L572.4,218.5 L572.05,218.5 L571.7,218.5 L571.35,218.5 L571,218.5 L570.65,218.5 L570.3,218.5 L569.95,218.5 L569.6,218.5 L569.25,218.5 L568.9,218.5 L568.55,218.5 L568.2,218.5 L567.85,218.5 L567.5,218.5 L567.15,218.5 L566.8,218.5 L566.45,218.5 L566.1,218.5 L565.75,218.5 L565.4,218.5 L565.05,218.5 L564.7,218.5 L564.35,218.5 L564,218.5 L563.65,218.5 L563.3,218.5 L562.95,218.5 L562.6,218.5 L562.25,218.5 L561.9,218.5 L561.55,218.5 L561.2,218.5 L560.85,218.5 L560.5,218.5 L560.15,218.5 L559.8,218.5 L559.45,218.5 L559.1,218.5 L558.75,218.5 L558.4,218.5 L558.05,218.5 L557.7,218.5 L557.35,218.5 L557,218.5 L556.65,218.5 L556.3,218.5 L555.95,218.5 L555.6,218.5 L555.25,218.5 L554.9,218.5 L554.55,218.5 L554.2,218.5 L553.85,218.5 L553.5,218.5 L553.15,218.5 L552.8,218.5 L552.45,218.5 L552.1,218.5 L551.75,218.5 L551.4,218.5 L551.05,218.5 L550.7,218.5 L550.35,218.5 L550,218.5 L549.65,218.5 L549.3,218.5 L548.95,218.5 L548.6,218.5 L548.25,218.5 L547.9,218.5 L547.55,218.5 L547.2,218.5 L546.85,218.5 L546.5,218.5 L546.15,218.5 L545.8,218.5 L545.45,218.5 L545.1,218.5 L544.75,218.5 L544.4,218.5 L544.05,218.5 L543.7,218.5 L543.35,218.5 L543,218.5 L542.65,218.5 L542.3,218.5 L541.95,218.5 L541.6,218.5 L541.25,218.5 L540.9,218.5 L540.55,218.5 L540.2,218.51 L539.85,218.51 L539.5,218.51 L539.15,218.51 L538.8,218.51 L538.45,218.51 L538.1,218.51 L537.75,218.51 L537.4,218.51 L537.05,218.51 L536.7,218.51 L536.35,218.51 L536,218.51 L535.65,218.52 L535.3,218.52 L534.95,218.52 L534.6,218.52 L534.25,218.52 L533.9,218.52 L533.55,218.53 L533.2,218.53 L532.85,218.53 L532.5,218.53 L532.15,218.53 L531.8,218.54 L531.45,218.54 L531.1,218.54 L530.75,218.55 L530.4,218.55 L530.05,218.55 L529.7,218.56 L529.35,218.56 L529,218.57 L528.65,218.57 L528.3,218.58 L527.95,218.58 L527.6,218.59 L527.25,218.59 L526.9,218.6 L526.55,218.61 L526.2,218.61 L525.85,218.62 L525.5,218.63 L525.15,218.64 L524.8,218.65 L524.45,218.66 L524.1,218.67 L523.75,218.68 L523.4,218.69 L523.05,218.71 L522.7,218.72 L522.35,218.74 L522,218.75 L521.65,218.77 L521.3,218.78 L520.95,218.8 L520.6,218.82 L520.25,218.84 L519.9,218.86 L519.55,218.88 L519.2,218.91 L518.85,218.93 L518.5,218.96 L518.15,218.99 L517.8,219.01 L517.45,219.04 L517.1,219.08 L516.75,219.11 L516.4,219.15 L516.05,219.18 L515.7,219.22 L515.35,219.26 L515,219.3 L514.65,219.35 L514.3,219.39 L513.95,219.44 L513.6,219.49 L513.25,219.55 L512.9,219.6 L512.55,219.66 L512.2,219.72 L511.85,219.78 L511.5,219.85 L511.15,219.92 L510.8,219.99 L510.45,220.07 L510.1,220.14 L509.75,220.22 L509.4,220.31 L509.05,220.39 L508.7,220.48 L508.35,220.58 L508,220.67 L507.65,220.77 L507.3,220.88 L506.95,220.99 L506.6,221.1 L506.25,221.21 L505.9,221.33 L505.55,221.46 L505.2,221.59 L504.85,221.72 L504.5,221.85 L504.15,221.99 L503.8,222.14 L503.45,222.29 L503.1,222.44 L502.75,222.6 L502.4,222.76 L502.05,222.93 L501.7,223.1 L501.35,223.27 L501,223.45 L500.65,223.64 L500.3,223.83 L499.95,224.02 L499.6,224.22 L499.25,224.43 L498.9,224.63 L498.55,224.85 L498.2,225.06 L497.85,225.29 L497.5,225.51 L497.15,225.74 L496.8,225.98 L496.45,226.22 L496.1,226.46 L495.75,226.71 L495.4,226.96 L495.05,227.22 L494.7,227.48 L494.35,227.74 L494,228.01 L493.65,228.28 L493.3,228.55 L492.95,228.83 L492.6,229.11 L492.25,229.4 L491.9,229.68 L491.55,229.97 L491.2,230.26 L490.85,230.56 L490.5,230.85 L490.15,231.15 L489.8,231.45 L489.45,231.75 L489.1,232.05 L488.75,232.35 L488.4,232.66 L488.05,232.96 L487.7,233.26 L487.35,233.57 L487,233.87 L486.65,234.18 L486.3,234.48 L485.95,234.78 L485.6,235.08 L485.25,235.38 L484.9,235.67 L484.55,235.96 L484.2,236.26 L483.85,236.54 L483.5,236.83 L483.15,237.11 L482.8,237.39 L482.45,237.66 L482.1,237.93 L481.75,238.19 L481.4,238.45 L481.05,238.71 L480.7,238.95 L480.35,239.2 L480,239.43 L479.65,239.66 L479.3,239.89 L478.95,240.1 L478.6,240.31 L478.25,240.52 L477.9,240.71 L477.55,240.9 L477.2,241.08 L476.85,241.25 L476.5,241.41 L476.15,241.56 L475.8,241.7 L475.45,241.84 L475.1,241.96 L474.75,242.08 L474.4,242.19 L474.05,242.28 L473.7,242.37 L473.35,242.45 L473,242.51 L472.65,242.57 L472.3,242.62 L471.95,242.65 L471.6,242.68 L471.25,242.69 L470.9,242.7 Z" fill="#f2c4c4"/>
<path d="M470.9,195.5 L471.25,196.33 L471.6,198.75 L471.95,202.58 L472.3,207.55 L472.65,213.29 L473,219.37 L473.35,225.37 L473.7,230.83 L474.05,235.38 L474.4,238.67 L474.75,240.5 L475.1,240.74 L475.45,239.38 L475.8,236.54 L476.15,232.44 L476.5,227.41 L476.85,221.8 L477.2,216.04 L477.55,210.54 L477.9,205.7 L478.25,201.86 L478.6,199.27 L478.95,198.1 L479.3,198.41 L479.65,200.15 L480,203.15 L480.35,207.18 L480.7,211.93 L481.05,217.03 L481.4,222.11 L481.75,226.8 L482.1,230.79 L482.45,233.78 L482.8,235.61 L483.15,236.17 L483.5,235.46 L483.85,233.57 L484.2,230.66 L484.55,226.98 L484.9,222.82 L485.25,218.5 L485.6,214.33 L485.95,210.59 L486.3,207.56 L486.65,205.41 L487,204.27 L487.35,204.19 L487.7,205.12 L488.05,206.96 L488.4,209.55 L488.75,212.66 L489.1,216.05 L489.45,219.46 L489.8,222.66 L490.15,225.42 L490.5,227.56 L490.85,228.96 L491.2,229.55 L491.55,229.33 L491.9,228.36 L492.25,226.74 L492.6,224.61 L492.95,222.17 L493.3,219.6 L493.65,217.08 L494,214.8 L494.35,212.91 L494.7,211.52 L495.05,210.7 L495.4,210.48 L495.75,210.84 L496.1,211.72 L496.45,213.02 L496.8,214.64 L497.15,216.42 L497.5,218.24 L497.85,219.97 L498.2,221.48 L498.55,222.68 L498.9,223.51 L499.25,223.93 L499.6,223.94 L499.95,223.56 L500.3,222.85 L500.65,221.89 L501,220.75 L501.35,219.53 L501.7,218.33 L502.05,217.23 L502.4,216.3 L502.75,215.59 L503.1,215.14 L503.45,214.97 L503.8,215.05 L504.15,215.38 L504.5,215.89 L504.85,216.55 L505.2,217.3 L505.55,218.07 L505.9,218.81 L506.25,219.46 L506.6,220 L506.95,220.38 L507.3,220.6 L507.65,220.65 L508,220.54 L508.35,220.3 L508.7,219.95 L509.05,219.54 L509.4,219.08 L509.75,218.63 L510.1,218.2 L510.45,217.84 L510.8,217.56 L511.15,217.37 L511.5,217.28 L511.85,217.28 L512.2,217.37 L512.55,217.53 L512.9,217.74 L513.25,217.99 L513.6,218.25 L513.95,218.5 L514.3,218.73 L514.65,218.91 L515,219.05 L515.35,219.14 L515.7,219.17 L516.05,219.15 L516.4,219.08 L516.75,218.99 L517.1,218.86 L517.45,218.73 L517.8,218.59 L518.15,218.46 L518.5,218.35 L518.85,218.26 L519.2,218.2 L519.55,218.17 L519.9,218.16 L520.25,218.18 L520.6,218.22 L520.95,218.27 L521.3,218.34 L521.65,218.41 L522,218.47 L522.35,218.53 L522.7,218.59 L523.05,218.63 L523.4,218.65 L523.75,218.66 L524.1,218.66 L524.45,218.65 L524.8,218.63 L525.15,218.6 L525.5,218.57 L525.85,218.54 L526.2,218.5 L526.55,218.48 L526.9,218.45 L527.25,218.44 L527.6,218.43 L527.95,218.43 L528.3,218.43 L528.65,218.44 L529,218.45 L529.35,218.46 L529.7,218.47 L530.05,218.49 L530.4,218.5 L530.75,218.51 L531.1,218.52 L531.45,218.53 L531.8,218.53 L532.15,218.53 L532.5,218.53 L532.85,218.53 L533.2,218.52 L533.55,218.52 L533.9,218.51 L534.25,218.5 L534.6,218.5 L534.95,218.49 L535.3,218.49 L535.65,218.49 L536,218.49 L536.35,218.49 L536.7,218.49 L537.05,218.49 L537.4,218.49 L537.75,218.49 L538.1,218.5 L538.45,218.5 L538.8,218.5 L539.15,218.5 L539.5,218.5 L539.85,218.5 L540.2,218.5 L540.55,218.5 L540.9,218.5 L541.25,218.5 L541.6,218.5 L541.95,218.5 L542.3,218.5 L542.65,218.5 L543,218.5 L543.35,218.5 L543.7,218.5 L544.05,218.5 L544.4,218.5 L544.75,218.5 L545.1,218.5 L545.45,218.5 L545.8,218.5 L546.15,218.5 L546.5,218.5 L546.85,218.5 L547.2,218.5 L547.55,218.5 L547.9,218.5 L548.25,218.5 L548.6,218.5 L548.95,218.5 L549.3,218.5 L549.65,218.5 L550,218.5 L550.35,218.5 L550.7,218.5 L551.05,218.5 L551.4,218.5 L551.75,218.5 L552.1,218.5 L552.45,218.5 L552.8,218.5 L553.15,218.5 L553.5,218.5 L553.85,218.5 L554.2,218.5 L554.55,218.5 L554.9,218.5 L555.25,218.5 L555.6,218.5 L555.95,218.5 L556.3,218.5 L556.65,218.5 L557,218.5 L557.35,218.5 L557.7,218.5 L558.05,218.5 L558.4,218.5 L558.75,218.5 L559.1,218.5 L559.45,218.5 L559.8,218.5 L560.15,218.5 L560.5,218.5 L560.85,218.5 L561.2,218.5 L561.55,218.5 L561.9,218.5 L562.25,218.5 L562.6,218.5 L562.95,218.5 L563.3,218.5 L563.65,218.5 L564,218.5 L564.35,218.5 L564.7,218.5 L565.05,218.5 L565.4,218.5 L565.75,218.5 L566.1,218.5 L566.45,218.5 L566.8,218.5 L567.15,218.5 L567.5,218.5 L567.85,218.5 L568.2,218.5 L568.55,218.5 L568.9,218.5 L569.25,218.5 L569.6,218.5 L569.95,218.5 L570.3,218.5 L570.65,218.5 L571,218.5 L571.35,218.5 L571.7,218.5 L572.05,218.5 L572.4,218.5 L572.75,218.5 L573.1,218.5 L573.45,218.5 L573.8,218.5 L574.15,218.5 L574.5,218.5 L574.85,218.5 L575.2,218.5 L575.55,218.5 L575.9,218.5 L576.25,218.5 L576.6,218.5 L576.95,218.5 L577.3,218.5 L577.65,218.5 L578,218.5 L578.35,218.5 L578.7,218.5 L579.05,218.5 L579.4,218.5 L579.75,218.5 L580.1,218.5 L580.45,218.5 L580.8,218.5 L581.15,218.5 L581.5,218.5 L581.85,218.5 L582.2,218.5 L582.55,218.5 L582.9,218.5 L583.25,218.5 L583.6,218.5 L583.95,218.5 L584.3,218.5 L584.65,218.5 L585,218.5 L585.35,218.5 L585.7,218.5 L586.05,218.5 L586.4,218.5 L586.75,218.5 L587.1,218.5 L587.45,218.5 L587.8,218.5 L588.15,218.5 L588.5,218.5 L588.85,218.5 L589.2,218.5 L589.55,218.5 L589.9,218.5 L590.25,218.5 L590.6,218.5 L590.95,218.5 L591.3,218.5 L591.65,218.5 L592,218.5 L592.35,218.5 L592.7,218.5 L593.05,218.5 L593.4,218.5 L593.75,218.5 L594.1,218.5 L594.45,218.5 L594.8,218.5 L595.15,218.5 L595.5,218.5 L595.85,218.5 L596.2,218.5 L596.55,218.5 L596.9,218.5 L597.25,218.5 L597.6,218.5 L597.95,218.5 L598.3,218.5 L598.65,218.5 L599,218.5 L599.35,218.5 L599.7,218.5 L600.05,218.5 L600.4,218.5 L600.75,218.5 L601.1,218.5 L601.45,218.5 L601.8,218.5 L602.15,218.5 L602.5,218.5 L602.85,218.5 L603.2,218.5 L603.55,218.5 L603.9,218.5 L604.25,218.5 L604.6,218.5 L604.95,218.5 L605.3,218.5 L605.65,218.5 L606,218.5 L606.35,218.5 L606.7,218.5 L607.05,218.5 L607.4,218.5 L607.75,218.5 L608.1,218.5 L608.45,218.5 L608.8,218.5 L609.15,218.5 L609.5,218.5 L609.85,218.5 L610.2,218.5 L610.55,218.5 L610.9,218.5 L611.25,218.5 L611.6,218.5 L611.95,218.5 L612.3,218.5 L612.65,218.5 L613,218.5 L613.35,218.5 L613.7,218.5 L614.05,218.5 L614.4,218.5 L614.75,218.5 L615.1,218.5 L615.45,218.5 L615.8,218.5 L616.15,218.5 L616.5,218.5 L616.85,218.5 L617.2,218.5 L617.55,218.5 L617.9,218.5 L618.25,218.5 L618.6,218.5 L618.95,218.5 L619.3,218.5 L619.65,218.5 L620,218.5 L620.35,218.5 L620.7,218.5 L621.05,218.5 L621.4,218.5 L621.75,218.5 L622.1,218.5 L622.45,218.5 L622.8,218.5 L623.15,218.5 L623.5,218.5 L623.85,218.5 L624.2,218.5 L624.55,218.5 L624.9,218.5 L625.25,218.5 L625.6,218.5 L625.95,218.5 L626.3,218.5 L626.65,218.5 L627,218.5 L627.35,218.5 L627.7,218.5 L628.05,218.5 L628.4,218.5 L628.75,218.5 L629.1,218.5 L629.45,218.5 L629.8,218.5 L630.15,218.5 L630.5,218.5 L630.85,218.5 L631.2,218.5 L631.55,218.5 L631.9,218.5 L632.25,218.5 L632.6,218.5 L632.95,218.5 L633.3,218.5 L633.65,218.5 L634,218.5 L634.35,218.5 L634.7,218.5 L635.05,218.5 L635.4,218.5 L635.75,218.5 L636.1,218.5 L636.45,218.5 L636.8,218.5 L637.15,218.5 L637.5,218.5 L637.85,218.5 L638.2,218.5 L638.55,218.5 L638.9,218.5 L639.25,218.5 L639.6,218.5 L639.95,218.5 L640.3,218.5 L640.65,218.5 L641,218.5 L641.35,218.5 L641.7,218.5 L642.05,218.5 L642.4,218.5 L642.75,218.5 L643.1,218.5 L643.45,218.5 L643.8,218.5 L644.15,218.5 L644.5,218.5 L644.85,218.5 L645.2,218.5 L645.55,218.5 L645.9,218.5 L646.25,218.5 L646.6,218.5 L646.95,218.5 L647.3,218.5 L647.65,218.5 L648,218.5 L648.35,218.5 L648.7,218.5 L649.05,218.5 L649.4,218.5 L649.75,218.5 L650.1,218.5 L650.45,218.5 L650.8,218.5 L651.15,218.5 L651.5,218.5 L651.85,218.5 L652.2,218.5 L652.55,218.5 L652.9,218.5 L653.25,218.5 L653.6,218.5 L653.95,218.5 L654.3,218.5 L654.65,218.5 L655,218.5 L655.35,218.5 L655.7,218.5 L656.05,218.5 L656.4,218.5 L656.75,218.5 L657.1,218.5 L657.45,218.5 L657.8,218.5 L658.15,218.5 L658.5,218.5 L658.85,218.5 L659.2,218.5 L659.55,218.5 L659.9,218.5 L660.25,218.5 L660.6,218.5 L660.95,218.5 L661.3,218.5 L661.65,218.5 L662,218.5 L662.35,218.5 L662.7,218.5 L663.05,218.5 L663.4,218.5 L663.75,218.5 L664.1,218.5 L664.45,218.5 L664.8,218.5 L665.15,218.5 L665.5,218.5 L665.85,218.5 L666.2,218.5 L666.55,218.5 L666.9,218.5" stroke="#cf2e2e" stroke-width="2.7" fill="none" stroke-linejoin="round"/>
<path d="M470.9,253.1 L471.25,253.13 L471.6,253.23 L471.95,253.39 L472.3,253.61 L472.65,253.89 L473,254.23 L473.35,254.63 L473.7,255.07 L474.05,255.57 L474.4,256.11 L474.75,256.7 L475.1,257.32 L475.45,257.97 L475.8,258.65 L476.15,259.36 L476.5,260.08 L476.85,260.82 L477.2,261.57 L477.55,262.32 L477.9,263.08 L478.25,263.83 L478.6,264.58 L478.95,265.32 L479.3,266.05 L479.65,266.76 L480,267.45 L480.35,268.12 L480.7,268.76 L481.05,269.39 L481.4,269.98 L481.75,270.55 L482.1,271.1 L482.45,271.61 L482.8,272.09 L483.15,272.55 L483.5,272.98 L483.85,273.38 L484.2,273.75 L484.55,274.1 L484.9,274.41 L485.25,274.71 L485.6,274.98 L485.95,275.23 L486.3,275.45 L486.65,275.66 L487,275.85 L487.35,276.02 L487.7,276.17 L488.05,276.31 L488.4,276.43 L488.75,276.54 L489.1,276.63 L489.45,276.72 L489.8,276.8 L490.15,276.87 L490.5,276.93 L490.85,276.98 L491.2,277.02 L491.55,277.06 L491.9,277.1 L492.25,277.13 L492.6,277.15 L492.95,277.18 L493.3,277.2 L493.65,277.21 L494,277.23 L494.35,277.24 L494.7,277.25 L495.05,277.26 L495.4,277.26 L495.75,277.27 L496.1,277.28 L496.45,277.28 L496.8,277.28 L497.15,277.29 L497.5,277.29 L497.85,277.29 L498.2,277.29 L498.55,277.29 L498.9,277.3 L499.25,277.3 L499.6,277.3 L499.95,277.3 L500.3,277.3 L500.65,277.3 L501,277.3 L501.35,277.3 L501.7,277.3 L502.05,277.3 L502.4,277.3 L502.75,277.3 L503.1,277.3 L503.45,277.3 L503.8,277.3 L504.15,277.3 L504.5,277.3 L504.85,277.3 L505.2,277.3 L505.55,277.3 L505.9,277.3 L506.25,277.3 L506.6,277.3 L506.95,277.3 L507.3,277.3 L507.65,277.3 L508,277.3 L508.35,277.3 L508.7,277.3 L509.05,277.3 L509.4,277.3 L509.75,277.3 L510.1,277.3 L510.45,277.3 L510.8,277.3 L511.15,277.3 L511.5,277.3 L511.85,277.3 L512.2,277.3 L512.55,277.3 L512.9,277.3 L513.25,277.3 L513.6,277.3 L513.95,277.3 L514.3,277.3 L514.65,277.3 L515,277.3 L515.35,277.3 L515.7,277.3 L516.05,277.3 L516.4,277.3 L516.75,277.3 L517.1,277.3 L517.45,277.3 L517.8,277.3 L518.15,277.3 L518.5,277.3 L518.85,277.3 L519.2,277.3 L519.55,277.3 L519.9,277.3 L520.25,277.3 L520.6,277.3 L520.95,277.3 L521.3,277.3 L521.65,277.3 L522,277.3 L522.35,277.3 L522.7,277.3 L523.05,277.3 L523.4,277.3 L523.75,277.3 L524.1,277.3 L524.45,277.3 L524.8,277.3 L525.15,277.3 L525.5,277.3 L525.85,277.3 L526.2,277.3 L526.55,277.3 L526.9,277.3 L527.25,277.3 L527.6,277.3 L527.95,277.3 L528.3,277.3 L528.65,277.3 L529,277.3 L529.35,277.3 L529.7,277.3 L530.05,277.3 L530.4,277.3 L530.75,277.3 L531.1,277.3 L531.45,277.3 L531.8,277.3 L532.15,277.3 L532.5,277.3 L532.85,277.3 L533.2,277.3 L533.55,277.3 L533.9,277.3 L534.25,277.3 L534.6,277.3 L534.95,277.3 L535.3,277.3 L535.65,277.3 L536,277.3 L536.35,277.3 L536.7,277.3 L537.05,277.3 L537.4,277.3 L537.75,277.3 L538.1,277.3 L538.45,277.3 L538.8,277.3 L539.15,277.3 L539.5,277.3 L539.85,277.3 L540.2,277.3 L540.55,277.3 L540.9,277.3 L541.25,277.3 L541.6,277.3 L541.95,277.3 L542.3,277.3 L542.65,277.3 L543,277.3 L543.35,277.3 L543.7,277.3 L544.05,277.3 L544.4,277.3 L544.75,277.3 L545.1,277.3 L545.45,277.3 L545.8,277.3 L546.15,277.3 L546.5,277.3 L546.85,277.3 L547.2,277.3 L547.55,277.3 L547.9,277.3 L548.25,277.3 L548.6,277.3 L548.95,277.3 L549.3,277.3 L549.65,277.3 L550,277.3 L550.35,277.3 L550.7,277.3 L551.05,277.3 L551.4,277.3 L551.75,277.3 L552.1,277.3 L552.45,277.3 L552.8,277.3 L553.15,277.3 L553.5,277.3 L553.85,277.3 L554.2,277.3 L554.55,277.3 L554.9,277.3 L555.25,277.3 L555.6,277.3 L555.95,277.3 L556.3,277.3 L556.65,277.3 L557,277.3 L557.35,277.3 L557.7,277.3 L558.05,277.3 L558.4,277.3 L558.75,277.3 L559.1,277.3 L559.45,277.3 L559.8,277.3 L560.15,277.3 L560.5,277.3 L560.85,277.3 L561.2,277.3 L561.55,277.3 L561.9,277.3 L562.25,277.3 L562.6,277.3 L562.95,277.3 L563.3,277.3 L563.65,277.3 L564,277.3 L564.35,277.3 L564.7,277.3 L565.05,277.3 L565.4,277.3 L565.75,277.3 L566.1,277.3 L566.45,277.3 L566.8,277.3 L567.15,277.3 L567.5,277.3 L567.85,277.3 L568.2,277.3 L568.55,277.3 L568.9,277.3 L569.25,277.3 L569.6,277.3 L569.95,277.3 L570.3,277.3 L570.65,277.3 L571,277.3 L571.35,277.3 L571.7,277.3 L572.05,277.3 L572.4,277.3 L572.75,277.3 L573.1,277.3 L573.45,277.3 L573.8,277.3 L574.15,277.3 L574.5,277.3 L574.85,277.3 L575.2,277.3 L575.55,277.3 L575.9,277.3 L576.25,277.3 L576.6,277.3 L576.95,277.3 L577.3,277.3 L577.65,277.3 L578,277.3 L578.35,277.3 L578.7,277.3 L579.05,277.3 L579.4,277.3 L579.75,277.3 L580.1,277.3 L580.45,277.3 L580.8,277.3 L581.15,277.3 L581.5,277.3 L581.85,277.3 L582.2,277.3 L582.55,277.3 L582.9,277.3 L583.25,277.3 L583.6,277.3 L583.95,277.3 L584.3,277.3 L584.65,277.3 L585,277.3 L585.35,277.3 L585.7,277.3 L586.05,277.3 L586.4,277.3 L586.75,277.3 L587.1,277.3 L587.45,277.3 L587.8,277.3 L588.15,277.3 L588.5,277.3 L588.85,277.3 L589.2,277.3 L589.55,277.3 L589.9,277.3 L590.25,277.3 L590.6,277.3 L590.95,277.3 L591.3,277.3 L591.65,277.3 L592,277.3 L592.35,277.3 L592.7,277.3 L593.05,277.3 L593.4,277.3 L593.75,277.3 L594.1,277.3 L594.45,277.3 L594.8,277.3 L595.15,277.3 L595.5,277.3 L595.85,277.3 L596.2,277.3 L596.55,277.3 L596.9,277.3 L597.25,277.3 L597.6,277.3 L597.95,277.3 L598.3,277.3 L598.65,277.3 L599,277.3 L599.35,277.3 L599.7,277.3 L600.05,277.3 L600.4,277.3 L600.75,277.3 L601.1,277.3 L601.45,277.3 L601.8,277.3 L602.15,277.3 L602.5,277.3 L602.85,277.3 L603.2,277.3 L603.55,277.3 L603.9,277.3 L604.25,277.3 L604.6,277.3 L604.95,277.3 L605.3,277.3 L605.65,277.3 L606,277.3 L606.35,277.3 L606.7,277.3 L607.05,277.3 L607.4,277.3 L607.75,277.3 L608.1,277.3 L608.45,277.3 L608.8,277.3 L609.15,277.3 L609.5,277.3 L609.85,277.3 L610.2,277.3 L610.55,277.3 L610.9,277.3 L611.25,277.3 L611.6,277.3 L611.95,277.3 L612.3,277.3 L612.65,277.3 L613,277.3 L613.35,277.3 L613.7,277.3 L614.05,277.3 L614.4,277.3 L614.75,277.3 L615.1,277.3 L615.45,277.3 L615.8,277.3 L616.15,277.3 L616.5,277.3 L616.85,277.3 L617.2,277.3 L617.55,277.3 L617.9,277.3 L618.25,277.3 L618.6,277.3 L618.95,277.3 L619.3,277.3 L619.65,277.3 L620,277.3 L620.35,277.3 L620.7,277.3 L621.05,277.3 L621.4,277.3 L621.75,277.3 L622.1,277.3 L622.45,277.3 L622.8,277.3 L623.15,277.3 L623.5,277.3 L623.85,277.3 L624.2,277.3 L624.55,277.3 L624.9,277.3 L625.25,277.3 L625.6,277.3 L625.95,277.3 L626.3,277.3 L626.65,277.3 L627,277.3 L627.35,277.3 L627.7,277.3 L628.05,277.3 L628.4,277.3 L628.75,277.3 L629.1,277.3 L629.45,277.3 L629.8,277.3 L630.15,277.3 L630.5,277.3 L630.85,277.3 L631.2,277.3 L631.55,277.3 L631.9,277.3 L632.25,277.3 L632.6,277.3 L632.95,277.3 L633.3,277.3 L633.65,277.3 L634,277.3 L634.35,277.3 L634.7,277.3 L635.05,277.3 L635.4,277.3 L635.75,277.3 L636.1,277.3 L636.45,277.3 L636.8,277.3 L637.15,277.3 L637.5,277.3 L637.85,277.3 L638.2,277.3 L638.55,277.3 L638.9,277.3 L639.25,277.3 L639.6,277.3 L639.95,277.3 L640.3,277.3 L640.65,277.3 L641,277.3 L641.35,277.3 L641.7,277.3 L642.05,277.3 L642.4,277.3 L642.75,277.3 L643.1,277.3 L643.45,277.3 L643.8,277.3 L644.15,277.3 L644.5,277.3 L644.85,277.3 L645.2,277.3 L645.55,277.3 L645.9,277.3 L646.25,277.3 L646.6,277.3 L646.95,277.3 L647.3,277.3 L647.65,277.3 L648,277.3 L648.35,277.3 L648.7,277.3 L649.05,277.3 L649.4,277.3 L649.75,277.3 L650.1,277.3 L650.45,277.3 L650.8,277.3 L651.15,277.3 L651.5,277.3 L651.85,277.3 L652.2,277.3 L652.55,277.3 L652.9,277.3 L653.25,277.3 L653.6,277.3 L653.95,277.3 L654.3,277.3 L654.65,277.3 L655,277.3 L655.35,277.3 L655.7,277.3 L656.05,277.3 L656.4,277.3 L656.75,277.3 L657.1,277.3 L657.45,277.3 L657.8,277.3 L658.15,277.3 L658.5,277.3 L658.85,277.3 L659.2,277.3 L659.55,277.3 L659.9,277.3 L660.25,277.3 L660.6,277.3 L660.95,277.3 L661.3,277.3 L661.65,277.3 L662,277.3 L662.35,277.3 L662.7,277.3 L663.05,277.3 L663.4,277.3 L663.75,277.3 L664.1,277.3 L664.45,277.3 L664.8,277.3 L665.15,277.3 L665.5,277.3 L665.85,277.3 L666.2,277.3 L666.55,277.3 L666.9,277.3 L666.9,277.3 L666.55,277.3 L666.2,277.3 L665.85,277.3 L665.5,277.3 L665.15,277.3 L664.8,277.3 L664.45,277.3 L664.1,277.3 L663.75,277.3 L663.4,277.3 L663.05,277.3 L662.7,277.3 L662.35,277.3 L662,277.3 L661.65,277.3 L661.3,277.3 L660.95,277.3 L660.6,277.3 L660.25,277.3 L659.9,277.3 L659.55,277.3 L659.2,277.3 L658.85,277.3 L658.5,277.3 L658.15,277.3 L657.8,277.3 L657.45,277.3 L657.1,277.3 L656.75,277.3 L656.4,277.3 L656.05,277.3 L655.7,277.3 L655.35,277.3 L655,277.3 L654.65,277.3 L654.3,277.3 L653.95,277.3 L653.6,277.3 L653.25,277.3 L652.9,277.3 L652.55,277.3 L652.2,277.3 L651.85,277.3 L651.5,277.3 L651.15,277.3 L650.8,277.3 L650.45,277.3 L650.1,277.3 L649.75,277.3 L649.4,277.3 L649.05,277.3 L648.7,277.3 L648.35,277.3 L648,277.3 L647.65,277.3 L647.3,277.3 L646.95,277.3 L646.6,277.3 L646.25,277.3 L645.9,277.3 L645.55,277.3 L645.2,277.3 L644.85,277.3 L644.5,277.3 L644.15,277.3 L643.8,277.3 L643.45,277.3 L643.1,277.3 L642.75,277.3 L642.4,277.3 L642.05,277.3 L641.7,277.3 L641.35,277.3 L641,277.3 L640.65,277.3 L640.3,277.3 L639.95,277.3 L639.6,277.3 L639.25,277.3 L638.9,277.3 L638.55,277.3 L638.2,277.3 L637.85,277.3 L637.5,277.3 L637.15,277.3 L636.8,277.3 L636.45,277.3 L636.1,277.3 L635.75,277.3 L635.4,277.3 L635.05,277.3 L634.7,277.3 L634.35,277.3 L634,277.3 L633.65,277.3 L633.3,277.3 L632.95,277.3 L632.6,277.3 L632.25,277.3 L631.9,277.3 L631.55,277.3 L631.2,277.3 L630.85,277.3 L630.5,277.3 L630.15,277.3 L629.8,277.3 L629.45,277.3 L629.1,277.3 L628.75,277.3 L628.4,277.3 L628.05,277.3 L627.7,277.3 L627.35,277.3 L627,277.3 L626.65,277.3 L626.3,277.3 L625.95,277.3 L625.6,277.3 L625.25,277.3 L624.9,277.3 L624.55,277.3 L624.2,277.3 L623.85,277.3 L623.5,277.3 L623.15,277.3 L622.8,277.3 L622.45,277.3 L622.1,277.3 L621.75,277.3 L621.4,277.3 L621.05,277.3 L620.7,277.3 L620.35,277.3 L620,277.3 L619.65,277.3 L619.3,277.3 L618.95,277.3 L618.6,277.3 L618.25,277.3 L617.9,277.3 L617.55,277.3 L617.2,277.3 L616.85,277.3 L616.5,277.3 L616.15,277.3 L615.8,277.3 L615.45,277.3 L615.1,277.3 L614.75,277.3 L614.4,277.3 L614.05,277.3 L613.7,277.3 L613.35,277.3 L613,277.3 L612.65,277.3 L612.3,277.3 L611.95,277.3 L611.6,277.3 L611.25,277.3 L610.9,277.3 L610.55,277.3 L610.2,277.3 L609.85,277.3 L609.5,277.3 L609.15,277.3 L608.8,277.3 L608.45,277.3 L608.1,277.3 L607.75,277.3 L607.4,277.3 L607.05,277.3 L606.7,277.3 L606.35,277.3 L606,277.3 L605.65,277.3 L605.3,277.3 L604.95,277.3 L604.6,277.3 L604.25,277.3 L603.9,277.3 L603.55,277.3 L603.2,277.3 L602.85,277.3 L602.5,277.3 L602.15,277.3 L601.8,277.3 L601.45,277.3 L601.1,277.3 L600.75,277.3 L600.4,277.3 L600.05,277.3 L599.7,277.3 L599.35,277.3 L599,277.3 L598.65,277.3 L598.3,277.3 L597.95,277.3 L597.6,277.3 L597.25,277.3 L596.9,277.3 L596.55,277.3 L596.2,277.3 L595.85,277.3 L595.5,277.3 L595.15,277.3 L594.8,277.3 L594.45,277.3 L594.1,277.3 L593.75,277.3 L593.4,277.3 L593.05,277.3 L592.7,277.3 L592.35,277.3 L592,277.3 L591.65,277.3 L591.3,277.3 L590.95,277.3 L590.6,277.3 L590.25,277.3 L589.9,277.3 L589.55,277.3 L589.2,277.3 L588.85,277.3 L588.5,277.3 L588.15,277.3 L587.8,277.3 L587.45,277.3 L587.1,277.3 L586.75,277.3 L586.4,277.3 L586.05,277.3 L585.7,277.3 L585.35,277.3 L585,277.3 L584.65,277.3 L584.3,277.3 L583.95,277.3 L583.6,277.3 L583.25,277.3 L582.9,277.3 L582.55,277.3 L582.2,277.3 L581.85,277.3 L581.5,277.3 L581.15,277.3 L580.8,277.3 L580.45,277.3 L580.1,277.3 L579.75,277.3 L579.4,277.3 L579.05,277.3 L578.7,277.3 L578.35,277.3 L578,277.3 L577.65,277.3 L577.3,277.3 L576.95,277.3 L576.6,277.3 L576.25,277.3 L575.9,277.3 L575.55,277.3 L575.2,277.3 L574.85,277.3 L574.5,277.3 L574.15,277.3 L573.8,277.3 L573.45,277.3 L573.1,277.3 L572.75,277.3 L572.4,277.3 L572.05,277.3 L571.7,277.3 L571.35,277.3 L571,277.3 L570.65,277.3 L570.3,277.3 L569.95,277.3 L569.6,277.3 L569.25,277.3 L568.9,277.3 L568.55,277.3 L568.2,277.3 L567.85,277.3 L567.5,277.3 L567.15,277.3 L566.8,277.3 L566.45,277.3 L566.1,277.3 L565.75,277.3 L565.4,277.3 L565.05,277.3 L564.7,277.3 L564.35,277.3 L564,277.3 L563.65,277.3 L563.3,277.3 L562.95,277.3 L562.6,277.3 L562.25,277.3 L561.9,277.3 L561.55,277.3 L561.2,277.3 L560.85,277.3 L560.5,277.3 L560.15,277.3 L559.8,277.3 L559.45,277.3 L559.1,277.3 L558.75,277.3 L558.4,277.3 L558.05,277.3 L557.7,277.3 L557.35,277.3 L557,277.3 L556.65,277.3 L556.3,277.3 L555.95,277.3 L555.6,277.3 L555.25,277.3 L554.9,277.3 L554.55,277.3 L554.2,277.3 L553.85,277.3 L553.5,277.3 L553.15,277.3 L552.8,277.3 L552.45,277.3 L552.1,277.3 L551.75,277.3 L551.4,277.3 L551.05,277.3 L550.7,277.3 L550.35,277.3 L550,277.3 L549.65,277.3 L549.3,277.3 L548.95,277.3 L548.6,277.3 L548.25,277.3 L547.9,277.3 L547.55,277.3 L547.2,277.3 L546.85,277.3 L546.5,277.3 L546.15,277.3 L545.8,277.3 L545.45,277.3 L545.1,277.3 L544.75,277.3 L544.4,277.3 L544.05,277.3 L543.7,277.3 L543.35,277.3 L543,277.3 L542.65,277.3 L542.3,277.3 L541.95,277.3 L541.6,277.3 L541.25,277.3 L540.9,277.3 L540.55,277.3 L540.2,277.3 L539.85,277.3 L539.5,277.3 L539.15,277.3 L538.8,277.3 L538.45,277.3 L538.1,277.3 L537.75,277.3 L537.4,277.3 L537.05,277.3 L536.7,277.3 L536.35,277.3 L536,277.3 L535.65,277.3 L535.3,277.3 L534.95,277.3 L534.6,277.3 L534.25,277.3 L533.9,277.3 L533.55,277.3 L533.2,277.3 L532.85,277.3 L532.5,277.3 L532.15,277.3 L531.8,277.3 L531.45,277.3 L531.1,277.3 L530.75,277.3 L530.4,277.3 L530.05,277.3 L529.7,277.3 L529.35,277.3 L529,277.3 L528.65,277.3 L528.3,277.3 L527.95,277.3 L527.6,277.3 L527.25,277.3 L526.9,277.3 L526.55,277.3 L526.2,277.3 L525.85,277.3 L525.5,277.3 L525.15,277.3 L524.8,277.3 L524.45,277.3 L524.1,277.3 L523.75,277.3 L523.4,277.3 L523.05,277.3 L522.7,277.3 L522.35,277.3 L522,277.3 L521.65,277.3 L521.3,277.3 L520.95,277.3 L520.6,277.3 L520.25,277.3 L519.9,277.3 L519.55,277.3 L519.2,277.3 L518.85,277.3 L518.5,277.3 L518.15,277.3 L517.8,277.3 L517.45,277.3 L517.1,277.3 L516.75,277.3 L516.4,277.3 L516.05,277.3 L515.7,277.3 L515.35,277.3 L515,277.3 L514.65,277.3 L514.3,277.3 L513.95,277.3 L513.6,277.3 L513.25,277.3 L512.9,277.3 L512.55,277.3 L512.2,277.3 L511.85,277.3 L511.5,277.3 L511.15,277.3 L510.8,277.3 L510.45,277.3 L510.1,277.3 L509.75,277.3 L509.4,277.3 L509.05,277.3 L508.7,277.3 L508.35,277.3 L508,277.3 L507.65,277.3 L507.3,277.3 L506.95,277.3 L506.6,277.3 L506.25,277.3 L505.9,277.3 L505.55,277.3 L505.2,277.3 L504.85,277.3 L504.5,277.3 L504.15,277.3 L503.8,277.3 L503.45,277.3 L503.1,277.3 L502.75,277.3 L502.4,277.3 L502.05,277.3 L501.7,277.3 L501.35,277.3 L501,277.3 L500.65,277.3 L500.3,277.3 L499.95,277.3 L499.6,277.3 L499.25,277.3 L498.9,277.3 L498.55,277.31 L498.2,277.31 L497.85,277.31 L497.5,277.31 L497.15,277.31 L496.8,277.32 L496.45,277.32 L496.1,277.32 L495.75,277.33 L495.4,277.34 L495.05,277.34 L494.7,277.35 L494.35,277.36 L494,277.37 L493.65,277.39 L493.3,277.4 L492.95,277.42 L492.6,277.45 L492.25,277.47 L491.9,277.5 L491.55,277.54 L491.2,277.58 L490.85,277.62 L490.5,277.67 L490.15,277.73 L489.8,277.8 L489.45,277.88 L489.1,277.97 L488.75,278.06 L488.4,278.17 L488.05,278.29 L487.7,278.43 L487.35,278.58 L487,278.75 L486.65,278.94 L486.3,279.15 L485.95,279.37 L485.6,279.62 L485.25,279.89 L484.9,280.19 L484.55,280.5 L484.2,280.85 L483.85,281.22 L483.5,281.62 L483.15,282.05 L482.8,282.51 L482.45,282.99 L482.1,283.5 L481.75,284.05 L481.4,284.62 L481.05,285.21 L480.7,285.84 L480.35,286.48 L480,287.15 L479.65,287.84 L479.3,288.55 L478.95,289.28 L478.6,290.02 L478.25,290.77 L477.9,291.52 L477.55,292.28 L477.2,293.03 L476.85,293.78 L476.5,294.52 L476.15,295.24 L475.8,295.95 L475.45,296.63 L475.1,297.28 L474.75,297.9 L474.4,298.49 L474.05,299.03 L473.7,299.53 L473.35,299.97 L473,300.37 L472.65,300.71 L472.3,300.99 L471.95,301.21 L471.6,301.37 L471.25,301.47 L470.9,301.5 Z" fill="#fccfcf"/>
<path d="M470.9,254.3 L471.25,255.15 L471.6,257.63 L471.95,261.54 L472.3,266.54 L472.65,272.23 L473,278.14 L473.35,283.8 L473.7,288.78 L474.05,292.72 L474.4,295.35 L474.75,296.52 L475.1,296.24 L475.45,294.59 L475.8,291.8 L476.15,288.15 L476.5,283.99 L476.85,279.69 L477.2,275.59 L477.55,271.98 L477.9,269.11 L478.25,267.12 L478.6,266.09 L478.95,265.99 L479.3,266.73 L479.65,268.16 L480,270.08 L480.35,272.28 L480.7,274.56 L481.05,276.72 L481.4,278.62 L481.75,280.14 L482.1,281.22 L482.45,281.84 L482.8,282.02 L483.15,281.81 L483.5,281.3 L483.85,280.57 L484.2,279.73 L484.55,278.86 L484.9,278.03 L485.25,277.3 L485.6,276.72 L485.95,276.29 L486.3,276.04 L486.65,275.93 L487,275.96 L487.35,276.08 L487.7,276.27 L488.05,276.51 L488.4,276.75 L488.75,276.98 L489.1,277.18 L489.45,277.34 L489.8,277.46 L490.15,277.54 L490.5,277.57 L490.85,277.58 L491.2,277.56 L491.55,277.52 L491.9,277.48 L492.25,277.43 L492.6,277.38 L492.95,277.34 L493.3,277.31 L493.65,277.29 L494,277.27 L494.35,277.26 L494.7,277.26 L495.05,277.26 L495.4,277.27 L495.75,277.27 L496.1,277.28 L496.45,277.29 L496.8,277.29 L497.15,277.3 L497.5,277.3 L497.85,277.3 L498.2,277.3 L498.55,277.3 L498.9,277.3 L499.25,277.3 L499.6,277.3 L499.95,277.3 L500.3,277.3 L500.65,277.3 L501,277.3 L501.35,277.3 L501.7,277.3 L502.05,277.3 L502.4,277.3 L502.75,277.3 L503.1,277.3 L503.45,277.3 L503.8,277.3 L504.15,277.3 L504.5,277.3 L504.85,277.3 L505.2,277.3 L505.55,277.3 L505.9,277.3 L506.25,277.3 L506.6,277.3 L506.95,277.3 L507.3,277.3 L507.65,277.3 L508,277.3 L508.35,277.3 L508.7,277.3 L509.05,277.3 L509.4,277.3 L509.75,277.3 L510.1,277.3 L510.45,277.3 L510.8,277.3 L511.15,277.3 L511.5,277.3 L511.85,277.3 L512.2,277.3 L512.55,277.3 L512.9,277.3 L513.25,277.3 L513.6,277.3 L513.95,277.3 L514.3,277.3 L514.65,277.3 L515,277.3 L515.35,277.3 L515.7,277.3 L516.05,277.3 L516.4,277.3 L516.75,277.3 L517.1,277.3 L517.45,277.3 L517.8,277.3 L518.15,277.3 L518.5,277.3 L518.85,277.3 L519.2,277.3 L519.55,277.3 L519.9,277.3 L520.25,277.3 L520.6,277.3 L520.95,277.3 L521.3,277.3 L521.65,277.3 L522,277.3 L522.35,277.3 L522.7,277.3 L523.05,277.3 L523.4,277.3 L523.75,277.3 L524.1,277.3 L524.45,277.3 L524.8,277.3 L525.15,277.3 L525.5,277.3 L525.85,277.3 L526.2,277.3 L526.55,277.3 L526.9,277.3 L527.25,277.3 L527.6,277.3 L527.95,277.3 L528.3,277.3 L528.65,277.3 L529,277.3 L529.35,277.3 L529.7,277.3 L530.05,277.3 L530.4,277.3 L530.75,277.3 L531.1,277.3 L531.45,277.3 L531.8,277.3 L532.15,277.3 L532.5,277.3 L532.85,277.3 L533.2,277.3 L533.55,277.3 L533.9,277.3 L534.25,277.3 L534.6,277.3 L534.95,277.3 L535.3,277.3 L535.65,277.3 L536,277.3 L536.35,277.3 L536.7,277.3 L537.05,277.3 L537.4,277.3 L537.75,277.3 L538.1,277.3 L538.45,277.3 L538.8,277.3 L539.15,277.3 L539.5,277.3 L539.85,277.3 L540.2,277.3 L540.55,277.3 L540.9,277.3 L541.25,277.3 L541.6,277.3 L541.95,277.3 L542.3,277.3 L542.65,277.3 L543,277.3 L543.35,277.3 L543.7,277.3 L544.05,277.3 L544.4,277.3 L544.75,277.3 L545.1,277.3 L545.45,277.3 L545.8,277.3 L546.15,277.3 L546.5,277.3 L546.85,277.3 L547.2,277.3 L547.55,277.3 L547.9,277.3 L548.25,277.3 L548.6,277.3 L548.95,277.3 L549.3,277.3 L549.65,277.3 L550,277.3 L550.35,277.3 L550.7,277.3 L551.05,277.3 L551.4,277.3 L551.75,277.3 L552.1,277.3 L552.45,277.3 L552.8,277.3 L553.15,277.3 L553.5,277.3 L553.85,277.3 L554.2,277.3 L554.55,277.3 L554.9,277.3 L555.25,277.3 L555.6,277.3 L555.95,277.3 L556.3,277.3 L556.65,277.3 L557,277.3 L557.35,277.3 L557.7,277.3 L558.05,277.3 L558.4,277.3 L558.75,277.3 L559.1,277.3 L559.45,277.3 L559.8,277.3 L560.15,277.3 L560.5,277.3 L560.85,277.3 L561.2,277.3 L561.55,277.3 L561.9,277.3 L562.25,277.3 L562.6,277.3 L562.95,277.3 L563.3,277.3 L563.65,277.3 L564,277.3 L564.35,277.3 L564.7,277.3 L565.05,277.3 L565.4,277.3 L565.75,277.3 L566.1,277.3 L566.45,277.3 L566.8,277.3 L567.15,277.3 L567.5,277.3 L567.85,277.3 L568.2,277.3 L568.55,277.3 L568.9,277.3 L569.25,277.3 L569.6,277.3 L569.95,277.3 L570.3,277.3 L570.65,277.3 L571,277.3 L571.35,277.3 L571.7,277.3 L572.05,277.3 L572.4,277.3 L572.75,277.3 L573.1,277.3 L573.45,277.3 L573.8,277.3 L574.15,277.3 L574.5,277.3 L574.85,277.3 L575.2,277.3 L575.55,277.3 L575.9,277.3 L576.25,277.3 L576.6,277.3 L576.95,277.3 L577.3,277.3 L577.65,277.3 L578,277.3 L578.35,277.3 L578.7,277.3 L579.05,277.3 L579.4,277.3 L579.75,277.3 L580.1,277.3 L580.45,277.3 L580.8,277.3 L581.15,277.3 L581.5,277.3 L581.85,277.3 L582.2,277.3 L582.55,277.3 L582.9,277.3 L583.25,277.3 L583.6,277.3 L583.95,277.3 L584.3,277.3 L584.65,277.3 L585,277.3 L585.35,277.3 L585.7,277.3 L586.05,277.3 L586.4,277.3 L586.75,277.3 L587.1,277.3 L587.45,277.3 L587.8,277.3 L588.15,277.3 L588.5,277.3 L588.85,277.3 L589.2,277.3 L589.55,277.3 L589.9,277.3 L590.25,277.3 L590.6,277.3 L590.95,277.3 L591.3,277.3 L591.65,277.3 L592,277.3 L592.35,277.3 L592.7,277.3 L593.05,277.3 L593.4,277.3 L593.75,277.3 L594.1,277.3 L594.45,277.3 L594.8,277.3 L595.15,277.3 L595.5,277.3 L595.85,277.3 L596.2,277.3 L596.55,277.3 L596.9,277.3 L597.25,277.3 L597.6,277.3 L597.95,277.3 L598.3,277.3 L598.65,277.3 L599,277.3 L599.35,277.3 L599.7,277.3 L600.05,277.3 L600.4,277.3 L600.75,277.3 L601.1,277.3 L601.45,277.3 L601.8,277.3 L602.15,277.3 L602.5,277.3 L602.85,277.3 L603.2,277.3 L603.55,277.3 L603.9,277.3 L604.25,277.3 L604.6,277.3 L604.95,277.3 L605.3,277.3 L605.65,277.3 L606,277.3 L606.35,277.3 L606.7,277.3 L607.05,277.3 L607.4,277.3 L607.75,277.3 L608.1,277.3 L608.45,277.3 L608.8,277.3 L609.15,277.3 L609.5,277.3 L609.85,277.3 L610.2,277.3 L610.55,277.3 L610.9,277.3 L611.25,277.3 L611.6,277.3 L611.95,277.3 L612.3,277.3 L612.65,277.3 L613,277.3 L613.35,277.3 L613.7,277.3 L614.05,277.3 L614.4,277.3 L614.75,277.3 L615.1,277.3 L615.45,277.3 L615.8,277.3 L616.15,277.3 L616.5,277.3 L616.85,277.3 L617.2,277.3 L617.55,277.3 L617.9,277.3 L618.25,277.3 L618.6,277.3 L618.95,277.3 L619.3,277.3 L619.65,277.3 L620,277.3 L620.35,277.3 L620.7,277.3 L621.05,277.3 L621.4,277.3 L621.75,277.3 L622.1,277.3 L622.45,277.3 L622.8,277.3 L623.15,277.3 L623.5,277.3 L623.85,277.3 L624.2,277.3 L624.55,277.3 L624.9,277.3 L625.25,277.3 L625.6,277.3 L625.95,277.3 L626.3,277.3 L626.65,277.3 L627,277.3 L627.35,277.3 L627.7,277.3 L628.05,277.3 L628.4,277.3 L628.75,277.3 L629.1,277.3 L629.45,277.3 L629.8,277.3 L630.15,277.3 L630.5,277.3 L630.85,277.3 L631.2,277.3 L631.55,277.3 L631.9,277.3 L632.25,277.3 L632.6,277.3 L632.95,277.3 L633.3,277.3 L633.65,277.3 L634,277.3 L634.35,277.3 L634.7,277.3 L635.05,277.3 L635.4,277.3 L635.75,277.3 L636.1,277.3 L636.45,277.3 L636.8,277.3 L637.15,277.3 L637.5,277.3 L637.85,277.3 L638.2,277.3 L638.55,277.3 L638.9,277.3 L639.25,277.3 L639.6,277.3 L639.95,277.3 L640.3,277.3 L640.65,277.3 L641,277.3 L641.35,277.3 L641.7,277.3 L642.05,277.3 L642.4,277.3 L642.75,277.3 L643.1,277.3 L643.45,277.3 L643.8,277.3 L644.15,277.3 L644.5,277.3 L644.85,277.3 L645.2,277.3 L645.55,277.3 L645.9,277.3 L646.25,277.3 L646.6,277.3 L646.95,277.3 L647.3,277.3 L647.65,277.3 L648,277.3 L648.35,277.3 L648.7,277.3 L649.05,277.3 L649.4,277.3 L649.75,277.3 L650.1,277.3 L650.45,277.3 L650.8,277.3 L651.15,277.3 L651.5,277.3 L651.85,277.3 L652.2,277.3 L652.55,277.3 L652.9,277.3 L653.25,277.3 L653.6,277.3 L653.95,277.3 L654.3,277.3 L654.65,277.3 L655,277.3 L655.35,277.3 L655.7,277.3 L656.05,277.3 L656.4,277.3 L656.75,277.3 L657.1,277.3 L657.45,277.3 L657.8,277.3 L658.15,277.3 L658.5,277.3 L658.85,277.3 L659.2,277.3 L659.55,277.3 L659.9,277.3 L660.25,277.3 L660.6,277.3 L660.95,277.3 L661.3,277.3 L661.65,277.3 L662,277.3 L662.35,277.3 L662.7,277.3 L663.05,277.3 L663.4,277.3 L663.75,277.3 L664.1,277.3 L664.45,277.3 L664.8,277.3 L665.15,277.3 L665.5,277.3 L665.85,277.3 L666.2,277.3 L666.55,277.3 L666.9,277.3" stroke="#f65d5d" stroke-width="2.7" fill="none" stroke-linejoin="round"/>
<line x1="470.7" y1="20.3" x2="474.9" y2="20.3" stroke="#444" stroke-width="1" />
<line x1="470.7" y1="56.1" x2="474.9" y2="56.1" stroke="#444" stroke-width="1" />
<path d="M459.7,18.2 L461.7,16.5 L461.7,23.6" stroke="#3a3a3a" stroke-width="1.0" fill="none" />
<line x1="457.7" y1="16.3" x2="457.7" y2="23.6" stroke="#3a3a3a" stroke-width="0.9" />
<path d="M463.5,16.3 L465.8,19.95 L463.5,23.6" stroke="#3a3a3a" stroke-width="0.85" fill="none" />
<text x="463.2" y="59.4" font-size="10" fill="#3a3a3a" text-anchor="end">0</text>
<line x1="455.5" y1="52.1" x2="455.5" y2="59.4" stroke="#3a3a3a" stroke-width="0.9" />
<path d="M463.5,52.1 L465.8,55.75 L463.5,59.4" stroke="#3a3a3a" stroke-width="0.85" fill="none" />
<line x1="470.7" y1="78.4" x2="474.9" y2="78.4" stroke="#444" stroke-width="1" />
<line x1="470.7" y1="123.2" x2="474.9" y2="123.2" stroke="#444" stroke-width="1" />
<path d="M459.7,79.25 L461.7,77.55 L461.7,84.65" stroke="#3a3a3a" stroke-width="1.0" fill="none" />
<line x1="457.7" y1="77.35" x2="457.7" y2="84.65" stroke="#3a3a3a" stroke-width="0.9" />
<path d="M463.5,77.35 L465.8,81 L463.5,84.65" stroke="#3a3a3a" stroke-width="0.85" fill="none" />
<text x="463.2" y="126.85" font-size="10" fill="#3a3a3a" text-anchor="end">0</text>
<line x1="455.5" y1="119.55" x2="455.5" y2="126.85" stroke="#3a3a3a" stroke-width="0.9" />
<path d="M463.5,119.55 L465.8,123.2 L463.5,126.85" stroke="#3a3a3a" stroke-width="0.85" fill="none" />
<line x1="470.7" y1="136.8" x2="474.9" y2="136.8" stroke="#444" stroke-width="1" />
<line x1="470.7" y1="175.3" x2="474.9" y2="175.3" stroke="#444" stroke-width="1" />
<path d="M459.7,138.15 L461.7,136.45 L461.7,143.55" stroke="#3a3a3a" stroke-width="1.0" fill="none" />
<line x1="457.7" y1="136.25" x2="457.7" y2="143.55" stroke="#3a3a3a" stroke-width="0.9" />
<path d="M463.5,136.25 L465.8,139.9 L463.5,143.55" stroke="#3a3a3a" stroke-width="0.85" fill="none" />
<text x="463.2" y="178.95" font-size="10" fill="#3a3a3a" text-anchor="end">0</text>
<line x1="455.5" y1="171.65" x2="455.5" y2="178.95" stroke="#3a3a3a" stroke-width="0.9" />
<path d="M463.5,171.65 L465.8,175.3 L463.5,178.95" stroke="#3a3a3a" stroke-width="0.85" fill="none" />
<line x1="470.7" y1="201.2" x2="474.9" y2="201.2" stroke="#444" stroke-width="1" />
<line x1="470.7" y1="237.3" x2="474.9" y2="237.3" stroke="#444" stroke-width="1" />
<path d="M459.7,200.25 L461.7,198.55 L461.7,205.65" stroke="#3a3a3a" stroke-width="1.0" fill="none" />
<line x1="457.7" y1="198.35" x2="457.7" y2="205.65" stroke="#3a3a3a" stroke-width="0.9" />
<path d="M463.5,198.35 L465.8,202 L463.5,205.65" stroke="#3a3a3a" stroke-width="0.85" fill="none" />
<text x="463.2" y="241.05" font-size="10" fill="#3a3a3a" text-anchor="end">0</text>
<line x1="455.5" y1="233.75" x2="455.5" y2="241.05" stroke="#3a3a3a" stroke-width="0.9" />
<path d="M463.5,233.75 L465.8,237.4 L463.5,241.05" stroke="#3a3a3a" stroke-width="0.85" fill="none" />
<line x1="470.7" y1="261.2" x2="474.9" y2="261.2" stroke="#444" stroke-width="1" />
<line x1="470.7" y1="300.2" x2="474.9" y2="300.2" stroke="#444" stroke-width="1" />
<path d="M459.7,259.15 L461.7,257.45 L461.7,264.55" stroke="#3a3a3a" stroke-width="1.0" fill="none" />
<line x1="457.7" y1="257.25" x2="457.7" y2="264.55" stroke="#3a3a3a" stroke-width="0.9" />
<path d="M463.5,257.25 L465.8,260.9 L463.5,264.55" stroke="#3a3a3a" stroke-width="0.85" fill="none" />
<text x="463.2" y="303.55" font-size="10" fill="#3a3a3a" text-anchor="end">0</text>
<line x1="455.5" y1="296.25" x2="455.5" y2="303.55" stroke="#3a3a3a" stroke-width="0.9" />
<path d="M463.5,296.25 L465.8,299.9 L463.5,303.55" stroke="#3a3a3a" stroke-width="0.85" fill="none" />
<line x1="470.7" y1="8.4" x2="667.6" y2="8.4" stroke="#555" stroke-width="1" />
<line x1="667.6" y1="8.4" x2="667.6" y2="311.5" stroke="#9a9a9a" stroke-width="1" />
<line x1="470.7" y1="7.9" x2="470.7" y2="312" stroke="#555" stroke-width="1.1" />
<line x1="470.2" y1="311.5" x2="668.1" y2="311.5" stroke="#555" stroke-width="1.1" />
<line x1="536.33" y1="311.5" x2="536.33" y2="307.9" stroke="#555" stroke-width="1" />
<line x1="601.97" y1="311.5" x2="601.97" y2="307.9" stroke="#555" stroke-width="1" />
<text x="470.7" y="323.8" font-size="9.4" fill="#231f20" text-anchor="middle" >0</text>
<text x="536.33" y="323.8" font-size="9.4" fill="#231f20" text-anchor="middle" >40</text>
<text x="601.97" y="323.8" font-size="9.4" fill="#231f20" text-anchor="middle" >80</text>
<text x="667.6" y="323.8" font-size="9.4" fill="#231f20" text-anchor="middle" >120</text>
<text x="521.5" y="340.2" font-size="10" fill="#231f20" textLength="95.5" lengthAdjust="spacingAndGlyphs" >Sensing time, <tspan font-style="italic">τ</tspan> (μs)</text>
<text transform="translate(445.2,160.2) rotate(-90)" font-size="10" fill="#231f20" text-anchor="middle">PL</text>
<text x="663.8" y="22.9" font-size="10" fill="#555" text-anchor="end" textLength="23.3" lengthAdjust="spacingAndGlyphs">Bulk:</text>
<text x="663.8" y="34.3" font-size="10" fill="#555" text-anchor="end" textLength="63.4" lengthAdjust="spacingAndGlyphs"><tspan font-style="italic">T</tspan><tspan font-size="7" dy="2.6">2</tspan><tspan font-size="11" dx="-1.6" dy="-2.0">*</tspan><tspan dy="-0.6"> = 48.27 μs</tspan></text>
<text x="663.8" y="82.5" font-size="10" fill="#2b5c96" text-anchor="end" textLength="55" lengthAdjust="spacingAndGlyphs">−alkene(H):</text>
<text x="663.8" y="93.9" font-size="10" fill="#2b5c96" text-anchor="end" textLength="61" lengthAdjust="spacingAndGlyphs"><tspan font-style="italic">T</tspan><tspan font-size="7" dy="2.6">2</tspan><tspan font-size="11" dx="-1.6" dy="-2.0">*</tspan><tspan dy="-0.6"> = 0.80 μs</tspan></text>
<text x="663.8" y="137.2" font-size="10" fill="#4a7dbd" text-anchor="end" textLength="55" lengthAdjust="spacingAndGlyphs">−alkene(D):</text>
<text x="663.8" y="149.5" font-size="10" fill="#4a7dbd" text-anchor="end" textLength="65.3" lengthAdjust="spacingAndGlyphs"><tspan font-style="italic">T</tspan><tspan font-size="7" dy="2.6">2</tspan><tspan font-size="11" dx="-1.6" dy="-2.0">*</tspan><tspan dy="-0.6"> = 37.56 μs</tspan></text>
<text x="663.8" y="197" font-size="10" fill="#c8282d" text-anchor="end" textLength="99.4" lengthAdjust="spacingAndGlyphs">−alkene(D)-CF<tspan font-size="7" dy="2.5">3</tspan><tspan dy="-2.5">(11%):</tspan></text>
<text x="663.8" y="208.3" font-size="10" fill="#c8282d" text-anchor="end" textLength="64.8" lengthAdjust="spacingAndGlyphs"><tspan font-style="italic">T</tspan><tspan font-size="7" dy="2.6">2</tspan><tspan font-size="11" dx="-1.6" dy="-2.0">*</tspan><tspan dy="-0.6"> = 15.68 μs</tspan></text>
<text x="663.8" y="256.6" font-size="10" fill="#f06a6a" text-anchor="end" textLength="110.2" lengthAdjust="spacingAndGlyphs">−alkene(D)-CF<tspan font-size="7" dy="2.5">3</tspan><tspan dy="-2.5">(100%):</tspan></text>
<text x="663.8" y="267.9" font-size="10" fill="#f06a6a" text-anchor="end" textLength="61" lengthAdjust="spacingAndGlyphs"><tspan font-style="italic">T</tspan><tspan font-size="7" dy="2.6">2</tspan><tspan font-size="11" dx="-1.6" dy="-2.0">*</tspan><tspan dy="-0.6"> = 6.03 μs</tspan></text>
<text x="430.4" y="383.8" font-size="15.3" fill="#000" font-weight="bold" stroke="#000" stroke-width="0.5">f</text>
<rect x="488.1" y="378.6" width="162.6" height="156.8" fill="#3b649c" stroke="none" stroke-width="1" />
<rect x="488.1" y="378.6" width="162.6" height="156.8" filter="url(#nz)" opacity="0.2"/>
<g clip-path="url(#imgclip)"><circle cx="514.9" cy="486.8" r="2.9" fill="url(#spf)" opacity="0.61"/><circle cx="523.2" cy="502.9" r="3.3" fill="url(#spf)" opacity="0.63"/><circle cx="570.2" cy="415.6" r="1.8" fill="url(#spf)" opacity="0.55"/><circle cx="583.3" cy="389.5" r="3.2" fill="url(#spf)" opacity="0.48"/><circle cx="525.9" cy="385.2" r="3.6" fill="url(#spf)" opacity="0.76"/><circle cx="630.4" cy="475.2" r="1.9" fill="url(#spf)" opacity="0.53"/><circle cx="569.0" cy="396.8" r="3.5" fill="url(#spf)" opacity="0.55"/><circle cx="513.3" cy="506.8" r="2.0" fill="url(#spf)" opacity="0.86"/><circle cx="561.8" cy="465.2" r="2.4" fill="url(#spf)" opacity="0.62"/><circle cx="518.5" cy="384.4" r="3.4" fill="url(#spf)" opacity="0.48"/><circle cx="615.0" cy="411.3" r="3.5" fill="url(#spf)" opacity="0.84"/><circle cx="610.8" cy="498.2" r="2.8" fill="url(#spf)" opacity="0.75"/><circle cx="508.0" cy="453.3" r="3.3" fill="url(#spf)" opacity="0.46"/><circle cx="638.2" cy="517.8" r="2.5" fill="url(#spf)" opacity="0.55"/><circle cx="561.5" cy="439.1" r="3.6" fill="url(#spf)" opacity="0.56"/><circle cx="492.5" cy="393.2" r="3.1" fill="url(#spf)" opacity="0.90"/><circle cx="568.8" cy="455.7" r="2.8" fill="url(#spf)" opacity="0.76"/><circle cx="524.2" cy="474.1" r="2.8" fill="url(#spf)" opacity="0.69"/><circle cx="517.5" cy="405.3" r="2.4" fill="url(#spf)" opacity="0.86"/><circle cx="544.5" cy="472.2" r="2.4" fill="url(#spf)" opacity="0.41"/><circle cx="498.8" cy="506.2" r="3.2" fill="url(#spf)" opacity="0.56"/><circle cx="599.2" cy="484.6" r="3.4" fill="url(#spf)" opacity="0.88"/><circle cx="554.3" cy="533.7" r="3.5" fill="url(#spf)" opacity="0.67"/><circle cx="631.7" cy="455.6" r="2.5" fill="url(#spf)" opacity="0.49"/><circle cx="630.6" cy="404.0" r="1.9" fill="url(#spf)" opacity="0.79"/><circle cx="613.9" cy="454.4" r="3.3" fill="url(#spf)" opacity="0.38"/><circle cx="530.0" cy="424.1" r="2.6" fill="url(#spf)" opacity="0.44"/><circle cx="499.4" cy="431.6" r="3.4" fill="url(#spf)" opacity="0.89"/><circle cx="609.4" cy="453.7" r="2.3" fill="url(#spf)" opacity="0.88"/><circle cx="573.6" cy="492.8" r="1.9" fill="url(#spf)" opacity="0.47"/><circle cx="624.4" cy="503.3" r="3.4" fill="url(#spf)" opacity="0.68"/><circle cx="557.4" cy="469.7" r="3.3" fill="url(#spf)" opacity="0.52"/><circle cx="575.0" cy="421.9" r="3.2" fill="url(#spf)" opacity="0.36"/><circle cx="599.5" cy="528.2" r="1.8" fill="url(#spf)" opacity="0.68"/><circle cx="592.8" cy="512.1" r="2.9" fill="url(#spf)" opacity="0.49"/><circle cx="554.1" cy="528.9" r="3.4" fill="url(#spf)" opacity="0.42"/><circle cx="503.5" cy="393.3" r="1.8" fill="url(#spf)" opacity="0.60"/><circle cx="511.0" cy="514.6" r="3.0" fill="url(#spf)" opacity="0.42"/><circle cx="575.7" cy="429.4" r="2.7" fill="url(#spf)" opacity="0.47"/><circle cx="515.1" cy="407.4" r="2.5" fill="url(#spf)" opacity="0.74"/><circle cx="577.5" cy="385.8" r="3.1" fill="url(#spf)" opacity="0.83"/><circle cx="614.0" cy="502.6" r="1.8" fill="url(#spf)" opacity="0.61"/><circle cx="498.4" cy="498.4" r="2.1" fill="url(#spf)" opacity="0.74"/><circle cx="529.2" cy="487.8" r="2.4" fill="url(#spf)" opacity="0.37"/><circle cx="551.3" cy="427.1" r="3.4" fill="url(#spf)" opacity="0.51"/><circle cx="569.9" cy="464.7" r="3.5" fill="url(#spf)" opacity="0.40"/><circle cx="585.9" cy="458.3" r="3.1" fill="url(#spf)" opacity="0.88"/><circle cx="538.5" cy="488.3" r="2.7" fill="url(#spf)" opacity="0.66"/><circle cx="498.5" cy="506.3" r="3.6" fill="url(#spf)" opacity="0.55"/><circle cx="539.8" cy="534.3" r="2.0" fill="url(#spf)" opacity="0.39"/><circle cx="500.0" cy="506.3" r="3.2" fill="url(#spf)" opacity="0.60"/><circle cx="589.1" cy="381.7" r="3.0" fill="url(#spf)" opacity="0.59"/><circle cx="572.2" cy="439.7" r="2.5" fill="url(#spf)" opacity="0.47"/><circle cx="496.0" cy="446.6" r="2.2" fill="url(#spf)" opacity="0.74"/><circle cx="621.0" cy="492.1" r="2.6" fill="url(#spf)" opacity="0.48"/><circle cx="550.8" cy="454.9" r="2.9" fill="url(#spf)" opacity="0.88"/><circle cx="502.0" cy="453.8" r="2.7" fill="url(#spf)" opacity="0.74"/><circle cx="632.9" cy="500.8" r="2.9" fill="url(#spf)" opacity="0.77"/><circle cx="596.7" cy="513.3" r="3.1" fill="url(#spf)" opacity="0.73"/><circle cx="528.0" cy="522.3" r="2.5" fill="url(#spf)" opacity="0.69"/><circle cx="622.2" cy="529.7" r="3.6" fill="url(#spf)" opacity="0.35"/><circle cx="538.9" cy="427.5" r="2.5" fill="url(#spf)" opacity="0.43"/><circle cx="578.1" cy="391.1" r="2.3" fill="url(#spf)" opacity="0.87"/><circle cx="608.8" cy="451.1" r="2.0" fill="url(#spf)" opacity="0.88"/><circle cx="602.6" cy="410.9" r="2.4" fill="url(#spf)" opacity="0.70"/><circle cx="598.9" cy="419.5" r="3.5" fill="url(#spf)" opacity="0.53"/><circle cx="529.4" cy="511.2" r="2.1" fill="url(#spf)" opacity="0.72"/><circle cx="520.6" cy="472.4" r="2.3" fill="url(#spf)" opacity="0.56"/><circle cx="641.1" cy="451.8" r="2.6" fill="url(#spf)" opacity="0.69"/><circle cx="533.7" cy="405.9" r="2.5" fill="url(#spf)" opacity="0.50"/><circle cx="518.7" cy="529.3" r="1.9" fill="url(#spf)" opacity="0.80"/><circle cx="640.1" cy="489.1" r="1.8" fill="url(#spf)" opacity="0.63"/><circle cx="494.5" cy="473.9" r="3.1" fill="url(#spf)" opacity="0.48"/><circle cx="489.3" cy="464.0" r="2.0" fill="url(#spf)" opacity="0.52"/><circle cx="561.9" cy="518.9" r="2.5" fill="url(#spf)" opacity="0.42"/><circle cx="616.8" cy="507.5" r="2.8" fill="url(#spf)" opacity="0.38"/><circle cx="518.6" cy="441.8" r="2.8" fill="url(#spf)" opacity="0.47"/><circle cx="618.6" cy="510.9" r="3.5" fill="url(#spf)" opacity="0.84"/><circle cx="491.0" cy="469.9" r="1.9" fill="url(#spf)" opacity="0.84"/><circle cx="609.6" cy="497.7" r="2.1" fill="url(#spf)" opacity="0.38"/><circle cx="620.7" cy="473.7" r="2.9" fill="url(#spf)" opacity="0.61"/><circle cx="618.2" cy="431.6" r="2.3" fill="url(#spf)" opacity="0.54"/><circle cx="536.6" cy="476.9" r="3.4" fill="url(#spf)" opacity="0.39"/><circle cx="499.1" cy="458.8" r="3.0" fill="url(#spf)" opacity="0.45"/><circle cx="532.0" cy="387.8" r="1.9" fill="url(#spf)" opacity="0.62"/><circle cx="598.8" cy="481.0" r="2.1" fill="url(#spf)" opacity="0.41"/><circle cx="639.5" cy="463.0" r="2.5" fill="url(#spf)" opacity="0.73"/><circle cx="606.4" cy="460.9" r="1.9" fill="url(#spf)" opacity="0.81"/><circle cx="522.9" cy="384.9" r="2.4" fill="url(#spf)" opacity="0.64"/><circle cx="590.2" cy="405.9" r="3.1" fill="url(#spf)" opacity="0.62"/><circle cx="514.4" cy="512.0" r="3.3" fill="url(#spf)" opacity="0.85"/><circle cx="598.6" cy="412.7" r="3.2" fill="url(#spf)" opacity="0.85"/><circle cx="574.8" cy="521.0" r="3.5" fill="url(#spf)" opacity="0.56"/><circle cx="641.2" cy="525.5" r="3.2" fill="url(#spf)" opacity="0.36"/><circle cx="545.3" cy="474.8" r="2.9" fill="url(#spf)" opacity="0.77"/><circle cx="593.3" cy="403.9" r="3.5" fill="url(#spf)" opacity="0.64"/><circle cx="631.5" cy="411.0" r="3.6" fill="url(#spf)" opacity="0.66"/><circle cx="614.2" cy="494.6" r="3.4" fill="url(#spf)" opacity="0.55"/><circle cx="501.6" cy="442.2" r="2.1" fill="url(#spf)" opacity="0.65"/><circle cx="620.6" cy="435.4" r="2.0" fill="url(#spf)" opacity="0.36"/><circle cx="556.9" cy="469.6" r="1.8" fill="url(#spf)" opacity="0.72"/><circle cx="522.4" cy="395.4" r="3.5" fill="url(#spf)" opacity="0.64"/><circle cx="633.6" cy="459.2" r="2.0" fill="url(#spf)" opacity="0.48"/><circle cx="557.1" cy="479.1" r="3.2" fill="url(#spf)" opacity="0.76"/><circle cx="593.9" cy="418.3" r="2.6" fill="url(#spf)" opacity="0.56"/><circle cx="567.7" cy="420.2" r="2.8" fill="url(#spf)" opacity="0.60"/><circle cx="493.9" cy="507.6" r="2.9" fill="url(#spf)" opacity="0.79"/><circle cx="607.9" cy="493.2" r="3.6" fill="url(#spf)" opacity="0.56"/><circle cx="552.1" cy="379.2" r="3.0" fill="url(#spf)" opacity="0.67"/><circle cx="581.8" cy="535.0" r="2.2" fill="url(#spf)" opacity="0.47"/><circle cx="607.5" cy="506.0" r="2.7" fill="url(#spf)" opacity="0.38"/><circle cx="548.3" cy="508.2" r="2.7" fill="url(#spf)" opacity="0.60"/><circle cx="551.4" cy="477.1" r="2.9" fill="url(#spf)" opacity="0.73"/><circle cx="628.8" cy="496.4" r="2.5" fill="url(#spf)" opacity="0.49"/><circle cx="615.2" cy="502.9" r="3.5" fill="url(#spf)" opacity="0.46"/><circle cx="625.9" cy="518.2" r="1.9" fill="url(#spf)" opacity="0.52"/><circle cx="591.1" cy="401.5" r="3.3" fill="url(#spf)" opacity="0.50"/><circle cx="599.1" cy="425.0" r="2.2" fill="url(#spf)" opacity="0.46"/><circle cx="569.0" cy="490.4" r="2.2" fill="url(#spf)" opacity="0.73"/><circle cx="542.6" cy="480.4" r="2.5" fill="url(#spf)" opacity="0.46"/><circle cx="511.0" cy="387.7" r="3.1" fill="url(#spf)" opacity="0.58"/><circle cx="508.1" cy="516.7" r="3.0" fill="url(#spf)" opacity="0.36"/><circle cx="605.9" cy="471.8" r="2.6" fill="url(#spf)" opacity="0.63"/><circle cx="644.6" cy="437.2" r="2.9" fill="url(#spf)" opacity="0.70"/><circle cx="547.6" cy="432.9" r="3.2" fill="url(#spf)" opacity="0.70"/><circle cx="562.4" cy="459.2" r="2.2" fill="url(#spf)" opacity="0.78"/><circle cx="491.3" cy="479.5" r="2.6" fill="url(#spf)" opacity="0.47"/><circle cx="583.5" cy="470.0" r="2.0" fill="url(#spf)" opacity="0.62"/><circle cx="514.9" cy="503.9" r="2.4" fill="url(#spf)" opacity="0.53"/><circle cx="523.1" cy="386.1" r="2.1" fill="url(#spf)" opacity="0.43"/><circle cx="589.6" cy="511.5" r="2.2" fill="url(#spf)" opacity="0.41"/><circle cx="575.0" cy="396.7" r="2.5" fill="url(#spf)" opacity="0.77"/><circle cx="521.1" cy="488.3" r="2.8" fill="url(#spf)" opacity="0.40"/><circle cx="527.5" cy="472.6" r="2.0" fill="url(#spf)" opacity="0.46"/><circle cx="581.9" cy="506.9" r="2.7" fill="url(#spf)" opacity="0.71"/><circle cx="489.6" cy="426.0" r="2.4" fill="url(#spf)" opacity="0.85"/><circle cx="546.2" cy="501.7" r="1.9" fill="url(#spf)" opacity="0.62"/><circle cx="633.0" cy="499.5" r="2.8" fill="url(#spf)" opacity="0.45"/><circle cx="638.7" cy="391.1" r="3.5" fill="url(#spf)" opacity="0.78"/><circle cx="605.1" cy="461.8" r="2.1" fill="url(#spf)" opacity="0.54"/><circle cx="596.1" cy="481.5" r="2.5" fill="url(#spf)" opacity="0.79"/><circle cx="496.8" cy="423.6" r="2.0" fill="url(#spf)" opacity="0.53"/><circle cx="617.0" cy="496.7" r="2.1" fill="url(#spf)" opacity="0.52"/><circle cx="506.3" cy="482.4" r="2.6" fill="url(#spf)" opacity="0.48"/><circle cx="548.9" cy="514.3" r="2.6" fill="url(#spf)" opacity="0.73"/><circle cx="590.2" cy="452.9" r="2.8" fill="url(#spf)" opacity="0.55"/><circle cx="520.4" cy="456.1" r="2.3" fill="url(#spf)" opacity="0.53"/><circle cx="518.4" cy="521.8" r="2.6" fill="url(#spf)" opacity="0.46"/><circle cx="493.3" cy="412.2" r="3.4" fill="url(#spf)" opacity="0.54"/><circle cx="596.6" cy="414.7" r="3.0" fill="url(#spf)" opacity="0.60"/><circle cx="607.8" cy="461.5" r="2.5" fill="url(#spf)" opacity="0.50"/><circle cx="584.7" cy="509.0" r="3.0" fill="url(#spf)" opacity="0.61"/><circle cx="541.5" cy="518.4" r="3.3" fill="url(#spf)" opacity="0.43"/><circle cx="598.5" cy="499.7" r="3.0" fill="url(#spf)" opacity="0.88"/><circle cx="631.0" cy="417.2" r="3.6" fill="url(#spf)" opacity="0.53"/><circle cx="549.9" cy="531.7" r="2.1" fill="url(#spf)" opacity="0.57"/><circle cx="589.9" cy="421.4" r="2.3" fill="url(#spf)" opacity="0.79"/><circle cx="587.7" cy="495.2" r="3.2" fill="url(#spf)" opacity="0.83"/><circle cx="633.4" cy="507.7" r="3.6" fill="url(#spf)" opacity="0.62"/><circle cx="602.2" cy="459.2" r="3.5" fill="url(#spf)" opacity="0.71"/><circle cx="558.1" cy="482.7" r="2.3" fill="url(#spf)" opacity="0.42"/><circle cx="550.9" cy="400.1" r="1.8" fill="url(#spf)" opacity="0.40"/><circle cx="562.0" cy="498.3" r="1.9" fill="url(#spf)" opacity="0.70"/><circle cx="506.2" cy="458.6" r="2.3" fill="url(#spf)" opacity="0.60"/><circle cx="603.9" cy="443.4" r="2.5" fill="url(#spf)" opacity="0.75"/><circle cx="506.9" cy="433.3" r="3.1" fill="url(#spf)" opacity="0.81"/><circle cx="647.4" cy="418.9" r="2.9" fill="url(#spf)" opacity="0.52"/><circle cx="602.2" cy="511.3" r="2.0" fill="url(#spf)" opacity="0.54"/><circle cx="640.3" cy="433.9" r="2.9" fill="url(#spf)" opacity="0.80"/><circle cx="533.4" cy="501.4" r="1.8" fill="url(#spf)" opacity="0.54"/><circle cx="515.2" cy="432.8" r="2.2" fill="url(#spf)" opacity="0.36"/><circle cx="618.7" cy="405.8" r="2.8" fill="url(#spf)" opacity="0.65"/><circle cx="626.2" cy="511.4" r="2.9" fill="url(#spf)" opacity="0.44"/><circle cx="611.8" cy="393.9" r="3.5" fill="url(#spf)" opacity="0.52"/><circle cx="529.2" cy="412.6" r="2.5" fill="url(#spf)" opacity="0.79"/><circle cx="627.1" cy="495.6" r="3.1" fill="url(#spf)" opacity="0.48"/><circle cx="540.3" cy="426.3" r="2.6" fill="url(#spf)" opacity="0.83"/><circle cx="650.0" cy="391.7" r="3.5" fill="url(#spf)" opacity="0.86"/><circle cx="563.0" cy="487.2" r="3.2" fill="url(#spf)" opacity="0.45"/><circle cx="588.2" cy="532.5" r="3.4" fill="url(#spf)" opacity="0.85"/><circle cx="501.9" cy="490.7" r="2.7" fill="url(#spf)" opacity="0.85"/><circle cx="515.2" cy="464.7" r="2.0" fill="url(#spf)" opacity="0.79"/><circle cx="605.6" cy="383.5" r="2.4" fill="url(#spf)" opacity="0.43"/><circle cx="591.4" cy="477.4" r="1.9" fill="url(#spf)" opacity="0.87"/><circle cx="645.1" cy="447.7" r="2.8" fill="url(#spf)" opacity="0.55"/><circle cx="586.7" cy="441.1" r="2.6" fill="url(#spf)" opacity="0.76"/><circle cx="518.4" cy="425.4" r="3.2" fill="url(#spf)" opacity="0.47"/><circle cx="499.3" cy="521.5" r="2.1" fill="url(#spf)" opacity="0.58"/><circle cx="539.1" cy="419.6" r="2.4" fill="url(#spf)" opacity="0.65"/><circle cx="507.0" cy="462.2" r="1.9" fill="url(#spf)" opacity="0.39"/><circle cx="521.0" cy="416.3" r="2.4" fill="url(#spf)" opacity="0.51"/><circle cx="624.2" cy="481.8" r="2.7" fill="url(#spf)" opacity="0.77"/><circle cx="599.6" cy="428.1" r="2.9" fill="url(#spf)" opacity="0.76"/><circle cx="575.0" cy="496.6" r="2.9" fill="url(#spf)" opacity="0.86"/><circle cx="531.0" cy="483.9" r="3.6" fill="url(#spf)" opacity="0.64"/><circle cx="635.3" cy="393.4" r="3.1" fill="url(#spf)" opacity="0.50"/><circle cx="610.1" cy="445.0" r="2.8" fill="url(#spf)" opacity="0.49"/><circle cx="529.9" cy="514.3" r="3.0" fill="url(#spf)" opacity="0.70"/><circle cx="506.9" cy="424.6" r="3.5" fill="url(#spf)" opacity="0.46"/><circle cx="575.5" cy="487.8" r="2.7" fill="url(#spf)" opacity="0.65"/><circle cx="645.9" cy="501.1" r="2.2" fill="url(#spf)" opacity="0.59"/><circle cx="556.3" cy="485.8" r="3.0" fill="url(#spf)" opacity="0.49"/><circle cx="600.7" cy="446.2" r="1.8" fill="url(#spf)" opacity="0.51"/><circle cx="549.4" cy="409.5" r="3.0" fill="url(#spf)" opacity="0.90"/><circle cx="639.6" cy="477.3" r="3.3" fill="url(#spf)" opacity="0.62"/><circle cx="583.5" cy="518.7" r="1.9" fill="url(#spf)" opacity="0.55"/><circle cx="548.9" cy="432.1" r="2.6" fill="url(#spf)" opacity="0.38"/><circle cx="598.5" cy="528.6" r="2.2" fill="url(#spf)" opacity="0.45"/><circle cx="542.5" cy="503.5" r="2.2" fill="url(#spf)" opacity="0.77"/><circle cx="516.2" cy="471.9" r="3.1" fill="url(#spf)" opacity="0.72"/><circle cx="501.8" cy="528.6" r="3.3" fill="url(#spf)" opacity="0.61"/><circle cx="627.8" cy="472.8" r="2.1" fill="url(#spf)" opacity="0.57"/><circle cx="621.6" cy="451.3" r="1.9" fill="url(#spf)" opacity="0.44"/><circle cx="518.4" cy="470.5" r="3.0" fill="url(#spf)" opacity="0.60"/><circle cx="553.7" cy="529.6" r="2.4" fill="url(#spf)" opacity="0.72"/><circle cx="521.4" cy="459.2" r="2.1" fill="url(#spf)" opacity="0.41"/><circle cx="542.9" cy="396.6" r="2.5" fill="url(#spf)" opacity="0.71"/><circle cx="577.4" cy="503.4" r="2.7" fill="url(#spf)" opacity="0.40"/><circle cx="606.4" cy="441.6" r="3.2" fill="url(#spf)" opacity="0.89"/><circle cx="573.3" cy="417.9" r="2.4" fill="url(#spf)" opacity="0.62"/><circle cx="540.0" cy="394.5" r="2.5" fill="url(#spf)" opacity="0.71"/><circle cx="620.8" cy="498.0" r="3.4" fill="url(#spf)" opacity="0.79"/><circle cx="555.0" cy="479.6" r="1.9" fill="url(#spf)" opacity="0.79"/><circle cx="603.2" cy="420.2" r="2.7" fill="url(#spf)" opacity="0.50"/><circle cx="617.4" cy="445.5" r="3.2" fill="url(#spf)" opacity="0.86"/><circle cx="614.5" cy="438.2" r="2.4" fill="url(#spf)" opacity="0.87"/><circle cx="635.2" cy="408.3" r="2.5" fill="url(#spf)" opacity="0.78"/><circle cx="611.1" cy="423.0" r="2.6" fill="url(#spf)" opacity="0.88"/><circle cx="502.8" cy="421.6" r="3.0" fill="url(#spf)" opacity="0.85"/><circle cx="642.1" cy="452.2" r="3.2" fill="url(#spf)" opacity="0.88"/><circle cx="614" cy="381" r="5.4" fill="url(#sp1)"/><circle cx="608.7" cy="406.8" r="5.4" fill="url(#sp3)"/><circle cx="516.8" cy="411.5" r="4.8" fill="url(#sp1)"/><circle cx="535.2" cy="415.2" r="4.8" fill="url(#sp1)"/><circle cx="551.5" cy="414.1" r="4.8" fill="url(#sp2)"/><circle cx="564.6" cy="422" r="4.2" fill="url(#sp1)"/><circle cx="561.5" cy="425.2" r="4.8" fill="url(#sp2)"/><circle cx="568.8" cy="430" r="5.0" fill="url(#sp3)"/><circle cx="577.7" cy="430.4" r="4.8" fill="url(#sp2)"/><circle cx="543" cy="428.3" r="4.6" fill="url(#sp1)"/><circle cx="530" cy="443" r="5.4" fill="url(#sp1)"/><circle cx="540.4" cy="447.5" r="5.4" fill="url(#sp1)"/><circle cx="587.7" cy="443.6" r="4.8" fill="url(#sp1)"/><circle cx="591.7" cy="446.7" r="4.8" fill="url(#sp1)"/><circle cx="597" cy="455.4" r="5.0" fill="url(#sp1)"/><circle cx="607.4" cy="431.7" r="4.8" fill="url(#sp1)"/><circle cx="646" cy="431" r="5.4" fill="url(#sp3)"/><circle cx="635" cy="417.3" r="4.8" fill="url(#sp2)"/><circle cx="637.6" cy="409.4" r="4.2" fill="url(#sp2)"/><circle cx="498.4" cy="404.2" r="5.4" fill="url(#sp2)"/><circle cx="587.7" cy="399.4" r="4.6" fill="url(#sp2)"/><circle cx="561" cy="397.6" r="4.6" fill="url(#sp2)"/><circle cx="577.2" cy="401.5" r="4.2" fill="url(#sp2)"/><circle cx="629.8" cy="431" r="4.2" fill="url(#sp2)"/><circle cx="556.2" cy="435.7" r="4.2" fill="url(#sp2)"/><circle cx="547" cy="437" r="4.2" fill="url(#sp2)"/><circle cx="580" cy="455.4" r="4.2" fill="url(#sp2)"/><circle cx="616.6" cy="455.4" r="4.2" fill="url(#sp2)"/><circle cx="611.4" cy="467.3" r="6.0" fill="url(#sp3)"/><circle cx="628.4" cy="461.8" r="5.4" fill="url(#sp1)"/><circle cx="644.2" cy="475.7" r="4.8" fill="url(#sp1)"/><circle cx="554.1" cy="468.9" r="5.0" fill="url(#sp1)"/><circle cx="579.8" cy="455.8" r="4.2" fill="url(#sp2)"/><circle cx="513.6" cy="476.3" r="4.6" fill="url(#sp2)"/><circle cx="543" cy="486.3" r="4.8" fill="url(#sp1)"/><circle cx="561" cy="487.3" r="4.8" fill="url(#sp1)"/><circle cx="568" cy="490.7" r="4.8" fill="url(#sp1)"/><circle cx="492.6" cy="493.4" r="5.0" fill="url(#sp1)"/><circle cx="500.5" cy="503.9" r="5.0" fill="url(#sp1)"/><circle cx="539.1" cy="502.5" r="5.4" fill="url(#sp3)"/><circle cx="566.7" cy="500" r="4.2" fill="url(#sp2)"/><circle cx="594.3" cy="488.1" r="4.2" fill="url(#sp2)"/><circle cx="562.8" cy="512.5" r="5.0" fill="url(#sp1)"/><circle cx="578.5" cy="517" r="4.8" fill="url(#sp1)"/><circle cx="572" cy="517.8" r="4.2" fill="url(#sp2)"/><circle cx="543" cy="533" r="5.0" fill="url(#sp3)"/><circle cx="603.5" cy="519.6" r="4.6" fill="url(#sp2)"/><circle cx="637.6" cy="519.6" r="4.6" fill="url(#sp2)"/><circle cx="586.4" cy="521" r="4.2" fill="url(#sp2)"/><circle cx="530" cy="519.6" r="4.2" fill="url(#sp2)"/><circle cx="505" cy="430" r="4.2" fill="url(#sp2)"/><circle cx="520" cy="470" r="4.2" fill="url(#sp2)"/><circle cx="590" cy="478" r="4.2" fill="url(#sp2)"/><circle cx="625" cy="500" r="4.2" fill="url(#sp2)"/></g>
<circle cx="611.5" cy="467.8" r="9.3" fill="none" stroke="#c4120c" stroke-width="2.7"/>
<rect x="488.1" y="378.6" width="162.6" height="156.8" fill="none" stroke="#3a4a66" stroke-width="0.8" />
<line x1="529.4" y1="535.4" x2="529.4" y2="532.4" stroke="#333" stroke-width="1" />
<line x1="570.6" y1="535.4" x2="570.6" y2="532.4" stroke="#333" stroke-width="1" />
<line x1="611.4" y1="535.4" x2="611.4" y2="532.4" stroke="#333" stroke-width="1" />
<line x1="650.7" y1="417.8" x2="647.7" y2="417.8" stroke="#333" stroke-width="1" />
<line x1="650.7" y1="457" x2="647.7" y2="457" stroke="#333" stroke-width="1" />
<line x1="650.7" y1="496.1" x2="647.7" y2="496.1" stroke="#333" stroke-width="1" />
<text x="488.9" y="547.3" font-size="9.4" fill="#231f20" text-anchor="middle" >40</text>
<text x="529.6" y="547.3" font-size="9.4" fill="#231f20" text-anchor="middle" >45</text>
<text x="570.6" y="547.3" font-size="9.4" fill="#231f20" text-anchor="middle" >50</text>
<text x="611.4" y="547.3" font-size="9.4" fill="#231f20" text-anchor="middle" >55</text>
<text x="650.3" y="547.3" font-size="9.4" fill="#231f20" text-anchor="middle" >60</text>
<text x="655.5" y="384.5" font-size="9.4" fill="#231f20" >60</text>
<text x="655.5" y="422.1" font-size="9.4" fill="#231f20" >55</text>
<text x="655.5" y="460.5" font-size="9.4" fill="#231f20" >50</text>
<text x="655.5" y="499" font-size="9.4" fill="#231f20" >45</text>
<text x="655.5" y="534.8" font-size="9.4" fill="#231f20" >40</text>
<text transform="translate(677.6,457) rotate(90)" font-size="10" fill="#231f20" text-anchor="middle" textLength="74.3" lengthAdjust="spacingAndGlyphs"><tspan font-style="italic">y</tspan> position (μm)</text>
<rect x="469.3" y="382.1" width="11" height="149.4" fill="url(#gCB)" stroke="#333" stroke-width="0.8" />
<line x1="469.3" y1="419.3" x2="471.3" y2="419.3" stroke="#333" stroke-width="0.9" />
<line x1="469.3" y1="456.7" x2="471.3" y2="456.7" stroke="#333" stroke-width="0.9" />
<line x1="469.3" y1="494" x2="471.3" y2="494" stroke="#333" stroke-width="0.9" />
<text x="464.4" y="389.3" font-size="9.4" fill="#231f20" text-anchor="end" >200</text>
<text x="464.4" y="422.2" font-size="9.4" fill="#231f20" text-anchor="end" >150</text>
<text x="464.4" y="459.6" font-size="9.4" fill="#231f20" text-anchor="end" >100</text>
<text x="464.4" y="496.9" font-size="9.4" fill="#231f20" text-anchor="end" >50</text>
<text x="464.4" y="529.4" font-size="9.4" fill="#231f20" text-anchor="end" >0</text>
<text transform="translate(440.6,457) rotate(-90)" font-size="10" fill="#231f20" text-anchor="middle" textLength="69.8" lengthAdjust="spacingAndGlyphs">Intensity (a.u.)</text>
<text x="0" y="383.6" font-size="15.3" fill="#000" font-weight="bold" stroke="#000" stroke-width="0.5">g</text>
<path d="M56.6,401.03 L58.43,399.98 L60.26,404.41 L62.08,423.77 L63.91,439.39 L65.74,432.54 L67.57,432.74 L69.4,431.65 L71.22,461.03 L73.05,466.44 L74.88,449.6 L76.71,455.91 L78.54,448.31 L80.36,457.39 L82.19,471.81 L84.02,476.38 L85.85,448.94 L87.68,481.39 L89.5,488.76 L91.33,494.44 L93.16,483.24 L94.99,484.37 L96.82,491.06 L98.64,489.47 L100.47,487.22 L102.3,483.98 L104.13,480.8 L105.96,491.14 L107.78,513.12 L109.61,487.71 L111.44,510.83 L113.27,498.38 L115.1,512.75 L116.92,497.8 L118.75,506.57 L120.58,496.62 L122.41,464.56 L124.24,500.27 L126.06,491.27 L127.89,514.44 L129.72,503.87 L131.55,494.15 L133.38,502.39 L135.2,497.76 L137.03,500.81 L138.86,512.71 L140.69,496.37 L142.52,511.04 L144.34,482.94 L146.17,508.13 L148,495.72" stroke="#d6d6d6" stroke-width="1.3" fill="none" stroke-linejoin="round"/>
<path d="M56.6,393.29 L57.36,397.17 L58.12,400.91 L58.89,404.52 L59.65,408 L60.41,411.37 L61.17,414.61 L61.93,417.75 L62.69,420.77 L63.45,423.69 L64.22,426.5 L64.98,429.22 L65.74,431.85 L66.5,434.38 L67.26,436.82 L68.03,439.18 L68.79,441.46 L69.55,443.65 L70.31,445.77 L71.07,447.82 L71.83,449.8 L72.59,451.7 L73.36,453.54 L74.12,455.32 L74.88,457.04 L75.64,458.69 L76.4,460.29 L77.17,461.83 L77.93,463.32 L78.69,464.75 L79.45,466.14 L80.21,467.47 L80.97,468.77 L81.73,470.01 L82.5,471.21 L83.26,472.37 L84.02,473.49 L84.78,474.58 L85.54,475.62 L86.31,476.63 L87.07,477.6 L87.83,478.54 L88.59,479.44 L89.35,480.32 L90.11,481.16 L90.88,481.97 L91.64,482.76 L92.4,483.52 L93.16,484.25 L93.92,484.96 L94.68,485.64 L95.44,486.3 L96.21,486.93 L96.97,487.54 L97.73,488.14 L98.49,488.71 L99.25,489.26 L100.02,489.79 L100.78,490.3 L101.54,490.8 L102.3,491.28 L103.06,491.74 L103.82,492.18 L104.59,492.61 L105.35,493.03 L106.11,493.43 L106.87,493.82 L107.63,494.19 L108.39,494.55 L109.16,494.9 L109.92,495.23 L110.68,495.56 L111.44,495.87 L112.2,496.17 L112.96,496.46 L113.72,496.74 L114.49,497.01 L115.25,497.28 L116.01,497.53 L116.77,497.77 L117.53,498.01 L118.3,498.23 L119.06,498.45 L119.82,498.67 L120.58,498.87 L121.34,499.07 L122.1,499.26 L122.87,499.44 L123.63,499.62 L124.39,499.79 L125.15,499.95 L125.91,500.11 L126.67,500.27 L127.44,500.42 L128.2,500.56 L128.96,500.7 L129.72,500.83 L130.48,500.96 L131.24,501.08 L132,501.2 L132.77,501.32 L133.53,501.43 L134.29,501.54 L135.05,501.64 L135.81,501.74 L136.58,501.84 L137.34,501.93 L138.1,502.02 L138.86,502.11 L139.62,502.2 L140.38,502.28 L141.15,502.36 L141.91,502.43 L142.67,502.5 L143.43,502.57 L144.19,502.64 L144.95,502.71 L145.72,502.77 L146.48,502.83 L147.24,502.89 L148,502.95" stroke="#777777" stroke-width="3.0" fill="none" stroke-linecap="butt" stroke-linejoin="round"/>
<rect x="45.5" y="379.6" width="114.6" height="154.8" fill="none" stroke="#606060" stroke-width="1.1" />
<line x1="45.5" y1="390.3" x2="49.9" y2="390.3" stroke="#555" stroke-width="1" />
<line x1="45.5" y1="434.66" x2="49.9" y2="434.66" stroke="#555" stroke-width="1" />
<line x1="45.5" y1="479.02" x2="49.9" y2="479.02" stroke="#555" stroke-width="1" />
<line x1="45.5" y1="523.38" x2="49.9" y2="523.38" stroke="#555" stroke-width="1" />
<line x1="56.6" y1="534.4" x2="56.6" y2="530.2" stroke="#555" stroke-width="1" />
<text x="56.6" y="546.3" font-size="9.4" fill="#231f20" text-anchor="middle" >0</text>
<line x1="102.3" y1="534.4" x2="102.3" y2="530.2" stroke="#555" stroke-width="1" />
<text x="102.3" y="546.3" font-size="9.4" fill="#231f20" text-anchor="middle" >10</text>
<line x1="148" y1="534.4" x2="148" y2="530.2" stroke="#555" stroke-width="1" />
<text x="148" y="546.3" font-size="9.4" fill="#231f20" text-anchor="middle" >20</text>
<path d="M175.2,403.48 L176.66,401.13 L178.11,415.28 L179.57,403.83 L181.03,419.76 L182.48,407.71 L183.94,417.98 L185.4,426.39 L186.85,439.53 L188.31,425.15 L189.76,431.15 L191.22,420.69 L192.68,445.53 L194.13,437.54 L195.59,440.3 L197.05,444.94 L198.5,447.82 L199.96,450.07 L201.42,460.61 L202.87,467.02 L204.33,461.89 L205.79,452.58 L207.24,443.95 L208.7,451.38 L210.15,451.98 L211.61,456.42 L213.07,458.62 L214.52,465.6 L215.98,460.29 L217.44,450.33 L218.89,474.74 L220.35,479.86 L221.81,451.45 L223.26,471.44 L224.72,464.32 L226.18,466.28 L227.63,489.42 L229.09,450.65 L230.54,458.72 L232,477.2 L233.46,471.53 L234.91,479.15 L236.37,491.02 L237.83,483.08 L239.28,478.29 L240.74,470.63 L242.2,475.69 L243.65,483.42 L245.11,469.56 L246.57,493.5 L248.02,476.73 L249.48,473.63 L250.93,489.62 L252.39,506.64 L253.85,497.22 L255.3,484.91 L256.76,482.04 L258.22,471.06 L259.67,499.69 L261.13,488.84 L262.59,481.96 L264.04,491.19 L265.5,515.99 L266.96,481.03 L268.41,464.58 L269.87,479.32 L271.32,500.86" stroke="#b4cdea" stroke-width="1.3" fill="none" stroke-linejoin="round"/>
<path d="M175.2,403.5 L176,405.7 L176.8,407.86 L177.6,409.96 L178.4,412.01 L179.21,414.01 L180.01,415.97 L180.81,417.88 L181.61,419.74 L182.41,421.56 L183.21,423.33 L184.01,425.06 L184.81,426.75 L185.61,428.4 L186.41,430.01 L187.22,431.59 L188.02,433.12 L188.82,434.62 L189.62,436.08 L190.42,437.51 L191.22,438.9 L192.02,440.26 L192.82,441.59 L193.62,442.88 L194.42,444.14 L195.23,445.38 L196.03,446.58 L196.83,447.76 L197.63,448.91 L198.43,450.03 L199.23,451.12 L200.03,452.19 L200.83,453.23 L201.63,454.25 L202.44,455.24 L203.24,456.21 L204.04,457.15 L204.84,458.07 L205.64,458.98 L206.44,459.85 L207.24,460.71 L208.04,461.55 L208.84,462.37 L209.64,463.17 L210.45,463.95 L211.25,464.71 L212.05,465.45 L212.85,466.17 L213.65,466.88 L214.45,467.57 L215.25,468.24 L216.05,468.9 L216.85,469.54 L217.66,470.17 L218.46,470.78 L219.26,471.38 L220.06,471.96 L220.86,472.53 L221.66,473.08 L222.46,473.63 L223.26,474.15 L224.06,474.67 L224.86,475.17 L225.67,475.67 L226.47,476.15 L227.27,476.61 L228.07,477.07 L228.87,477.52 L229.67,477.95 L230.47,478.38 L231.27,478.79 L232.07,479.2 L232.88,479.59 L233.68,479.98 L234.48,480.36 L235.28,480.73 L236.08,481.08 L236.88,481.43 L237.68,481.78 L238.48,482.11 L239.28,482.44 L240.08,482.75 L240.89,483.06 L241.69,483.37 L242.49,483.66 L243.29,483.95 L244.09,484.23 L244.89,484.51 L245.69,484.78 L246.49,485.04 L247.29,485.3 L248.09,485.55 L248.9,485.79 L249.7,486.03 L250.5,486.26 L251.3,486.49 L252.1,486.71 L252.9,486.92 L253.7,487.13 L254.5,487.34 L255.3,487.54 L256.11,487.74 L256.91,487.93 L257.71,488.11 L258.51,488.3 L259.31,488.47 L260.11,488.65 L260.91,488.82 L261.71,488.98 L262.51,489.14 L263.31,489.3 L264.12,489.46 L264.92,489.61 L265.72,489.75 L266.52,489.9 L267.32,490.03 L268.12,490.17 L268.92,490.3 L269.72,490.43 L270.52,490.56 L271.32,490.68" stroke="#2d5f9b" stroke-width="3.0" fill="none" stroke-linecap="butt" stroke-linejoin="round"/>
<rect x="165.7" y="379.6" width="114.7" height="154.8" fill="none" stroke="#606060" stroke-width="1.1" />
<line x1="165.7" y1="390.3" x2="170.1" y2="390.3" stroke="#555" stroke-width="1" />
<line x1="165.7" y1="434.66" x2="170.1" y2="434.66" stroke="#555" stroke-width="1" />
<line x1="165.7" y1="479.02" x2="170.1" y2="479.02" stroke="#555" stroke-width="1" />
<line x1="165.7" y1="523.38" x2="170.1" y2="523.38" stroke="#555" stroke-width="1" />
<line x1="175.2" y1="534.4" x2="175.2" y2="530.2" stroke="#555" stroke-width="1" />
<text x="175.2" y="546.3" font-size="9.4" fill="#231f20" text-anchor="middle" >0</text>
<line x1="213.65" y1="534.4" x2="213.65" y2="530.2" stroke="#555" stroke-width="1" />
<text x="213.65" y="546.3" font-size="9.4" fill="#231f20" text-anchor="middle" >100</text>
<line x1="252.1" y1="534.4" x2="252.1" y2="530.2" stroke="#555" stroke-width="1" />
<text x="252.1" y="546.3" font-size="9.4" fill="#231f20" text-anchor="middle" >200</text>
<path d="M295.6,397.69 L297.18,406.45 L298.75,409.23 L300.33,422.19 L301.91,432.42 L303.49,432.15 L305.06,446.55 L306.64,442.44 L308.22,460.16 L309.79,463.62 L311.37,461.69 L312.95,461.81 L314.53,468.92 L316.1,473.61 L317.68,486.83 L319.26,483.66 L320.83,485.27 L322.41,486.79 L323.99,482.91 L325.56,489.04 L327.14,484.81 L328.72,489.57 L330.3,492.75 L331.87,491.5 L333.45,490.85 L335.03,489.51 L336.6,496.9 L338.18,496.32 L339.76,502.55 L341.34,488.26 L342.91,489.49 L344.49,498.05 L346.07,499.92 L347.64,504.04 L349.22,497.33 L350.8,497.43 L352.38,487.81 L353.95,497.69 L355.53,503 L357.11,511.5 L358.68,492.43 L360.26,498.66 L361.84,507.76 L363.41,498.95 L364.99,507.98 L366.57,482.68 L368.15,494.55 L369.72,497.35 L371.3,501.15 L372.88,511.01 L374.45,501.02 L376.03,508.19 L377.61,497.51 L379.19,511.19 L380.76,505.09 L382.34,494.5 L383.92,492.41 L385.49,506.54 L387.07,508.32 L388.65,496.3 L390.23,496.45" stroke="#f8c4c4" stroke-width="1.3" fill="none" stroke-linejoin="round"/>
<path d="M295.6,396.45 L296.39,401.93 L297.18,407.11 L297.97,412.03 L298.75,416.68 L299.54,421.09 L300.33,425.28 L301.12,429.24 L301.91,432.99 L302.7,436.55 L303.49,439.92 L304.27,443.11 L305.06,446.14 L305.85,449.01 L306.64,451.73 L307.43,454.3 L308.22,456.74 L309.01,459.06 L309.79,461.25 L310.58,463.32 L311.37,465.29 L312.16,467.16 L312.95,468.92 L313.74,470.6 L314.53,472.18 L315.31,473.69 L316.1,475.11 L316.89,476.46 L317.68,477.74 L318.47,478.95 L319.26,480.1 L320.04,481.19 L320.83,482.22 L321.62,483.2 L322.41,484.12 L323.2,485 L323.99,485.83 L324.78,486.62 L325.56,487.37 L326.35,488.07 L327.14,488.75 L327.93,489.38 L328.72,489.98 L329.51,490.55 L330.3,491.09 L331.08,491.61 L331.87,492.09 L332.66,492.55 L333.45,492.99 L334.24,493.4 L335.03,493.79 L335.82,494.16 L336.6,494.51 L337.39,494.85 L338.18,495.16 L338.97,495.46 L339.76,495.74 L340.55,496.01 L341.34,496.27 L342.12,496.51 L342.91,496.74 L343.7,496.95 L344.49,497.16 L345.28,497.35 L346.07,497.54 L346.86,497.71 L347.64,497.88 L348.43,498.03 L349.22,498.18 L350.01,498.32 L350.8,498.46 L351.59,498.58 L352.38,498.7 L353.16,498.82 L353.95,498.92 L354.74,499.03 L355.53,499.12 L356.32,499.21 L357.11,499.3 L357.89,499.38 L358.68,499.46 L359.47,499.53 L360.26,499.6 L361.05,499.67 L361.84,499.73 L362.63,499.79 L363.41,499.85 L364.2,499.9 L364.99,499.95 L365.78,500 L366.57,500.05 L367.36,500.09 L368.15,500.13 L368.93,500.17 L369.72,500.2 L370.51,500.24 L371.3,500.27 L372.09,500.3 L372.88,500.33 L373.67,500.36 L374.45,500.39 L375.24,500.41 L376.03,500.44 L376.82,500.46 L377.61,500.48 L378.4,500.5 L379.19,500.52 L379.97,500.54 L380.76,500.56 L381.55,500.57 L382.34,500.59 L383.13,500.6 L383.92,500.62 L384.71,500.63 L385.49,500.64 L386.28,500.65 L387.07,500.66 L387.86,500.68 L388.65,500.69 L389.44,500.69 L390.23,500.7" stroke="#cc2b2b" stroke-width="3.0" fill="none" stroke-linecap="butt" stroke-linejoin="round"/>
<rect x="285.5" y="379.6" width="115.1" height="154.8" fill="none" stroke="#606060" stroke-width="1.1" />
<line x1="285.5" y1="390.3" x2="289.9" y2="390.3" stroke="#555" stroke-width="1" />
<line x1="285.5" y1="434.66" x2="289.9" y2="434.66" stroke="#555" stroke-width="1" />
<line x1="285.5" y1="479.02" x2="289.9" y2="479.02" stroke="#555" stroke-width="1" />
<line x1="285.5" y1="523.38" x2="289.9" y2="523.38" stroke="#555" stroke-width="1" />
<line x1="295.6" y1="534.4" x2="295.6" y2="530.2" stroke="#555" stroke-width="1" />
<text x="295.6" y="546.3" font-size="9.4" fill="#231f20" text-anchor="middle" >0</text>
<line x1="333.45" y1="534.4" x2="333.45" y2="530.2" stroke="#555" stroke-width="1" />
<text x="333.45" y="546.3" font-size="9.4" fill="#231f20" text-anchor="middle" >20</text>
<line x1="371.3" y1="534.4" x2="371.3" y2="530.2" stroke="#555" stroke-width="1" />
<text x="371.3" y="546.3" font-size="9.4" fill="#231f20" text-anchor="middle" >40</text>
<text x="41.4" y="393.2" font-size="9.4" fill="#231f20" text-anchor="end" >1.0</text>
<text x="41.4" y="437.56" font-size="9.4" fill="#231f20" text-anchor="end" >0.6</text>
<text x="41.4" y="481.92" font-size="9.4" fill="#231f20" text-anchor="end" >0.2</text>
<text x="41.4" y="526.28" font-size="9.4" fill="#231f20" text-anchor="end" >−0.2</text>
<text transform="translate(12.6,456.5) rotate(-90)" font-size="10" fill="#231f20" text-anchor="middle" textLength="69.5" lengthAdjust="spacingAndGlyphs">Intensity (a.u.)</text>
<text x="196" y="562.8" font-size="10" fill="#231f20" textLength="55.4" lengthAdjust="spacingAndGlyphs" >Time, <tspan font-style="italic">τ</tspan> (μs)</text>
<text x="146.6" y="398.3" font-size="10" fill="#666" text-anchor="end" textLength="27.5" lengthAdjust="spacingAndGlyphs">−SiO<tspan font-size="7" dy="2.4">2</tspan><tspan dy="-2.4">:</tspan></text>
<text x="146.6" y="410.2" font-size="10" fill="#666" text-anchor="end" textLength="53.2" lengthAdjust="spacingAndGlyphs"><tspan font-style="italic">T</tspan><tspan font-size="7" dy="2.4">1</tspan><tspan dy="-2.4"> = 3.91 μs</tspan></text>
<text x="272.4" y="398.3" font-size="10" fill="#2d5f9b" text-anchor="end" textLength="54.5" lengthAdjust="spacingAndGlyphs">−alkene(H):</text>
<text x="272.4" y="410.2" font-size="10" fill="#2d5f9b" text-anchor="end" textLength="60.5" lengthAdjust="spacingAndGlyphs"><tspan font-style="italic">T</tspan><tspan font-size="7" dy="2.4">1</tspan><tspan dy="-2.4"> = 86.05 μs</tspan></text>
<text x="391.1" y="398.3" font-size="10" fill="#d4424a" text-anchor="end" textLength="70.5" lengthAdjust="spacingAndGlyphs">−alkene(H)-Gd:</text>
<text x="391.1" y="410.2" font-size="10" fill="#d4424a" text-anchor="end" textLength="53.5" lengthAdjust="spacingAndGlyphs"><tspan font-style="italic">T</tspan><tspan font-size="7" dy="2.4">1</tspan><tspan dy="-2.4"> = 7.74 μs</tspan></text>
<text x="0.2" y="594.2" font-size="15.3" fill="#000" font-weight="bold" stroke="#000" stroke-width="0.5">h</text>
<path d="M62,665.7 L63.5,693.09 L65,707.54 L66.5,690.79 L68,669.7 L69.5,628.49 L71,612 L72.5,622.11 L74,654.06 L75.5,678.91 L77,691.46 L78.5,678.32 L80,658.72 L81.5,640.42 L83,635.24 L84.5,643.16 L86,652.36 L87.5,672.19 L89,669.92 L90.5,671.83 L92,662.83 L93.5,653.82 L95,657.49 L96.5,658.12 L98,660.7 L99.5,652.44 L101,652.79 L102.5,654.17 L104,665.28 L105.5,668.49 L107,668.91 L108.5,654.93 L110,642.93 L111.5,647.33 L113,645.78 L114.5,653.53 L116,668.04 L117.5,671.91 L119,671.21 L120.5,668.1 L122,655.9 L123.5,632.49 L125,637.56 L126.5,646.92 L128,658.43 L129.5,679.86 L131,674.13 L132.5,670.04 L134,644.29 L135.5,633.88 L137,644.39 L138.5,649.25 L140,658.37 L141.5,669.3 L143,680.26 L144.5,668.1 L146,656.02 L147.5,646.69 L149,640.94 L150.5,648.32 L152,664.42 L153.5,665.94 L155,667.78 L156.5,659.92 L158,651.77 L159.5,654.6 L161,652.45 L162.5,655.95 L164,660.65 L165.5,657.18 L167,660.2 L168.5,658.62 L170,653.19 L171.5,659.77 L173,653.97 L174.5,652.96 L176,656.68 L177.5,660.26 L179,654.81 L180.5,662.83 L182,663.39 L183.5,657.01 L185,652.09 L186.5,658.36 L188,654.53 L189.5,659.69 L191,653.03 L192.5,660.81 L194,663.92 L195.5,656.32 L197,659.98 L198.5,661.51 L200,654.89 L201.5,649.42 L203,657.32 L204.5,653.26" stroke="#b6cfec" stroke-width="1.4" fill="none" stroke-linejoin="round"/>
<path d="M62,669 L62.31,675.21 L62.62,681.27 L62.93,687.02 L63.24,692.34 L63.55,697.07 L63.86,701.12 L64.17,704.37 L64.48,706.76 L64.79,708.21 L65.1,708.7 L65.41,708.11 L65.72,706.37 L66.03,703.51 L66.34,699.61 L66.65,694.76 L66.96,689.08 L67.27,682.71 L67.58,675.81 L67.89,668.55 L68.2,661.1 L68.51,653.65 L68.82,646.39 L69.13,639.49 L69.44,633.12 L69.75,627.44 L70.06,622.59 L70.37,618.69 L70.68,615.83 L70.99,614.09 L71.3,613.5 L71.6,614.03 L71.9,615.61 L72.2,618.19 L72.5,621.7 L72.8,626.05 L73.1,631.12 L73.4,636.77 L73.7,642.85 L74,649.19 L74.3,655.61 L74.6,661.95 L74.9,668.03 L75.2,673.68 L75.5,678.75 L75.8,683.1 L76.1,686.61 L76.4,689.19 L76.7,690.77 L77,691.3 L77.31,690.91 L77.61,689.76 L77.92,687.88 L78.22,685.32 L78.53,682.15 L78.83,678.46 L79.14,674.34 L79.44,669.91 L79.75,665.29 L80.05,660.61 L80.36,655.99 L80.66,651.56 L80.97,647.44 L81.27,643.75 L81.58,640.58 L81.88,638.02 L82.19,636.14 L82.49,634.99 L82.8,634.6 L83.11,634.83 L83.41,635.51 L83.72,636.62 L84.02,638.14 L84.33,640.02 L84.63,642.21 L84.94,644.65 L85.24,647.28 L85.55,650.01 L85.85,652.79 L86.16,655.52 L86.46,658.15 L86.77,660.59 L87.07,662.78 L87.38,664.66 L87.68,666.18 L87.99,667.29 L88.29,667.97 L88.6,668.2 L88.91,668.12 L89.21,667.89 L89.52,667.51 L89.82,667 L90.13,666.36 L90.43,665.62 L90.74,664.79 L91.04,663.9 L91.35,662.97 L91.65,662.03 L91.96,661.1 L92.26,660.21 L92.57,659.38 L92.87,658.64 L93.18,658 L93.48,657.49 L93.79,657.11 L94.09,656.88 L94.4,656.8 L94.71,656.82 L95.02,656.87 L95.33,656.95 L95.64,657.05 L95.96,657.15 L96.27,657.25 L96.58,657.33 L96.89,657.38 L97.2,657.4 L97.53,657.24 L97.86,656.79 L98.19,656.08 L98.52,655.19 L98.85,654.2 L99.18,653.21 L99.51,652.32 L99.84,651.61 L100.17,651.16 L100.5,651 L100.8,651.15 L101.1,651.61 L101.4,652.35 L101.7,653.35 L102,654.59 L102.3,656.02 L102.6,657.61 L102.9,659.3 L103.2,661.05 L103.5,662.8 L103.8,664.49 L104.1,666.08 L104.4,667.51 L104.7,668.75 L105,669.75 L105.3,670.49 L105.6,670.95 L105.9,671.1 L106.2,670.93 L106.51,670.44 L106.81,669.62 L107.12,668.5 L107.42,667.09 L107.73,665.44 L108.03,663.57 L108.34,661.51 L108.64,659.32 L108.95,657.03 L109.25,654.7 L109.55,652.37 L109.86,650.08 L110.16,647.89 L110.47,645.83 L110.77,643.96 L111.08,642.31 L111.38,640.9 L111.69,639.78 L111.99,638.96 L112.3,638.47 L112.6,638.3 L112.91,638.55 L113.21,639.28 L113.52,640.49 L113.82,642.14 L114.12,644.19 L114.43,646.59 L114.73,649.27 L115.04,652.19 L115.34,655.26 L115.65,658.4 L115.95,661.54 L116.26,664.61 L116.56,667.53 L116.87,670.21 L117.17,672.61 L117.48,674.66 L117.78,676.31 L118.09,677.52 L118.39,678.25 L118.7,678.5 L119.01,678.2 L119.31,677.31 L119.62,675.85 L119.92,673.87 L120.23,671.42 L120.53,668.56 L120.84,665.37 L121.14,661.94 L121.45,658.36 L121.75,654.74 L122.06,651.16 L122.36,647.73 L122.67,644.54 L122.97,641.68 L123.28,639.23 L123.58,637.25 L123.89,635.79 L124.19,634.9 L124.5,634.6 L124.81,634.89 L125.12,635.75 L125.43,637.15 L125.74,639.06 L126.05,641.43 L126.36,644.18 L126.67,647.25 L126.98,650.56 L127.29,654 L127.61,657.5 L127.92,660.94 L128.23,664.25 L128.54,667.32 L128.85,670.07 L129.16,672.44 L129.47,674.35 L129.78,675.75 L130.09,676.61 L130.4,676.9 L130.71,676.64 L131.01,675.89 L131.32,674.65 L131.62,672.96 L131.93,670.87 L132.23,668.43 L132.54,665.71 L132.84,662.79 L133.15,659.74 L133.45,656.66 L133.76,653.61 L134.06,650.69 L134.37,647.97 L134.67,645.53 L134.98,643.44 L135.28,641.75 L135.59,640.51 L135.89,639.76 L136.2,639.5 L136.51,639.71 L136.82,640.34 L137.13,641.38 L137.44,642.79 L137.75,644.55 L138.06,646.61 L138.37,648.92 L138.68,651.42 L138.99,654.05 L139.3,656.75 L139.61,659.45 L139.92,662.08 L140.23,664.58 L140.54,666.89 L140.85,668.95 L141.16,670.71 L141.47,672.12 L141.78,673.16 L142.09,673.79 L142.4,674 L142.72,673.8 L143.03,673.19 L143.35,672.2 L143.67,670.86 L143.98,669.21 L144.3,667.3 L144.62,665.18 L144.93,662.93 L145.25,660.6 L145.57,658.27 L145.88,656.02 L146.2,653.9 L146.52,651.99 L146.83,650.34 L147.15,649 L147.47,648.01 L147.78,647.4 L148.1,647.2 L148.4,647.29 L148.71,647.54 L149.01,647.96 L149.32,648.53 L149.62,649.24 L149.93,650.08 L150.23,651.02 L150.54,652.06 L150.84,653.15 L151.15,654.28 L151.45,655.42 L151.76,656.55 L152.06,657.64 L152.37,658.67 L152.67,659.62 L152.98,660.46 L153.28,661.17 L153.59,661.74 L153.89,662.16 L154.2,662.41 L154.5,662.5 L154.81,662.43 L155.12,662.23 L155.43,661.9 L155.74,661.45 L156.06,660.89 L156.37,660.25 L156.68,659.54 L156.99,658.78 L157.3,658 L157.61,657.22 L157.92,656.46 L158.23,655.75 L158.54,655.11 L158.86,654.55 L159.17,654.1 L159.48,653.77 L159.79,653.57 L160.1,653.5 L160.4,653.53 L160.7,653.61 L161,653.74 L161.3,653.93 L161.6,654.15 L161.9,654.42 L162.2,654.73 L162.5,655.05 L162.8,655.4 L163.1,655.77 L163.4,656.13 L163.7,656.5 L164,656.85 L164.3,657.17 L164.6,657.48 L164.9,657.75 L165.2,657.97 L165.5,658.16 L165.8,658.29 L166.1,658.37 L166.4,658.4 L166.72,658.37 L167.04,658.3 L167.36,658.17 L167.68,658 L168,657.8 L168.32,657.57 L168.64,657.33 L168.96,657.07 L169.28,656.83 L169.6,656.6 L169.92,656.4 L170.24,656.23 L170.56,656.1 L170.88,656.03 L171.2,656 L171.5,656.01 L171.8,656.05 L172.1,656.11 L172.4,656.19 L172.7,656.29 L173,656.4 L173.3,656.52 L173.6,656.65 L173.9,656.78 L174.2,656.9 L174.5,657.01 L174.8,657.11 L175.1,657.19 L175.4,657.25 L175.7,657.29 L176,657.3 L176.31,657.29 L176.62,657.26 L176.94,657.22 L177.25,657.15 L177.56,657.08 L177.88,656.99 L178.19,656.9 L178.5,656.8 L178.81,656.7 L179.12,656.61 L179.44,656.52 L179.75,656.45 L180.06,656.38 L180.38,656.34 L180.69,656.31 L181,656.3 L181.31,656.31 L181.62,656.33 L181.94,656.38 L182.25,656.43 L182.56,656.5 L182.88,656.58 L183.19,656.66 L183.5,656.75 L183.81,656.84 L184.12,656.92 L184.44,657 L184.75,657.07 L185.06,657.12 L185.38,657.17 L185.69,657.19 L186,657.2 L186.31,657.19 L186.62,657.16 L186.94,657.12 L187.25,657.05 L187.56,656.98 L187.88,656.89 L188.19,656.8 L188.5,656.7 L188.81,656.6 L189.12,656.51 L189.44,656.42 L189.75,656.35 L190.06,656.28 L190.38,656.24 L190.69,656.21 L191,656.2 L191.31,656.21 L191.62,656.25 L191.94,656.3 L192.25,656.38 L192.56,656.47 L192.88,656.57 L193.19,656.68 L193.5,656.8 L193.81,656.92 L194.12,657.03 L194.44,657.13 L194.75,657.22 L195.06,657.3 L195.38,657.35 L195.69,657.39 L196,657.4 L196.31,657.39 L196.62,657.36 L196.94,657.32 L197.25,657.25 L197.56,657.18 L197.88,657.09 L198.19,657 L198.5,656.9 L198.81,656.8 L199.12,656.71 L199.44,656.62 L199.75,656.55 L200.06,656.48 L200.38,656.44 L200.69,656.41 L201,656.4 L201.31,656.41 L201.61,656.42 L201.92,656.45 L202.22,656.49 L202.53,656.53 L202.84,656.59 L203.14,656.64 L203.45,656.7 L203.76,656.76 L204.06,656.81 L204.37,656.87 L204.68,656.91 L204.98,656.95 L205.29,656.98 L205.59,656.99 L205.9,657" stroke="#2e5f9c" stroke-width="3.2" fill="none" stroke-linejoin="round"/>
<path d="M245,636.98 L246.8,661.78 L248.6,685.17 L250.4,698.24 L252.2,702.96 L254,701.94 L255.8,679.26 L257.6,661.31 L259.4,639.46 L261.2,624.85 L263,612.86 L264.8,615.6 L266.6,624.34 L268.4,640.53 L270.2,652.88 L272,669.65 L273.8,678.13 L275.6,682.45 L277.4,677.58 L279.2,670.8 L281,661.23 L282.8,648.32 L284.6,640.27 L286.4,636.7 L288.2,639.86 L290,638.76 L291.8,645.46 L293.6,651.67 L295.4,656.65 L297.2,659.98 L299,659.77 L300.8,660.4 L302.6,658.16 L304.4,653.88 L306.2,651.31 L308,651.12 L309.8,651.41 L311.6,654.54 L313.4,655.09 L315.2,657.94 L317,655.16 L318.8,655.07 L320.6,653.75 L322.4,649.26 L324.2,646.97 L326,644.61 L327.8,647.67 L329.6,649.92 L331.4,654.01 L333.2,656.81 L335,664.74 L336.8,665.1 L338.6,664.56 L340.4,662.98 L342.2,655.68 L344,647.78 L345.8,641.01 L347.6,640.9 L349.4,640.93 L351.2,640.24 L353,644.03 L354.8,649.19 L356.6,657.19 L358.4,665.29 L360.2,666.24 L362,671.2 L363.8,664.93 L365.6,657.75 L367.4,652.08 L369.2,643.85 L371,638.27 L372.8,638.41 L374.6,640.95 L376.4,645.37 L378.2,653.9 L380,657.36 L381.8,669.67 L383.6,665.74 L385.4,667.52 L387.2,664.22" stroke="#f6bcbc" stroke-width="1.3" fill="none" stroke-linejoin="round"/>
<line x1="245" y1="628" x2="245" y2="640" stroke="#f6b0b0" stroke-width="1.2" />
<path d="M245,638.7 L245.31,643.06 L245.62,647.4 L245.93,651.7 L246.23,655.94 L246.54,660.1 L246.85,664.16 L247.16,668.1 L247.47,671.9 L247.78,675.55 L248.09,679.03 L248.4,682.32 L248.7,685.4 L249.01,688.27 L249.32,690.9 L249.63,693.3 L249.94,695.44 L250.25,697.31 L250.56,698.91 L250.87,700.23 L251.17,701.26 L251.48,702 L251.79,702.45 L252.1,702.6 L252.4,702.45 L252.71,701.99 L253.01,701.24 L253.31,700.19 L253.61,698.85 L253.92,697.24 L254.22,695.35 L254.52,693.22 L254.82,690.84 L255.13,688.24 L255.43,685.43 L255.73,682.44 L256.03,679.28 L256.34,675.98 L256.64,672.55 L256.94,669.02 L257.24,665.42 L257.55,661.77 L257.85,658.1 L258.15,654.43 L258.46,650.78 L258.76,647.18 L259.06,643.65 L259.36,640.22 L259.67,636.92 L259.97,633.76 L260.27,630.77 L260.57,627.96 L260.88,625.36 L261.18,622.98 L261.48,620.85 L261.78,618.96 L262.09,617.35 L262.39,616.01 L262.69,614.96 L262.99,614.21 L263.3,613.75 L263.6,613.6 L263.91,613.71 L264.21,614.04 L264.52,614.59 L264.82,615.35 L265.13,616.33 L265.43,617.51 L265.74,618.88 L266.04,620.44 L266.35,622.18 L266.65,624.08 L266.96,626.13 L267.26,628.33 L267.57,630.65 L267.87,633.08 L268.18,635.61 L268.48,638.21 L268.79,640.88 L269.09,643.59 L269.4,646.33 L269.7,649.07 L270.01,651.81 L270.31,654.52 L270.62,657.19 L270.92,659.79 L271.23,662.32 L271.53,664.75 L271.84,667.07 L272.14,669.27 L272.45,671.32 L272.75,673.22 L273.06,674.96 L273.36,676.52 L273.67,677.89 L273.97,679.07 L274.28,680.05 L274.58,680.81 L274.89,681.36 L275.19,681.69 L275.5,681.8 L275.81,681.72 L276.11,681.49 L276.42,681.09 L276.72,680.55 L277.03,679.86 L277.33,679.02 L277.64,678.05 L277.94,676.94 L278.25,675.71 L278.55,674.36 L278.86,672.91 L279.16,671.36 L279.47,669.72 L279.77,668.01 L280.08,666.23 L280.38,664.41 L280.69,662.54 L280.99,660.65 L281.3,658.75 L281.61,656.85 L281.91,654.96 L282.22,653.09 L282.52,651.27 L282.83,649.49 L283.13,647.78 L283.44,646.14 L283.74,644.59 L284.05,643.14 L284.35,641.79 L284.66,640.56 L284.96,639.45 L285.27,638.48 L285.57,637.64 L285.88,636.95 L286.18,636.41 L286.49,636.01 L286.79,635.78 L287.1,635.7 L287.41,635.75 L287.72,635.89 L288.03,636.13 L288.33,636.46 L288.64,636.89 L288.95,637.39 L289.26,637.99 L289.57,638.66 L289.88,639.41 L290.18,640.22 L290.49,641.09 L290.8,642.02 L291.11,643 L291.42,644.02 L291.73,645.08 L292.03,646.15 L292.34,647.25 L292.65,648.35 L292.96,649.45 L293.27,650.55 L293.57,651.62 L293.88,652.68 L294.19,653.7 L294.5,654.67 L294.81,655.61 L295.12,656.48 L295.43,657.29 L295.73,658.04 L296.04,658.71 L296.35,659.31 L296.66,659.81 L296.97,660.24 L297.27,660.57 L297.58,660.81 L297.89,660.95 L298.2,661 L298.5,660.98 L298.81,660.9 L299.11,660.79 L299.41,660.62 L299.72,660.42 L300.02,660.17 L300.32,659.88 L300.63,659.55 L300.93,659.2 L301.23,658.81 L301.54,658.4 L301.84,657.96 L302.14,657.52 L302.45,657.05 L302.75,656.59 L303.05,656.11 L303.35,655.65 L303.66,655.18 L303.96,654.74 L304.26,654.3 L304.57,653.89 L304.87,653.5 L305.17,653.15 L305.48,652.82 L305.78,652.53 L306.08,652.28 L306.39,652.08 L306.69,651.91 L306.99,651.8 L307.3,651.72 L307.6,651.7 L307.91,651.72 L308.22,651.76 L308.53,651.84 L308.84,651.96 L309.16,652.09 L309.47,652.26 L309.78,652.45 L310.09,652.67 L310.4,652.9 L310.71,653.15 L311.02,653.41 L311.33,653.68 L311.64,653.96 L311.96,654.24 L312.27,654.52 L312.58,654.79 L312.89,655.05 L313.2,655.3 L313.51,655.53 L313.82,655.75 L314.13,655.94 L314.44,656.11 L314.76,656.24 L315.07,656.36 L315.38,656.44 L315.69,656.48 L316,656.5 L316.31,656.48 L316.61,656.41 L316.92,656.29 L317.22,656.13 L317.53,655.93 L317.84,655.68 L318.14,655.4 L318.45,655.08 L318.75,654.72 L319.06,654.33 L319.36,653.92 L319.67,653.48 L319.98,653.02 L320.28,652.54 L320.59,652.05 L320.89,651.55 L321.2,651.05 L321.51,650.55 L321.81,650.05 L322.12,649.56 L322.42,649.08 L322.73,648.62 L323.04,648.18 L323.34,647.77 L323.65,647.38 L323.95,647.02 L324.26,646.7 L324.56,646.42 L324.87,646.17 L325.18,645.97 L325.48,645.81 L325.79,645.69 L326.09,645.62 L326.4,645.6 L326.7,645.64 L327,645.77 L327.3,645.97 L327.6,646.26 L327.9,646.62 L328.2,647.07 L328.5,647.58 L328.8,648.16 L329.1,648.8 L329.4,649.5 L329.7,650.25 L330,651.05 L330.3,651.88 L330.6,652.75 L330.9,653.65 L331.2,654.56 L331.5,655.49 L331.8,656.41 L332.1,657.34 L332.4,658.25 L332.7,659.15 L333,660.02 L333.3,660.85 L333.6,661.65 L333.9,662.4 L334.2,663.1 L334.5,663.74 L334.8,664.32 L335.1,664.83 L335.4,665.28 L335.7,665.64 L336,665.93 L336.3,666.13 L336.6,666.26 L336.9,666.3 L337.2,666.26 L337.5,666.14 L337.8,665.95 L338.1,665.68 L338.4,665.34 L338.7,664.92 L339,664.44 L339.3,663.88 L339.6,663.27 L339.9,662.59 L340.2,661.85 L340.5,661.07 L340.8,660.23 L341.1,659.35 L341.4,658.43 L341.7,657.48 L342,656.5 L342.3,655.49 L342.6,654.47 L342.9,653.44 L343.2,652.4 L343.5,651.36 L343.8,650.33 L344.1,649.31 L344.4,648.3 L344.7,647.32 L345,646.37 L345.3,645.45 L345.6,644.57 L345.9,643.73 L346.2,642.95 L346.5,642.21 L346.8,641.53 L347.1,640.92 L347.4,640.36 L347.7,639.88 L348,639.46 L348.3,639.12 L348.6,638.85 L348.9,638.66 L349.2,638.54 L349.5,638.5 L349.81,638.55 L350.11,638.7 L350.42,638.94 L350.72,639.28 L351.03,639.72 L351.33,640.24 L351.64,640.85 L351.94,641.55 L352.25,642.32 L352.55,643.17 L352.86,644.09 L353.16,645.07 L353.47,646.1 L353.77,647.18 L354.08,648.31 L354.38,649.47 L354.69,650.66 L354.99,651.87 L355.3,653.09 L355.6,654.31 L355.91,655.53 L356.21,656.74 L356.52,657.93 L356.82,659.09 L357.13,660.22 L357.43,661.3 L357.74,662.33 L358.04,663.31 L358.35,664.23 L358.65,665.08 L358.96,665.85 L359.26,666.55 L359.57,667.16 L359.87,667.68 L360.18,668.12 L360.48,668.46 L360.79,668.7 L361.09,668.85 L361.4,668.9 L361.71,668.84 L362.01,668.67 L362.32,668.38 L362.62,667.98 L362.93,667.47 L363.23,666.85 L363.54,666.13 L363.84,665.32 L364.15,664.42 L364.46,663.43 L364.76,662.38 L365.07,661.25 L365.37,660.07 L365.68,658.83 L365.98,657.56 L366.29,656.26 L366.59,654.93 L366.9,653.6 L367.21,652.27 L367.51,650.94 L367.82,649.64 L368.12,648.37 L368.43,647.13 L368.73,645.95 L369.04,644.82 L369.34,643.77 L369.65,642.78 L369.96,641.88 L370.26,641.07 L370.57,640.35 L370.87,639.73 L371.18,639.22 L371.48,638.82 L371.79,638.53 L372.09,638.36 L372.4,638.3 L372.7,638.35 L373.01,638.49 L373.31,638.73 L373.61,639.05 L373.91,639.47 L374.22,639.98 L374.52,640.57 L374.82,641.24 L375.12,641.98 L375.43,642.8 L375.73,643.68 L376.03,644.63 L376.33,645.62 L376.64,646.67 L376.94,647.76 L377.24,648.87 L377.54,650.02 L377.85,651.18 L378.15,652.36 L378.45,653.54 L378.75,654.72 L379.06,655.88 L379.36,657.03 L379.66,658.14 L379.96,659.23 L380.27,660.27 L380.57,661.27 L380.87,662.22 L381.17,663.1 L381.48,663.92 L381.78,664.66 L382.08,665.33 L382.38,665.92 L382.69,666.43 L382.99,666.85 L383.29,667.17 L383.59,667.41 L383.9,667.55 L384.2,667.6 L384.51,667.56 L384.82,667.43 L385.12,667.22 L385.43,666.95 L385.74,666.63 L386.05,666.28 L386.35,665.92 L386.66,665.57 L386.97,665.25 L387.28,664.98 L387.58,664.77 L387.89,664.64 L388.2,664.6" stroke="#c8160e" stroke-width="3.2" fill="none" stroke-linejoin="round"/>
<rect x="46.2" y="592.2" width="173.2" height="129.9" fill="none" stroke="#858585" stroke-width="1.15" />
<line x1="46.2" y1="610" x2="50.4" y2="610" stroke="#707070" stroke-width="1" />
<line x1="46.2" y1="647.37" x2="50.4" y2="647.37" stroke="#707070" stroke-width="1" />
<line x1="46.2" y1="684.74" x2="50.4" y2="684.74" stroke="#707070" stroke-width="1" />
<rect x="227.5" y="592.2" width="173.1" height="129.9" fill="none" stroke="#858585" stroke-width="1.15" />
<line x1="227.5" y1="610" x2="231.7" y2="610" stroke="#707070" stroke-width="1" />
<line x1="227.5" y1="647.37" x2="231.7" y2="647.37" stroke="#707070" stroke-width="1" />
<line x1="227.5" y1="684.74" x2="231.7" y2="684.74" stroke="#707070" stroke-width="1" />
<text x="41.3" y="612.9" font-size="9.4" fill="#231f20" text-anchor="end" >1.00</text>
<text x="41.3" y="650.27" font-size="9.4" fill="#231f20" text-anchor="end" >0.98</text>
<text x="41.3" y="687.64" font-size="9.4" fill="#231f20" text-anchor="end" >0.96</text>
<text x="41.3" y="725.01" font-size="9.4" fill="#231f20" text-anchor="end" >0.94</text>
<line x1="61.2" y1="722.1" x2="61.2" y2="717.9" stroke="#707070" stroke-width="1" />
<text x="61.2" y="733.2" font-size="9.4" fill="#231f20" text-anchor="middle" >0</text>
<line x1="104.4" y1="722.1" x2="104.4" y2="717.9" stroke="#707070" stroke-width="1" />
<text x="104.4" y="733.2" font-size="9.4" fill="#231f20" text-anchor="middle" >0.6</text>
<line x1="147.6" y1="722.1" x2="147.6" y2="717.9" stroke="#707070" stroke-width="1" />
<text x="147.6" y="733.2" font-size="9.4" fill="#231f20" text-anchor="middle" >1.2</text>
<line x1="190.8" y1="722.1" x2="190.8" y2="717.9" stroke="#707070" stroke-width="1" />
<text x="190.8" y="733.2" font-size="9.4" fill="#231f20" text-anchor="middle" >1.8</text>
<line x1="242.3" y1="722.1" x2="242.3" y2="717.9" stroke="#707070" stroke-width="1" />
<text x="242.3" y="733.2" font-size="9.4" fill="#231f20" text-anchor="middle" >0</text>
<line x1="285.6" y1="722.1" x2="285.6" y2="717.9" stroke="#707070" stroke-width="1" />
<text x="285.6" y="733.2" font-size="9.4" fill="#231f20" text-anchor="middle" >0.3</text>
<line x1="328.5" y1="722.1" x2="328.5" y2="717.9" stroke="#707070" stroke-width="1" />
<text x="328.5" y="733.2" font-size="9.4" fill="#231f20" text-anchor="middle" >0.6</text>
<line x1="371.5" y1="722.1" x2="371.5" y2="717.9" stroke="#707070" stroke-width="1" />
<text x="371.5" y="733.2" font-size="9.4" fill="#231f20" text-anchor="middle" >0.9</text>
<text transform="translate(10.7,656.8) rotate(-90)" font-size="10" fill="#231f20" text-anchor="middle" textLength="70.3" lengthAdjust="spacingAndGlyphs">Intensity (a.u.)</text>
<text x="154.5" y="749.6" font-size="10" fill="#231f20" textLength="135" lengthAdjust="spacingAndGlyphs" >Free precession time, <tspan font-style="italic">τ</tspan> (μs)</text>
<text x="206.3" y="607.7" font-size="10" fill="#2e5f9c" text-anchor="end" textLength="53.9" lengthAdjust="spacingAndGlyphs">−alkene(H):</text>
<text x="206.3" y="619.7" font-size="10" fill="#2e5f9c" text-anchor="end" textLength="62.4" lengthAdjust="spacingAndGlyphs"><tspan font-style="italic">T</tspan><tspan font-size="7" dy="2.6">2</tspan><tspan font-size="11" dx="-1.6" dy="-2.0">*</tspan><tspan dy="-0.6"> = &#160;1.00 μs</tspan></text>
<text x="394.7" y="607.3" font-size="10" fill="#c8201a" text-anchor="end" textLength="33" lengthAdjust="spacingAndGlyphs">−C<tspan font-size="7" dy="2.5">7</tspan><tspan dy="-2.5">F</tspan><tspan font-size="7" dy="2.5">16</tspan><tspan dy="-2.5">:</tspan></text>
<text x="394.7" y="620.5" font-size="10" fill="#c8201a" text-anchor="end" textLength="60.4" lengthAdjust="spacingAndGlyphs"><tspan font-style="italic">T</tspan><tspan font-size="7" dy="2.6">2</tspan><tspan font-size="11" dx="-1.6" dy="-2.0">*</tspan><tspan dy="-0.6"> = 0.84 μs</tspan></text>
<text x="434.2" y="594.3" font-size="15.3" fill="#000" font-weight="bold" stroke="#000" stroke-width="0.5">i</text>
<path d="M470.9,602.7 L471.2,602.7 L471.5,602.7 L471.8,602.7 L472.1,602.7 L472.4,602.7 L472.7,602.7 L473,602.7 L473.3,602.71 L473.6,602.71 L473.9,602.71 L474.2,602.71 L474.5,602.72 L474.8,602.72 L475.1,602.73 L475.4,602.73 L475.7,602.74 L476,602.75 L476.3,602.75 L476.6,602.76 L476.9,602.77 L477.2,602.78 L477.5,602.79 L477.8,602.8 L478.1,602.81 L478.4,602.82 L478.7,602.84 L479,602.85 L479.3,602.87 L479.6,602.88 L479.9,602.9 L480.2,602.92 L480.5,602.94 L480.8,602.95 L481.1,602.98 L481.4,603 L481.7,603.02 L482,603.04 L482.3,603.07 L482.6,603.09 L482.9,603.12 L483.2,603.15 L483.5,603.17 L483.8,603.2 L484.1,603.23 L484.4,603.27 L484.7,603.3 L485,603.33 L485.3,603.37 L485.6,603.41 L485.9,603.44 L486.2,603.48 L486.5,603.52 L486.8,603.56 L487.1,603.6 L487.4,603.65 L487.7,603.69 L488,603.74 L488.3,603.78 L488.6,603.83 L488.9,603.88 L489.2,603.93 L489.5,603.98 L489.8,604.04 L490.1,604.09 L490.4,604.15 L490.7,604.2 L491,604.26 L491.3,604.32 L491.6,604.38 L491.9,604.44 L492.2,604.51 L492.5,604.57 L492.8,604.64 L493.1,604.7 L493.4,604.77 L493.7,604.84 L494,604.91 L494.3,604.98 L494.6,605.06 L494.9,605.13 L495.2,605.21 L495.5,605.28 L495.8,605.36 L496.1,605.44 L496.4,605.52 L496.7,605.6 L497,605.69 L497.3,605.77 L497.6,605.86 L497.9,605.94 L498.2,606.03 L498.5,606.12 L498.8,606.21 L499.1,606.3 L499.4,606.39 L499.7,606.49 L500,606.58 L500.3,606.68 L500.6,606.78 L500.9,606.87 L501.2,606.97 L501.5,607.07 L501.8,607.17 L502.1,607.28 L502.4,607.38 L502.7,607.49 L503,607.59 L503.3,607.7 L503.6,607.81 L503.9,607.91 L504.2,608.02 L504.5,608.13 L504.8,608.25 L505.1,608.36 L505.4,608.47 L505.7,608.59 L506,608.7 L506.3,608.82 L506.6,608.93 L506.9,609.05 L507.2,609.17 L507.5,609.29 L507.8,609.41 L508.1,609.53 L508.4,609.65 L508.7,609.78 L509,609.9 L509.3,610.02 L509.6,610.15 L509.9,610.27 L510.2,610.4 L510.5,610.52 L510.8,610.65 L511.1,610.78 L511.4,610.91 L511.7,611.04 L512,611.16 L512.3,611.29 L512.6,611.42 L512.9,611.55 L513.2,611.68 L513.5,611.82 L513.8,611.95 L514.1,612.08 L514.4,612.21 L514.7,612.34 L515,612.48 L515.3,612.61 L515.6,612.74 L515.9,612.88 L516.2,613.01 L516.5,613.15 L516.8,613.28 L517.1,613.41 L517.4,613.55 L517.7,613.68 L518,613.82 L518.3,613.95 L518.6,614.09 L518.9,614.22 L519.2,614.35 L519.5,614.49 L519.8,614.62 L520.1,614.76 L520.4,614.89 L520.7,615.03 L521,615.16 L521.3,615.29 L521.6,615.43 L521.9,615.56 L522.2,615.69 L522.5,615.83 L522.8,615.96 L523.1,616.09 L523.4,616.22 L523.7,616.35 L524,616.49 L524.3,616.62 L524.6,616.75 L524.9,616.88 L525.2,617.01 L525.5,617.14 L525.8,617.26 L526.1,617.39 L526.4,617.52 L526.7,617.65 L527,617.77 L527.3,617.9 L527.6,618.02 L527.9,618.15 L528.2,618.27 L528.5,618.4 L528.8,618.52 L529.1,618.64 L529.4,618.76 L529.7,618.88 L530,619 L530.3,619.12 L530.6,619.24 L530.9,619.36 L531.2,619.47 L531.5,619.59 L531.8,619.71 L532.1,619.82 L532.4,619.93 L532.7,620.05 L533,620.16 L533.3,620.27 L533.6,620.38 L533.9,620.49 L534.2,620.6 L534.5,620.71 L534.8,620.81 L535.1,620.92 L535.4,621.02 L535.7,621.13 L536,621.23 L536.3,621.33 L536.6,621.43 L536.9,621.53 L537.2,621.63 L537.5,621.73 L537.8,621.83 L538.1,621.92 L538.4,622.02 L538.7,622.11 L539,622.21 L539.3,622.3 L539.6,622.39 L539.9,622.48 L540.2,622.57 L540.5,622.66 L540.8,622.75 L541.1,622.83 L541.4,622.92 L541.7,623 L542,623.08 L542.3,623.17 L542.6,623.25 L542.9,623.33 L543.2,623.41 L543.5,623.48 L543.8,623.56 L544.1,623.64 L544.4,623.71 L544.7,623.79 L545,623.86 L545.3,623.93 L545.6,624 L545.9,624.07 L546.2,624.14 L546.5,624.21 L546.8,624.28 L547.1,624.34 L547.4,624.41 L547.7,624.47 L548,624.53 L548.3,624.6 L548.6,624.66 L548.9,624.72 L549.2,624.78 L549.5,624.83 L549.8,624.89 L550.1,624.95 L550.4,625 L550.7,625.06 L551,625.11 L551.3,625.16 L551.6,625.21 L551.9,625.27 L552.2,625.32 L552.5,625.36 L552.8,625.41 L553.1,625.46 L553.4,625.51 L553.7,625.55 L554,625.6 L554.3,625.64 L554.6,625.68 L554.9,625.73 L555.2,625.77 L555.5,625.81 L555.8,625.85 L556.1,625.89 L556.4,625.92 L556.7,625.96 L557,626 L557.3,626.04 L557.6,626.07 L557.9,626.11 L558.2,626.14 L558.5,626.17 L558.8,626.2 L559.1,626.24 L559.4,626.27 L559.7,626.3 L560,626.33 L560.3,626.36 L560.6,626.39 L560.9,626.41 L561.2,626.44 L561.5,626.47 L561.8,626.49 L562.1,626.52 L562.4,626.54 L562.7,626.57 L563,626.59 L563.3,626.61 L563.6,626.64 L563.9,626.66 L564.2,626.68 L564.5,626.7 L564.8,626.72 L565.1,626.74 L565.4,626.76 L565.7,626.78 L566,626.8 L566.3,626.82 L566.6,626.83 L566.9,626.85 L567.2,626.87 L567.5,626.89 L567.8,626.9 L568.1,626.92 L568.4,626.93 L568.7,626.95 L569,626.96 L569.3,626.97 L569.6,626.99 L569.9,627 L570.2,627.01 L570.5,627.03 L570.8,627.04 L571.1,627.05 L571.4,627.06 L571.7,627.07 L572,627.08 L572.3,627.09 L572.6,627.1 L572.9,627.11 L573.2,627.12 L573.5,627.13 L573.8,627.14 L574.1,627.15 L574.4,627.16 L574.7,627.17 L575,627.18 L575.3,627.18 L575.6,627.19 L575.9,627.2 L576.2,627.21 L576.5,627.21 L576.8,627.22 L577.1,627.23 L577.4,627.23 L577.7,627.24 L578,627.24 L578.3,627.25 L578.6,627.25 L578.9,627.26 L579.2,627.27 L579.5,627.27 L579.8,627.27 L580.1,627.28 L580.4,627.28 L580.7,627.29 L581,627.29 L581.3,627.3 L581.6,627.3 L581.9,627.3 L582.2,627.31 L582.5,627.31 L582.8,627.32 L583.1,627.32 L583.4,627.32 L583.7,627.32 L584,627.33 L584.3,627.33 L584.6,627.33 L584.9,627.34 L585.2,627.34 L585.5,627.34 L585.8,627.34 L586.1,627.35 L586.4,627.35 L586.7,627.35 L587,627.35 L587.3,627.35 L587.6,627.36 L587.9,627.36 L588.2,627.36 L588.5,627.36 L588.8,627.36 L589.1,627.36 L589.4,627.37 L589.7,627.37 L590,627.37 L590.3,627.37 L590.6,627.37 L590.9,627.37 L591.2,627.37 L591.5,627.37 L591.8,627.38 L592.1,627.38 L592.4,627.38 L592.7,627.38 L593,627.38 L593.3,627.38 L593.6,627.38 L593.9,627.38 L594.2,627.38 L594.5,627.38 L594.8,627.38 L595.1,627.39 L595.4,627.39 L595.7,627.39 L596,627.39 L596.3,627.39 L596.6,627.39 L596.9,627.39 L597.2,627.39 L597.5,627.39 L597.8,627.39 L598.1,627.39 L598.4,627.39 L598.7,627.39 L599,627.39 L599.3,627.39 L599.6,627.39 L599.9,627.39 L600.2,627.39 L600.5,627.39 L600.8,627.39 L601.1,627.39 L601.4,627.39 L601.7,627.4 L602,627.4 L602.3,627.4 L602.6,627.4 L602.9,627.4 L603.2,627.4 L603.5,627.4 L603.8,627.4 L604.1,627.4 L604.4,627.4 L604.7,627.4 L605,627.4 L605.3,627.4 L605.6,627.4 L605.9,627.4 L606.2,627.4 L606.5,627.4 L606.8,627.4 L607.1,627.4 L607.4,627.4 L607.7,627.4 L608,627.4 L608.3,627.4 L608.6,627.4 L608.9,627.4 L609.2,627.4 L609.5,627.4 L609.8,627.4 L610.1,627.4 L610.4,627.4 L610.7,627.4 L611,627.4 L611.3,627.4 L611.6,627.4 L611.9,627.4 L612.2,627.4 L612.5,627.4 L612.8,627.4 L613.1,627.4 L613.4,627.4 L613.7,627.4 L614,627.4 L614.3,627.4 L614.6,627.4 L614.9,627.4 L615.2,627.4 L615.5,627.4 L615.8,627.4 L616.1,627.4 L616.4,627.4 L616.7,627.4 L617,627.4 L617.3,627.4 L617.6,627.4 L617.9,627.4 L618.2,627.4 L618.5,627.4 L618.8,627.4 L619.1,627.4 L619.4,627.4 L619.7,627.4 L620,627.4 L620.3,627.4 L620.6,627.4 L620.9,627.4 L621.2,627.4 L621.5,627.4 L621.8,627.4 L622.1,627.4 L622.4,627.4 L622.7,627.4 L623,627.4 L623.3,627.4 L623.6,627.4 L623.9,627.4 L624.2,627.4 L624.5,627.4 L624.8,627.4 L625.1,627.4 L625.4,627.4 L625.7,627.4 L626,627.4 L626.3,627.4 L626.6,627.4 L626.9,627.4 L627.2,627.4 L627.5,627.4 L627.8,627.4 L628.1,627.4 L628.4,627.4 L628.7,627.4 L629,627.4 L629.3,627.4 L629.6,627.4 L629.9,627.4 L630.2,627.4 L630.5,627.4 L630.8,627.4 L631.1,627.4 L631.4,627.4 L631.7,627.4 L632,627.4 L632.3,627.4 L632.6,627.4 L632.9,627.4 L633.2,627.4 L633.5,627.4 L633.8,627.4 L634.1,627.4 L634.4,627.4 L634.7,627.4 L635,627.4 L635.3,627.4 L635.6,627.4 L635.9,627.4 L636.2,627.4 L636.5,627.4 L636.8,627.4 L637.1,627.4 L637.4,627.4 L637.7,627.4 L638,627.4 L638.3,627.4 L638.6,627.4 L638.9,627.4 L639.2,627.4 L639.5,627.4 L639.8,627.4 L640.1,627.4 L640.4,627.4 L640.7,627.4 L641,627.4 L641.3,627.4 L641.6,627.4 L641.9,627.4 L642.2,627.4 L642.5,627.4 L642.8,627.4 L643.1,627.4 L643.4,627.4 L643.7,627.4 L644,627.4 L644.3,627.4 L644.6,627.4 L644.9,627.4 L645.2,627.4 L645.5,627.4 L645.8,627.4 L646.1,627.4 L646.4,627.4 L646.7,627.4 L647,627.4 L647.3,627.4 L647.6,627.4 L647.9,627.4 L648.2,627.4 L648.5,627.4 L648.8,627.4 L649.1,627.4 L649.4,627.4 L649.7,627.4 L650,627.4 L650.3,627.4 L650.6,627.4 L650.9,627.4 L651.2,627.4 L651.5,627.4 L651.8,627.4 L652.1,627.4 L652.4,627.4 L652.7,627.4 L653,627.4 L653.3,627.4 L653.6,627.4 L653.9,627.4 L654.2,627.4 L654.5,627.4 L654.8,627.4 L655.1,627.4 L655.4,627.4 L655.7,627.4 L656,627.4 L656.3,627.4 L656.6,627.4 L656.9,627.4 L657.2,627.4 L657.5,627.4 L657.8,627.4 L658.1,627.4 L658.4,627.4 L658.7,627.4 L659,627.4 L659.3,627.4 L659.6,627.4 L659.9,627.4 L660.2,627.4 L660.5,627.4 L660.8,627.4 L661.1,627.4 L661.4,627.4 L661.7,627.4 L662,627.4 L662.3,627.4 L662.6,627.4 L662.9,627.4 L663.2,627.4 L663.5,627.4 L663.8,627.4 L664.1,627.4 L664.4,627.4 L664.7,627.4 L665,627.4 L665.3,627.4 L665.6,627.4 L665.9,627.4 L666.2,627.4 L666.5,627.4 L666.8,627.4 L667.1,627.4 L667.1,627.4 L666.8,627.4 L666.5,627.4 L666.2,627.4 L665.9,627.4 L665.6,627.4 L665.3,627.4 L665,627.4 L664.7,627.4 L664.4,627.4 L664.1,627.4 L663.8,627.4 L663.5,627.4 L663.2,627.4 L662.9,627.4 L662.6,627.4 L662.3,627.4 L662,627.4 L661.7,627.4 L661.4,627.4 L661.1,627.4 L660.8,627.4 L660.5,627.4 L660.2,627.4 L659.9,627.4 L659.6,627.4 L659.3,627.4 L659,627.4 L658.7,627.4 L658.4,627.4 L658.1,627.4 L657.8,627.4 L657.5,627.4 L657.2,627.4 L656.9,627.4 L656.6,627.4 L656.3,627.4 L656,627.4 L655.7,627.4 L655.4,627.4 L655.1,627.4 L654.8,627.4 L654.5,627.4 L654.2,627.4 L653.9,627.4 L653.6,627.4 L653.3,627.4 L653,627.4 L652.7,627.4 L652.4,627.4 L652.1,627.4 L651.8,627.4 L651.5,627.4 L651.2,627.4 L650.9,627.4 L650.6,627.4 L650.3,627.4 L650,627.4 L649.7,627.4 L649.4,627.4 L649.1,627.4 L648.8,627.4 L648.5,627.4 L648.2,627.4 L647.9,627.4 L647.6,627.4 L647.3,627.4 L647,627.4 L646.7,627.4 L646.4,627.4 L646.1,627.4 L645.8,627.4 L645.5,627.4 L645.2,627.4 L644.9,627.4 L644.6,627.4 L644.3,627.4 L644,627.4 L643.7,627.4 L643.4,627.4 L643.1,627.4 L642.8,627.4 L642.5,627.4 L642.2,627.4 L641.9,627.4 L641.6,627.4 L641.3,627.4 L641,627.4 L640.7,627.4 L640.4,627.4 L640.1,627.4 L639.8,627.4 L639.5,627.4 L639.2,627.4 L638.9,627.4 L638.6,627.4 L638.3,627.4 L638,627.4 L637.7,627.4 L637.4,627.4 L637.1,627.4 L636.8,627.4 L636.5,627.4 L636.2,627.4 L635.9,627.4 L635.6,627.4 L635.3,627.4 L635,627.4 L634.7,627.4 L634.4,627.4 L634.1,627.4 L633.8,627.4 L633.5,627.4 L633.2,627.4 L632.9,627.4 L632.6,627.4 L632.3,627.4 L632,627.4 L631.7,627.4 L631.4,627.4 L631.1,627.4 L630.8,627.4 L630.5,627.4 L630.2,627.4 L629.9,627.4 L629.6,627.4 L629.3,627.4 L629,627.4 L628.7,627.4 L628.4,627.4 L628.1,627.4 L627.8,627.4 L627.5,627.4 L627.2,627.4 L626.9,627.4 L626.6,627.4 L626.3,627.4 L626,627.4 L625.7,627.4 L625.4,627.4 L625.1,627.4 L624.8,627.4 L624.5,627.4 L624.2,627.4 L623.9,627.4 L623.6,627.4 L623.3,627.4 L623,627.4 L622.7,627.4 L622.4,627.4 L622.1,627.4 L621.8,627.4 L621.5,627.4 L621.2,627.4 L620.9,627.4 L620.6,627.4 L620.3,627.4 L620,627.4 L619.7,627.4 L619.4,627.4 L619.1,627.4 L618.8,627.4 L618.5,627.4 L618.2,627.4 L617.9,627.4 L617.6,627.4 L617.3,627.4 L617,627.4 L616.7,627.4 L616.4,627.4 L616.1,627.4 L615.8,627.4 L615.5,627.4 L615.2,627.4 L614.9,627.4 L614.6,627.4 L614.3,627.4 L614,627.4 L613.7,627.4 L613.4,627.4 L613.1,627.4 L612.8,627.4 L612.5,627.4 L612.2,627.4 L611.9,627.4 L611.6,627.4 L611.3,627.4 L611,627.4 L610.7,627.4 L610.4,627.4 L610.1,627.4 L609.8,627.4 L609.5,627.4 L609.2,627.4 L608.9,627.4 L608.6,627.4 L608.3,627.4 L608,627.4 L607.7,627.4 L607.4,627.4 L607.1,627.4 L606.8,627.4 L606.5,627.4 L606.2,627.4 L605.9,627.4 L605.6,627.4 L605.3,627.4 L605,627.4 L604.7,627.4 L604.4,627.4 L604.1,627.4 L603.8,627.4 L603.5,627.4 L603.2,627.4 L602.9,627.4 L602.6,627.4 L602.3,627.4 L602,627.4 L601.7,627.4 L601.4,627.41 L601.1,627.41 L600.8,627.41 L600.5,627.41 L600.2,627.41 L599.9,627.41 L599.6,627.41 L599.3,627.41 L599,627.41 L598.7,627.41 L598.4,627.41 L598.1,627.41 L597.8,627.41 L597.5,627.41 L597.2,627.41 L596.9,627.41 L596.6,627.41 L596.3,627.41 L596,627.41 L595.7,627.41 L595.4,627.41 L595.1,627.41 L594.8,627.42 L594.5,627.42 L594.2,627.42 L593.9,627.42 L593.6,627.42 L593.3,627.42 L593,627.42 L592.7,627.42 L592.4,627.42 L592.1,627.42 L591.8,627.42 L591.5,627.43 L591.2,627.43 L590.9,627.43 L590.6,627.43 L590.3,627.43 L590,627.43 L589.7,627.43 L589.4,627.43 L589.1,627.44 L588.8,627.44 L588.5,627.44 L588.2,627.44 L587.9,627.44 L587.6,627.44 L587.3,627.45 L587,627.45 L586.7,627.45 L586.4,627.45 L586.1,627.45 L585.8,627.46 L585.5,627.46 L585.2,627.46 L584.9,627.46 L584.6,627.47 L584.3,627.47 L584,627.47 L583.7,627.48 L583.4,627.48 L583.1,627.48 L582.8,627.48 L582.5,627.49 L582.2,627.49 L581.9,627.5 L581.6,627.5 L581.3,627.5 L581,627.51 L580.7,627.51 L580.4,627.52 L580.1,627.52 L579.8,627.53 L579.5,627.53 L579.2,627.53 L578.9,627.54 L578.6,627.55 L578.3,627.55 L578,627.56 L577.7,627.56 L577.4,627.57 L577.1,627.57 L576.8,627.58 L576.5,627.59 L576.2,627.59 L575.9,627.6 L575.6,627.61 L575.3,627.62 L575,627.62 L574.7,627.63 L574.4,627.64 L574.1,627.65 L573.8,627.66 L573.5,627.67 L573.2,627.68 L572.9,627.69 L572.6,627.7 L572.3,627.71 L572,627.72 L571.7,627.73 L571.4,627.74 L571.1,627.75 L570.8,627.76 L570.5,627.77 L570.2,627.79 L569.9,627.8 L569.6,627.81 L569.3,627.83 L569,627.84 L568.7,627.85 L568.4,627.87 L568.1,627.88 L567.8,627.9 L567.5,627.91 L567.2,627.93 L566.9,627.95 L566.6,627.97 L566.3,627.98 L566,628 L565.7,628.02 L565.4,628.04 L565.1,628.06 L564.8,628.08 L564.5,628.1 L564.2,628.12 L563.9,628.14 L563.6,628.16 L563.3,628.19 L563,628.21 L562.7,628.23 L562.4,628.26 L562.1,628.28 L561.8,628.31 L561.5,628.33 L561.2,628.36 L560.9,628.39 L560.6,628.41 L560.3,628.44 L560,628.47 L559.7,628.5 L559.4,628.53 L559.1,628.56 L558.8,628.6 L558.5,628.63 L558.2,628.66 L557.9,628.69 L557.6,628.73 L557.3,628.76 L557,628.8 L556.7,628.84 L556.4,628.88 L556.1,628.91 L555.8,628.95 L555.5,628.99 L555.2,629.03 L554.9,629.07 L554.6,629.12 L554.3,629.16 L554,629.2 L553.7,629.25 L553.4,629.29 L553.1,629.34 L552.8,629.39 L552.5,629.44 L552.2,629.48 L551.9,629.53 L551.6,629.59 L551.3,629.64 L551,629.69 L550.7,629.74 L550.4,629.8 L550.1,629.85 L549.8,629.91 L549.5,629.97 L549.2,630.02 L548.9,630.08 L548.6,630.14 L548.3,630.2 L548,630.27 L547.7,630.33 L547.4,630.39 L547.1,630.46 L546.8,630.52 L546.5,630.59 L546.2,630.66 L545.9,630.73 L545.6,630.8 L545.3,630.87 L545,630.94 L544.7,631.01 L544.4,631.09 L544.1,631.16 L543.8,631.24 L543.5,631.32 L543.2,631.39 L542.9,631.47 L542.6,631.55 L542.3,631.63 L542,631.72 L541.7,631.8 L541.4,631.88 L541.1,631.97 L540.8,632.05 L540.5,632.14 L540.2,632.23 L539.9,632.32 L539.6,632.41 L539.3,632.5 L539,632.59 L538.7,632.69 L538.4,632.78 L538.1,632.88 L537.8,632.97 L537.5,633.07 L537.2,633.17 L536.9,633.27 L536.6,633.37 L536.3,633.47 L536,633.57 L535.7,633.67 L535.4,633.78 L535.1,633.88 L534.8,633.99 L534.5,634.09 L534.2,634.2 L533.9,634.31 L533.6,634.42 L533.3,634.53 L533,634.64 L532.7,634.75 L532.4,634.87 L532.1,634.98 L531.8,635.09 L531.5,635.21 L531.2,635.33 L530.9,635.44 L530.6,635.56 L530.3,635.68 L530,635.8 L529.7,635.92 L529.4,636.04 L529.1,636.16 L528.8,636.28 L528.5,636.4 L528.2,636.53 L527.9,636.65 L527.6,636.78 L527.3,636.9 L527,637.03 L526.7,637.15 L526.4,637.28 L526.1,637.41 L525.8,637.54 L525.5,637.66 L525.2,637.79 L524.9,637.92 L524.6,638.05 L524.3,638.18 L524,638.31 L523.7,638.45 L523.4,638.58 L523.1,638.71 L522.8,638.84 L522.5,638.97 L522.2,639.11 L521.9,639.24 L521.6,639.37 L521.3,639.51 L521,639.64 L520.7,639.77 L520.4,639.91 L520.1,640.04 L519.8,640.18 L519.5,640.31 L519.2,640.45 L518.9,640.58 L518.6,640.71 L518.3,640.85 L518,640.98 L517.7,641.12 L517.4,641.25 L517.1,641.39 L516.8,641.52 L516.5,641.65 L516.2,641.79 L515.9,641.92 L515.6,642.06 L515.3,642.19 L515,642.32 L514.7,642.46 L514.4,642.59 L514.1,642.72 L513.8,642.85 L513.5,642.98 L513.2,643.12 L512.9,643.25 L512.6,643.38 L512.3,643.51 L512,643.64 L511.7,643.76 L511.4,643.89 L511.1,644.02 L510.8,644.15 L510.5,644.28 L510.2,644.4 L509.9,644.53 L509.6,644.65 L509.3,644.78 L509,644.9 L508.7,645.02 L508.4,645.15 L508.1,645.27 L507.8,645.39 L507.5,645.51 L507.2,645.63 L506.9,645.75 L506.6,645.87 L506.3,645.98 L506,646.1 L505.7,646.21 L505.4,646.33 L505.1,646.44 L504.8,646.55 L504.5,646.67 L504.2,646.78 L503.9,646.89 L503.6,646.99 L503.3,647.1 L503,647.21 L502.7,647.31 L502.4,647.42 L502.1,647.52 L501.8,647.63 L501.5,647.73 L501.2,647.83 L500.9,647.93 L500.6,648.02 L500.3,648.12 L500,648.22 L499.7,648.31 L499.4,648.41 L499.1,648.5 L498.8,648.59 L498.5,648.68 L498.2,648.77 L497.9,648.86 L497.6,648.94 L497.3,649.03 L497,649.11 L496.7,649.2 L496.4,649.28 L496.1,649.36 L495.8,649.44 L495.5,649.52 L495.2,649.59 L494.9,649.67 L494.6,649.74 L494.3,649.82 L494,649.89 L493.7,649.96 L493.4,650.03 L493.1,650.1 L492.8,650.16 L492.5,650.23 L492.2,650.29 L491.9,650.36 L491.6,650.42 L491.3,650.48 L491,650.54 L490.7,650.6 L490.4,650.65 L490.1,650.71 L489.8,650.76 L489.5,650.82 L489.2,650.87 L488.9,650.92 L488.6,650.97 L488.3,651.02 L488,651.06 L487.7,651.11 L487.4,651.15 L487.1,651.2 L486.8,651.24 L486.5,651.28 L486.2,651.32 L485.9,651.36 L485.6,651.39 L485.3,651.43 L485,651.47 L484.7,651.5 L484.4,651.53 L484.1,651.57 L483.8,651.6 L483.5,651.63 L483.2,651.65 L482.9,651.68 L482.6,651.71 L482.3,651.73 L482,651.76 L481.7,651.78 L481.4,651.8 L481.1,651.82 L480.8,651.85 L480.5,651.86 L480.2,651.88 L479.9,651.9 L479.6,651.92 L479.3,651.93 L479,651.95 L478.7,651.96 L478.4,651.98 L478.1,651.99 L477.8,652 L477.5,652.01 L477.2,652.02 L476.9,652.03 L476.6,652.04 L476.3,652.05 L476,652.05 L475.7,652.06 L475.4,652.07 L475.1,652.07 L474.8,652.08 L474.5,652.08 L474.2,652.09 L473.9,652.09 L473.6,652.09 L473.3,652.09 L473,652.1 L472.7,652.1 L472.4,652.1 L472.1,652.1 L471.8,652.1 L471.5,652.1 L471.2,652.1 L470.9,652.1 Z" fill="#c6d9ee"/>
<path d="M470.9,604 L471.2,604.95 L471.5,607.73 L471.8,612.11 L472.1,617.73 L472.4,624.14 L472.7,630.81 L473,637.21 L473.3,642.81 L473.6,647.15 L473.9,649.88 L474.2,650.79 L474.5,649.79 L474.8,646.97 L475.1,642.56 L475.4,636.91 L475.7,630.5 L476,623.84 L476.3,617.47 L476.6,611.91 L476.9,607.62 L477.2,604.94 L477.5,604.09 L477.8,605.13 L478.1,607.99 L478.4,612.42 L478.7,618.07 L479,624.47 L479.3,631.1 L479.6,637.42 L479.9,642.92 L480.2,647.15 L480.5,649.76 L480.8,650.55 L481.1,649.46 L481.4,646.58 L481.7,642.14 L482,636.51 L482.3,630.15 L482.6,623.58 L482.9,617.34 L483.2,611.93 L483.5,607.78 L483.8,605.25 L484.1,604.51 L484.4,605.65 L484.7,608.54 L485,612.97 L485.3,618.55 L485.6,624.84 L485.9,631.31 L486.2,637.45 L486.5,642.75 L486.8,646.78 L487.1,649.23 L487.4,649.89 L487.7,648.72 L488,645.83 L488.3,641.45 L488.6,635.94 L488.9,629.77 L489.2,623.42 L489.5,617.43 L489.8,612.28 L490.1,608.37 L490.4,606.04 L490.7,605.44 L491,606.64 L491.3,609.51 L491.6,613.82 L491.9,619.21 L492.2,625.24 L492.5,631.41 L492.8,637.22 L493.1,642.2 L493.4,645.94 L493.7,648.16 L494,648.68 L494.3,647.47 L494.6,644.64 L494.9,640.43 L495.2,635.18 L495.5,629.35 L495.8,623.39 L496.1,617.8 L496.4,613.04 L496.7,609.47 L497,607.38 L497.3,606.94 L497.6,608.16 L497.9,610.92 L498.2,615.01 L498.5,620.06 L498.8,625.67 L499.1,631.37 L499.4,636.7 L499.7,641.22 L500,644.59 L500.3,646.53 L500.6,646.9 L500.9,645.69 L501.2,643.01 L501.5,639.09 L501.8,634.26 L502.1,628.92 L502.4,623.51 L502.7,618.48 L503,614.22 L503.3,611.07 L503.6,609.28 L503.9,608.98 L504.2,610.18 L504.5,612.75 L504.8,616.49 L505.1,621.06 L505.4,626.09 L505.7,631.17 L506,635.88 L506.3,639.85 L506.6,642.76 L506.9,644.39 L507.2,644.62 L507.5,643.46 L507.8,641.01 L508.1,637.49 L508.4,633.2 L508.7,628.51 L509,623.78 L509.3,619.42 L509.6,615.76 L509.9,613.1 L510.2,611.63 L510.5,611.46 L510.8,612.59 L511.1,614.89 L511.4,618.17 L511.7,622.14 L512,626.48 L512.3,630.83 L512.6,634.83 L512.9,638.16 L513.2,640.57 L513.5,641.87 L513.8,641.98 L514.1,640.92 L514.4,638.77 L514.7,635.75 L515,632.1 L515.3,628.14 L515.6,624.19 L515.9,620.57 L516.2,617.57 L516.5,615.41 L516.8,614.27 L517.1,614.21 L517.4,615.21 L517.7,617.18 L518,619.94 L518.3,623.24 L518.6,626.82 L518.9,630.37 L519.2,633.61 L519.5,636.28 L519.8,638.18 L520.1,639.17 L520.4,639.19 L520.7,638.26 L521,636.47 L521.3,633.99 L521.6,631.03 L521.9,627.84 L522.2,624.69 L522.5,621.83 L522.8,619.48 L523.1,617.83 L523.4,616.98 L523.7,617 L524,617.85 L524.3,619.45 L524.6,621.66 L524.9,624.27 L525.2,627.08 L525.5,629.84 L525.8,632.33 L526.1,634.37 L526.4,635.79 L526.7,636.5 L527,636.46 L527.3,635.69 L527.6,634.27 L527.9,632.34 L528.2,630.06 L528.5,627.62 L528.8,625.24 L529.1,623.09 L529.4,621.35 L529.7,620.14 L530,619.55 L530.3,619.61 L530.6,620.3 L530.9,621.54 L531.2,623.21 L531.5,625.17 L531.8,627.26 L532.1,629.29 L532.4,631.11 L532.7,632.58 L533,633.59 L533.3,634.07 L533.6,634 L533.9,633.4 L534.2,632.33 L534.5,630.9 L534.8,629.24 L535.1,627.48 L535.4,625.77 L535.7,624.25 L536,623.03 L536.3,622.2 L536.6,621.81 L536.9,621.89 L537.2,622.41 L537.5,623.31 L537.8,624.51 L538.1,625.9 L538.4,627.37 L538.7,628.78 L539,630.04 L539.3,631.04 L539.6,631.71 L539.9,632.01 L540.2,631.93 L540.5,631.49 L540.8,630.74 L541.1,629.74 L541.4,628.6 L541.7,627.4 L542,626.24 L542.3,625.23 L542.6,624.42 L542.9,623.89 L543.2,623.65 L543.5,623.73 L543.8,624.1 L544.1,624.72 L544.4,625.53 L544.7,626.46 L545,627.42 L545.3,628.35 L545.6,629.16 L545.9,629.8 L546.2,630.22 L546.5,630.4 L546.8,630.33 L547.1,630.02 L547.4,629.52 L547.7,628.87 L548,628.13 L548.3,627.36 L548.6,626.63 L548.9,625.99 L549.2,625.5 L549.5,625.17 L549.8,625.04 L550.1,625.11 L550.4,625.35 L550.7,625.75 L551,626.26 L551.3,626.84 L551.6,627.44 L551.9,628.01 L552.2,628.5 L552.5,628.89 L552.8,629.13 L553.1,629.23 L553.4,629.17 L553.7,628.97 L554,628.66 L554.3,628.26 L554.6,627.82 L554.9,627.36 L555.2,626.92 L555.5,626.55 L555.8,626.26 L556.1,626.08 L556.4,626.01 L556.7,626.06 L557,626.21 L557.3,626.45 L557.6,626.75 L557.9,627.09 L558.2,627.44 L558.5,627.77 L558.8,628.05 L559.1,628.26 L559.4,628.39 L559.7,628.44 L560,628.4 L560.3,628.28 L560.6,628.1 L560.9,627.87 L561.2,627.62 L561.5,627.36 L561.8,627.12 L562.1,626.92 L562.4,626.76 L562.7,626.67 L563,626.64 L563.3,626.67 L563.6,626.76 L563.9,626.89 L564.2,627.06 L564.5,627.24 L564.8,627.43 L565.1,627.6 L565.4,627.75 L565.7,627.86 L566,627.93 L566.3,627.95 L566.6,627.93 L566.9,627.86 L567.2,627.76 L567.5,627.64 L567.8,627.51 L568.1,627.38 L568.4,627.25 L568.7,627.15 L569,627.07 L569.3,627.02 L569.6,627.01 L569.9,627.03 L570.2,627.08 L570.5,627.15 L570.8,627.23 L571.1,627.33 L571.4,627.42 L571.7,627.51 L572,627.58 L572.3,627.63 L572.6,627.66 L572.9,627.67 L573.2,627.66 L573.5,627.62 L573.8,627.57 L574.1,627.51 L574.4,627.45 L574.7,627.39 L575,627.33 L575.3,627.28 L575.6,627.24 L575.9,627.22 L576.2,627.22 L576.5,627.23 L576.8,627.25 L577.1,627.28 L577.4,627.32 L577.7,627.37 L578,627.41 L578.3,627.45 L578.6,627.48 L578.9,627.51 L579.2,627.52 L579.5,627.52 L579.8,627.52 L580.1,627.5 L580.4,627.48 L580.7,627.45 L581,627.42 L581.3,627.39 L581.6,627.37 L581.9,627.34 L582.2,627.33 L582.5,627.32 L582.8,627.32 L583.1,627.32 L583.4,627.34 L583.7,627.35 L584,627.37 L584.3,627.39 L584.6,627.41 L584.9,627.42 L585.2,627.44 L585.5,627.45 L585.8,627.45 L586.1,627.45 L586.4,627.45 L586.7,627.44 L587,627.43 L587.3,627.42 L587.6,627.41 L587.9,627.4 L588.2,627.39 L588.5,627.38 L588.8,627.37 L589.1,627.37 L589.4,627.37 L589.7,627.37 L590,627.37 L590.3,627.38 L590.6,627.39 L590.9,627.4 L591.2,627.4 L591.5,627.41 L591.8,627.41 L592.1,627.42 L592.4,627.42 L592.7,627.42 L593,627.42 L593.3,627.42 L593.6,627.41 L593.9,627.41 L594.2,627.4 L594.5,627.4 L594.8,627.39 L595.1,627.39 L595.4,627.39 L595.7,627.39 L596,627.39 L596.3,627.39 L596.6,627.39 L596.9,627.39 L597.2,627.4 L597.5,627.4 L597.8,627.4 L598.1,627.4 L598.4,627.41 L598.7,627.41 L599,627.41 L599.3,627.41 L599.6,627.41 L599.9,627.41 L600.2,627.4 L600.5,627.4 L600.8,627.4 L601.1,627.4 L601.4,627.4 L601.7,627.4 L602,627.4 L602.3,627.4 L602.6,627.4 L602.9,627.4 L603.2,627.4 L603.5,627.4 L603.8,627.4 L604.1,627.4 L604.4,627.4 L604.7,627.4 L605,627.4 L605.3,627.4 L605.6,627.4 L605.9,627.4 L606.2,627.4 L606.5,627.4 L606.8,627.4 L607.1,627.4 L607.4,627.4 L607.7,627.4 L608,627.4 L608.3,627.4 L608.6,627.4 L608.9,627.4 L609.2,627.4 L609.5,627.4 L609.8,627.4 L610.1,627.4 L610.4,627.4 L610.7,627.4 L611,627.4 L611.3,627.4 L611.6,627.4 L611.9,627.4 L612.2,627.4 L612.5,627.4 L612.8,627.4 L613.1,627.4 L613.4,627.4 L613.7,627.4 L614,627.4 L614.3,627.4 L614.6,627.4 L614.9,627.4 L615.2,627.4 L615.5,627.4 L615.8,627.4 L616.1,627.4 L616.4,627.4 L616.7,627.4 L617,627.4 L617.3,627.4 L617.6,627.4 L617.9,627.4 L618.2,627.4 L618.5,627.4 L618.8,627.4 L619.1,627.4 L619.4,627.4 L619.7,627.4 L620,627.4 L620.3,627.4 L620.6,627.4 L620.9,627.4 L621.2,627.4 L621.5,627.4 L621.8,627.4 L622.1,627.4 L622.4,627.4 L622.7,627.4 L623,627.4 L623.3,627.4 L623.6,627.4 L623.9,627.4 L624.2,627.4 L624.5,627.4 L624.8,627.4 L625.1,627.4 L625.4,627.4 L625.7,627.4 L626,627.4 L626.3,627.4 L626.6,627.4 L626.9,627.4 L627.2,627.4 L627.5,627.4 L627.8,627.4 L628.1,627.4 L628.4,627.4 L628.7,627.4 L629,627.4 L629.3,627.4 L629.6,627.4 L629.9,627.4 L630.2,627.4 L630.5,627.4 L630.8,627.4 L631.1,627.4 L631.4,627.4 L631.7,627.4 L632,627.4 L632.3,627.4 L632.6,627.4 L632.9,627.4 L633.2,627.4 L633.5,627.4 L633.8,627.4 L634.1,627.4 L634.4,627.4 L634.7,627.4 L635,627.4 L635.3,627.4 L635.6,627.4 L635.9,627.4 L636.2,627.4 L636.5,627.4 L636.8,627.4 L637.1,627.4 L637.4,627.4 L637.7,627.4 L638,627.4 L638.3,627.4 L638.6,627.4 L638.9,627.4 L639.2,627.4 L639.5,627.4 L639.8,627.4 L640.1,627.4 L640.4,627.4 L640.7,627.4 L641,627.4 L641.3,627.4 L641.6,627.4 L641.9,627.4 L642.2,627.4 L642.5,627.4 L642.8,627.4 L643.1,627.4 L643.4,627.4 L643.7,627.4 L644,627.4 L644.3,627.4 L644.6,627.4 L644.9,627.4 L645.2,627.4 L645.5,627.4 L645.8,627.4 L646.1,627.4 L646.4,627.4 L646.7,627.4 L647,627.4 L647.3,627.4 L647.6,627.4 L647.9,627.4 L648.2,627.4 L648.5,627.4 L648.8,627.4 L649.1,627.4 L649.4,627.4 L649.7,627.4 L650,627.4 L650.3,627.4 L650.6,627.4 L650.9,627.4 L651.2,627.4 L651.5,627.4 L651.8,627.4 L652.1,627.4 L652.4,627.4 L652.7,627.4 L653,627.4 L653.3,627.4 L653.6,627.4 L653.9,627.4 L654.2,627.4 L654.5,627.4 L654.8,627.4 L655.1,627.4 L655.4,627.4 L655.7,627.4 L656,627.4 L656.3,627.4 L656.6,627.4 L656.9,627.4 L657.2,627.4 L657.5,627.4 L657.8,627.4 L658.1,627.4 L658.4,627.4 L658.7,627.4 L659,627.4 L659.3,627.4 L659.6,627.4 L659.9,627.4 L660.2,627.4 L660.5,627.4 L660.8,627.4 L661.1,627.4 L661.4,627.4 L661.7,627.4 L662,627.4 L662.3,627.4 L662.6,627.4 L662.9,627.4 L663.2,627.4 L663.5,627.4 L663.8,627.4 L664.1,627.4 L664.4,627.4 L664.7,627.4 L665,627.4 L665.3,627.4 L665.6,627.4 L665.9,627.4 L666.2,627.4 L666.5,627.4 L666.8,627.4 L667.1,627.4" stroke="#2e62a0" stroke-width="2.7" fill="none" stroke-linejoin="round"/>
<path d="M470.9,661.6 L471.2,661.6 L471.5,661.6 L471.8,661.6 L472.1,661.6 L472.4,661.6 L472.7,661.6 L473,661.6 L473.3,661.61 L473.6,661.61 L473.9,661.61 L474.2,661.62 L474.5,661.62 L474.8,661.62 L475.1,661.63 L475.4,661.63 L475.7,661.64 L476,661.65 L476.3,661.65 L476.6,661.66 L476.9,661.67 L477.2,661.68 L477.5,661.69 L477.8,661.7 L478.1,661.72 L478.4,661.73 L478.7,661.74 L479,661.76 L479.3,661.77 L479.6,661.79 L479.9,661.81 L480.2,661.82 L480.5,661.84 L480.8,661.86 L481.1,661.88 L481.4,661.91 L481.7,661.93 L482,661.95 L482.3,661.98 L482.6,662 L482.9,662.03 L483.2,662.06 L483.5,662.09 L483.8,662.12 L484.1,662.15 L484.4,662.18 L484.7,662.22 L485,662.25 L485.3,662.29 L485.6,662.33 L485.9,662.37 L486.2,662.41 L486.5,662.45 L486.8,662.49 L487.1,662.53 L487.4,662.58 L487.7,662.62 L488,662.67 L488.3,662.72 L488.6,662.77 L488.9,662.82 L489.2,662.87 L489.5,662.92 L489.8,662.98 L490.1,663.04 L490.4,663.09 L490.7,663.15 L491,663.21 L491.3,663.27 L491.6,663.33 L491.9,663.4 L492.2,663.46 L492.5,663.53 L492.8,663.6 L493.1,663.67 L493.4,663.74 L493.7,663.81 L494,663.88 L494.3,663.95 L494.6,664.03 L494.9,664.11 L495.2,664.18 L495.5,664.26 L495.8,664.34 L496.1,664.42 L496.4,664.51 L496.7,664.59 L497,664.68 L497.3,664.76 L497.6,664.85 L497.9,664.94 L498.2,665.03 L498.5,665.12 L498.8,665.21 L499.1,665.31 L499.4,665.4 L499.7,665.5 L500,665.6 L500.3,665.7 L500.6,665.8 L500.9,665.9 L501.2,666 L501.5,666.1 L501.8,666.21 L502.1,666.31 L502.4,666.42 L502.7,666.52 L503,666.63 L503.3,666.74 L503.6,666.85 L503.9,666.96 L504.2,667.08 L504.5,667.19 L504.8,667.3 L505.1,667.42 L505.4,667.53 L505.7,667.65 L506,667.77 L506.3,667.89 L506.6,668.01 L506.9,668.13 L507.2,668.25 L507.5,668.37 L507.8,668.49 L508.1,668.62 L508.4,668.74 L508.7,668.87 L509,668.99 L509.3,669.12 L509.6,669.25 L509.9,669.37 L510.2,669.5 L510.5,669.63 L510.8,669.76 L511.1,669.89 L511.4,670.02 L511.7,670.15 L512,670.28 L512.3,670.42 L512.6,670.55 L512.9,670.68 L513.2,670.81 L513.5,670.95 L513.8,671.08 L514.1,671.22 L514.4,671.35 L514.7,671.48 L515,671.62 L515.3,671.75 L515.6,671.89 L515.9,672.03 L516.2,672.16 L516.5,672.3 L516.8,672.43 L517.1,672.57 L517.4,672.71 L517.7,672.84 L518,672.98 L518.3,673.11 L518.6,673.25 L518.9,673.39 L519.2,673.52 L519.5,673.66 L519.8,673.79 L520.1,673.93 L520.4,674.07 L520.7,674.2 L521,674.34 L521.3,674.47 L521.6,674.61 L521.9,674.74 L522.2,674.87 L522.5,675.01 L522.8,675.14 L523.1,675.27 L523.4,675.41 L523.7,675.54 L524,675.67 L524.3,675.8 L524.6,675.93 L524.9,676.06 L525.2,676.19 L525.5,676.32 L525.8,676.45 L526.1,676.58 L526.4,676.71 L526.7,676.84 L527,676.96 L527.3,677.09 L527.6,677.21 L527.9,677.34 L528.2,677.46 L528.5,677.59 L528.8,677.71 L529.1,677.83 L529.4,677.95 L529.7,678.07 L530,678.19 L530.3,678.31 L530.6,678.43 L530.9,678.54 L531.2,678.66 L531.5,678.78 L531.8,678.89 L532.1,679.01 L532.4,679.12 L532.7,679.23 L533,679.34 L533.3,679.45 L533.6,679.56 L533.9,679.67 L534.2,679.78 L534.5,679.88 L534.8,679.99 L535.1,680.09 L535.4,680.2 L535.7,680.3 L536,680.4 L536.3,680.5 L536.6,680.6 L536.9,680.7 L537.2,680.8 L537.5,680.9 L537.8,680.99 L538.1,681.09 L538.4,681.18 L538.7,681.27 L539,681.36 L539.3,681.45 L539.6,681.54 L539.9,681.63 L540.2,681.72 L540.5,681.81 L540.8,681.89 L541.1,681.98 L541.4,682.06 L541.7,682.14 L542,682.22 L542.3,682.3 L542.6,682.38 L542.9,682.46 L543.2,682.54 L543.5,682.61 L543.8,682.69 L544.1,682.76 L544.4,682.83 L544.7,682.9 L545,682.98 L545.3,683.05 L545.6,683.11 L545.9,683.18 L546.2,683.25 L546.5,683.31 L546.8,683.38 L547.1,683.44 L547.4,683.5 L547.7,683.57 L548,683.63 L548.3,683.69 L548.6,683.74 L548.9,683.8 L549.2,683.86 L549.5,683.92 L549.8,683.97 L550.1,684.02 L550.4,684.08 L550.7,684.13 L551,684.18 L551.3,684.23 L551.6,684.28 L551.9,684.33 L552.2,684.38 L552.5,684.42 L552.8,684.47 L553.1,684.51 L553.4,684.56 L553.7,684.6 L554,684.64 L554.3,684.68 L554.6,684.73 L554.9,684.77 L555.2,684.8 L555.5,684.84 L555.8,684.88 L556.1,684.92 L556.4,684.95 L556.7,684.99 L557,685.02 L557.3,685.06 L557.6,685.09 L557.9,685.12 L558.2,685.15 L558.5,685.19 L558.8,685.22 L559.1,685.25 L559.4,685.28 L559.7,685.3 L560,685.33 L560.3,685.36 L560.6,685.39 L560.9,685.41 L561.2,685.44 L561.5,685.46 L561.8,685.49 L562.1,685.51 L562.4,685.53 L562.7,685.55 L563,685.58 L563.3,685.6 L563.6,685.62 L563.9,685.64 L564.2,685.66 L564.5,685.68 L564.8,685.7 L565.1,685.72 L565.4,685.73 L565.7,685.75 L566,685.77 L566.3,685.78 L566.6,685.8 L566.9,685.82 L567.2,685.83 L567.5,685.85 L567.8,685.86 L568.1,685.87 L568.4,685.89 L568.7,685.9 L569,685.91 L569.3,685.93 L569.6,685.94 L569.9,685.95 L570.2,685.96 L570.5,685.97 L570.8,685.98 L571.1,686 L571.4,686.01 L571.7,686.02 L572,686.03 L572.3,686.03 L572.6,686.04 L572.9,686.05 L573.2,686.06 L573.5,686.07 L573.8,686.08 L574.1,686.09 L574.4,686.09 L574.7,686.1 L575,686.11 L575.3,686.11 L575.6,686.12 L575.9,686.13 L576.2,686.13 L576.5,686.14 L576.8,686.15 L577.1,686.15 L577.4,686.16 L577.7,686.16 L578,686.17 L578.3,686.17 L578.6,686.18 L578.9,686.18 L579.2,686.19 L579.5,686.19 L579.8,686.19 L580.1,686.2 L580.4,686.2 L580.7,686.21 L581,686.21 L581.3,686.21 L581.6,686.22 L581.9,686.22 L582.2,686.22 L582.5,686.23 L582.8,686.23 L583.1,686.23 L583.4,686.23 L583.7,686.24 L584,686.24 L584.3,686.24 L584.6,686.24 L584.9,686.25 L585.2,686.25 L585.5,686.25 L585.8,686.25 L586.1,686.26 L586.4,686.26 L586.7,686.26 L587,686.26 L587.3,686.26 L587.6,686.26 L587.9,686.27 L588.2,686.27 L588.5,686.27 L588.8,686.27 L589.1,686.27 L589.4,686.27 L589.7,686.27 L590,686.27 L590.3,686.28 L590.6,686.28 L590.9,686.28 L591.2,686.28 L591.5,686.28 L591.8,686.28 L592.1,686.28 L592.4,686.28 L592.7,686.28 L593,686.28 L593.3,686.28 L593.6,686.29 L593.9,686.29 L594.2,686.29 L594.5,686.29 L594.8,686.29 L595.1,686.29 L595.4,686.29 L595.7,686.29 L596,686.29 L596.3,686.29 L596.6,686.29 L596.9,686.29 L597.2,686.29 L597.5,686.29 L597.8,686.29 L598.1,686.29 L598.4,686.29 L598.7,686.29 L599,686.29 L599.3,686.29 L599.6,686.29 L599.9,686.29 L600.2,686.3 L600.5,686.3 L600.8,686.3 L601.1,686.3 L601.4,686.3 L601.7,686.3 L602,686.3 L602.3,686.3 L602.6,686.3 L602.9,686.3 L603.2,686.3 L603.5,686.3 L603.8,686.3 L604.1,686.3 L604.4,686.3 L604.7,686.3 L605,686.3 L605.3,686.3 L605.6,686.3 L605.9,686.3 L606.2,686.3 L606.5,686.3 L606.8,686.3 L607.1,686.3 L607.4,686.3 L607.7,686.3 L608,686.3 L608.3,686.3 L608.6,686.3 L608.9,686.3 L609.2,686.3 L609.5,686.3 L609.8,686.3 L610.1,686.3 L610.4,686.3 L610.7,686.3 L611,686.3 L611.3,686.3 L611.6,686.3 L611.9,686.3 L612.2,686.3 L612.5,686.3 L612.8,686.3 L613.1,686.3 L613.4,686.3 L613.7,686.3 L614,686.3 L614.3,686.3 L614.6,686.3 L614.9,686.3 L615.2,686.3 L615.5,686.3 L615.8,686.3 L616.1,686.3 L616.4,686.3 L616.7,686.3 L617,686.3 L617.3,686.3 L617.6,686.3 L617.9,686.3 L618.2,686.3 L618.5,686.3 L618.8,686.3 L619.1,686.3 L619.4,686.3 L619.7,686.3 L620,686.3 L620.3,686.3 L620.6,686.3 L620.9,686.3 L621.2,686.3 L621.5,686.3 L621.8,686.3 L622.1,686.3 L622.4,686.3 L622.7,686.3 L623,686.3 L623.3,686.3 L623.6,686.3 L623.9,686.3 L624.2,686.3 L624.5,686.3 L624.8,686.3 L625.1,686.3 L625.4,686.3 L625.7,686.3 L626,686.3 L626.3,686.3 L626.6,686.3 L626.9,686.3 L627.2,686.3 L627.5,686.3 L627.8,686.3 L628.1,686.3 L628.4,686.3 L628.7,686.3 L629,686.3 L629.3,686.3 L629.6,686.3 L629.9,686.3 L630.2,686.3 L630.5,686.3 L630.8,686.3 L631.1,686.3 L631.4,686.3 L631.7,686.3 L632,686.3 L632.3,686.3 L632.6,686.3 L632.9,686.3 L633.2,686.3 L633.5,686.3 L633.8,686.3 L634.1,686.3 L634.4,686.3 L634.7,686.3 L635,686.3 L635.3,686.3 L635.6,686.3 L635.9,686.3 L636.2,686.3 L636.5,686.3 L636.8,686.3 L637.1,686.3 L637.4,686.3 L637.7,686.3 L638,686.3 L638.3,686.3 L638.6,686.3 L638.9,686.3 L639.2,686.3 L639.5,686.3 L639.8,686.3 L640.1,686.3 L640.4,686.3 L640.7,686.3 L641,686.3 L641.3,686.3 L641.6,686.3 L641.9,686.3 L642.2,686.3 L642.5,686.3 L642.8,686.3 L643.1,686.3 L643.4,686.3 L643.7,686.3 L644,686.3 L644.3,686.3 L644.6,686.3 L644.9,686.3 L645.2,686.3 L645.5,686.3 L645.8,686.3 L646.1,686.3 L646.4,686.3 L646.7,686.3 L647,686.3 L647.3,686.3 L647.6,686.3 L647.9,686.3 L648.2,686.3 L648.5,686.3 L648.8,686.3 L649.1,686.3 L649.4,686.3 L649.7,686.3 L650,686.3 L650.3,686.3 L650.6,686.3 L650.9,686.3 L651.2,686.3 L651.5,686.3 L651.8,686.3 L652.1,686.3 L652.4,686.3 L652.7,686.3 L653,686.3 L653.3,686.3 L653.6,686.3 L653.9,686.3 L654.2,686.3 L654.5,686.3 L654.8,686.3 L655.1,686.3 L655.4,686.3 L655.7,686.3 L656,686.3 L656.3,686.3 L656.6,686.3 L656.9,686.3 L657.2,686.3 L657.5,686.3 L657.8,686.3 L658.1,686.3 L658.4,686.3 L658.7,686.3 L659,686.3 L659.3,686.3 L659.6,686.3 L659.9,686.3 L660.2,686.3 L660.5,686.3 L660.8,686.3 L661.1,686.3 L661.4,686.3 L661.7,686.3 L662,686.3 L662.3,686.3 L662.6,686.3 L662.9,686.3 L663.2,686.3 L663.5,686.3 L663.8,686.3 L664.1,686.3 L664.4,686.3 L664.7,686.3 L665,686.3 L665.3,686.3 L665.6,686.3 L665.9,686.3 L666.2,686.3 L666.5,686.3 L666.8,686.3 L667.1,686.3 L667.1,686.3 L666.8,686.3 L666.5,686.3 L666.2,686.3 L665.9,686.3 L665.6,686.3 L665.3,686.3 L665,686.3 L664.7,686.3 L664.4,686.3 L664.1,686.3 L663.8,686.3 L663.5,686.3 L663.2,686.3 L662.9,686.3 L662.6,686.3 L662.3,686.3 L662,686.3 L661.7,686.3 L661.4,686.3 L661.1,686.3 L660.8,686.3 L660.5,686.3 L660.2,686.3 L659.9,686.3 L659.6,686.3 L659.3,686.3 L659,686.3 L658.7,686.3 L658.4,686.3 L658.1,686.3 L657.8,686.3 L657.5,686.3 L657.2,686.3 L656.9,686.3 L656.6,686.3 L656.3,686.3 L656,686.3 L655.7,686.3 L655.4,686.3 L655.1,686.3 L654.8,686.3 L654.5,686.3 L654.2,686.3 L653.9,686.3 L653.6,686.3 L653.3,686.3 L653,686.3 L652.7,686.3 L652.4,686.3 L652.1,686.3 L651.8,686.3 L651.5,686.3 L651.2,686.3 L650.9,686.3 L650.6,686.3 L650.3,686.3 L650,686.3 L649.7,686.3 L649.4,686.3 L649.1,686.3 L648.8,686.3 L648.5,686.3 L648.2,686.3 L647.9,686.3 L647.6,686.3 L647.3,686.3 L647,686.3 L646.7,686.3 L646.4,686.3 L646.1,686.3 L645.8,686.3 L645.5,686.3 L645.2,686.3 L644.9,686.3 L644.6,686.3 L644.3,686.3 L644,686.3 L643.7,686.3 L643.4,686.3 L643.1,686.3 L642.8,686.3 L642.5,686.3 L642.2,686.3 L641.9,686.3 L641.6,686.3 L641.3,686.3 L641,686.3 L640.7,686.3 L640.4,686.3 L640.1,686.3 L639.8,686.3 L639.5,686.3 L639.2,686.3 L638.9,686.3 L638.6,686.3 L638.3,686.3 L638,686.3 L637.7,686.3 L637.4,686.3 L637.1,686.3 L636.8,686.3 L636.5,686.3 L636.2,686.3 L635.9,686.3 L635.6,686.3 L635.3,686.3 L635,686.3 L634.7,686.3 L634.4,686.3 L634.1,686.3 L633.8,686.3 L633.5,686.3 L633.2,686.3 L632.9,686.3 L632.6,686.3 L632.3,686.3 L632,686.3 L631.7,686.3 L631.4,686.3 L631.1,686.3 L630.8,686.3 L630.5,686.3 L630.2,686.3 L629.9,686.3 L629.6,686.3 L629.3,686.3 L629,686.3 L628.7,686.3 L628.4,686.3 L628.1,686.3 L627.8,686.3 L627.5,686.3 L627.2,686.3 L626.9,686.3 L626.6,686.3 L626.3,686.3 L626,686.3 L625.7,686.3 L625.4,686.3 L625.1,686.3 L624.8,686.3 L624.5,686.3 L624.2,686.3 L623.9,686.3 L623.6,686.3 L623.3,686.3 L623,686.3 L622.7,686.3 L622.4,686.3 L622.1,686.3 L621.8,686.3 L621.5,686.3 L621.2,686.3 L620.9,686.3 L620.6,686.3 L620.3,686.3 L620,686.3 L619.7,686.3 L619.4,686.3 L619.1,686.3 L618.8,686.3 L618.5,686.3 L618.2,686.3 L617.9,686.3 L617.6,686.3 L617.3,686.3 L617,686.3 L616.7,686.3 L616.4,686.3 L616.1,686.3 L615.8,686.3 L615.5,686.3 L615.2,686.3 L614.9,686.3 L614.6,686.3 L614.3,686.3 L614,686.3 L613.7,686.3 L613.4,686.3 L613.1,686.3 L612.8,686.3 L612.5,686.3 L612.2,686.3 L611.9,686.3 L611.6,686.3 L611.3,686.3 L611,686.3 L610.7,686.3 L610.4,686.3 L610.1,686.3 L609.8,686.3 L609.5,686.3 L609.2,686.3 L608.9,686.3 L608.6,686.3 L608.3,686.3 L608,686.3 L607.7,686.3 L607.4,686.3 L607.1,686.3 L606.8,686.3 L606.5,686.3 L606.2,686.3 L605.9,686.3 L605.6,686.3 L605.3,686.3 L605,686.3 L604.7,686.3 L604.4,686.3 L604.1,686.3 L603.8,686.3 L603.5,686.3 L603.2,686.3 L602.9,686.3 L602.6,686.3 L602.3,686.3 L602,686.3 L601.7,686.3 L601.4,686.3 L601.1,686.3 L600.8,686.3 L600.5,686.3 L600.2,686.3 L599.9,686.31 L599.6,686.31 L599.3,686.31 L599,686.31 L598.7,686.31 L598.4,686.31 L598.1,686.31 L597.8,686.31 L597.5,686.31 L597.2,686.31 L596.9,686.31 L596.6,686.31 L596.3,686.31 L596,686.31 L595.7,686.31 L595.4,686.31 L595.1,686.31 L594.8,686.31 L594.5,686.31 L594.2,686.31 L593.9,686.31 L593.6,686.31 L593.3,686.32 L593,686.32 L592.7,686.32 L592.4,686.32 L592.1,686.32 L591.8,686.32 L591.5,686.32 L591.2,686.32 L590.9,686.32 L590.6,686.32 L590.3,686.32 L590,686.33 L589.7,686.33 L589.4,686.33 L589.1,686.33 L588.8,686.33 L588.5,686.33 L588.2,686.33 L587.9,686.33 L587.6,686.34 L587.3,686.34 L587,686.34 L586.7,686.34 L586.4,686.34 L586.1,686.34 L585.8,686.35 L585.5,686.35 L585.2,686.35 L584.9,686.35 L584.6,686.36 L584.3,686.36 L584,686.36 L583.7,686.36 L583.4,686.37 L583.1,686.37 L582.8,686.37 L582.5,686.37 L582.2,686.38 L581.9,686.38 L581.6,686.38 L581.3,686.39 L581,686.39 L580.7,686.39 L580.4,686.4 L580.1,686.4 L579.8,686.41 L579.5,686.41 L579.2,686.41 L578.9,686.42 L578.6,686.42 L578.3,686.43 L578,686.43 L577.7,686.44 L577.4,686.44 L577.1,686.45 L576.8,686.45 L576.5,686.46 L576.2,686.47 L575.9,686.47 L575.6,686.48 L575.3,686.49 L575,686.49 L574.7,686.5 L574.4,686.51 L574.1,686.51 L573.8,686.52 L573.5,686.53 L573.2,686.54 L572.9,686.55 L572.6,686.56 L572.3,686.57 L572,686.57 L571.7,686.58 L571.4,686.59 L571.1,686.6 L570.8,686.62 L570.5,686.63 L570.2,686.64 L569.9,686.65 L569.6,686.66 L569.3,686.67 L569,686.69 L568.7,686.7 L568.4,686.71 L568.1,686.73 L567.8,686.74 L567.5,686.75 L567.2,686.77 L566.9,686.78 L566.6,686.8 L566.3,686.82 L566,686.83 L565.7,686.85 L565.4,686.87 L565.1,686.88 L564.8,686.9 L564.5,686.92 L564.2,686.94 L563.9,686.96 L563.6,686.98 L563.3,687 L563,687.02 L562.7,687.05 L562.4,687.07 L562.1,687.09 L561.8,687.11 L561.5,687.14 L561.2,687.16 L560.9,687.19 L560.6,687.21 L560.3,687.24 L560,687.27 L559.7,687.3 L559.4,687.32 L559.1,687.35 L558.8,687.38 L558.5,687.41 L558.2,687.45 L557.9,687.48 L557.6,687.51 L557.3,687.54 L557,687.58 L556.7,687.61 L556.4,687.65 L556.1,687.68 L555.8,687.72 L555.5,687.76 L555.2,687.8 L554.9,687.83 L554.6,687.87 L554.3,687.92 L554,687.96 L553.7,688 L553.4,688.04 L553.1,688.09 L552.8,688.13 L552.5,688.18 L552.2,688.22 L551.9,688.27 L551.6,688.32 L551.3,688.37 L551,688.42 L550.7,688.47 L550.4,688.52 L550.1,688.58 L549.8,688.63 L549.5,688.68 L549.2,688.74 L548.9,688.8 L548.6,688.86 L548.3,688.91 L548,688.97 L547.7,689.03 L547.4,689.1 L547.1,689.16 L546.8,689.22 L546.5,689.29 L546.2,689.35 L545.9,689.42 L545.6,689.49 L545.3,689.55 L545,689.62 L544.7,689.7 L544.4,689.77 L544.1,689.84 L543.8,689.91 L543.5,689.99 L543.2,690.06 L542.9,690.14 L542.6,690.22 L542.3,690.3 L542,690.38 L541.7,690.46 L541.4,690.54 L541.1,690.62 L540.8,690.71 L540.5,690.79 L540.2,690.88 L539.9,690.97 L539.6,691.06 L539.3,691.15 L539,691.24 L538.7,691.33 L538.4,691.42 L538.1,691.51 L537.8,691.61 L537.5,691.7 L537.2,691.8 L536.9,691.9 L536.6,692 L536.3,692.1 L536,692.2 L535.7,692.3 L535.4,692.4 L535.1,692.51 L534.8,692.61 L534.5,692.72 L534.2,692.82 L533.9,692.93 L533.6,693.04 L533.3,693.15 L533,693.26 L532.7,693.37 L532.4,693.48 L532.1,693.59 L531.8,693.71 L531.5,693.82 L531.2,693.94 L530.9,694.06 L530.6,694.17 L530.3,694.29 L530,694.41 L529.7,694.53 L529.4,694.65 L529.1,694.77 L528.8,694.89 L528.5,695.01 L528.2,695.14 L527.9,695.26 L527.6,695.39 L527.3,695.51 L527,695.64 L526.7,695.76 L526.4,695.89 L526.1,696.02 L525.8,696.15 L525.5,696.28 L525.2,696.41 L524.9,696.54 L524.6,696.67 L524.3,696.8 L524,696.93 L523.7,697.06 L523.4,697.19 L523.1,697.33 L522.8,697.46 L522.5,697.59 L522.2,697.73 L521.9,697.86 L521.6,697.99 L521.3,698.13 L521,698.26 L520.7,698.4 L520.4,698.53 L520.1,698.67 L519.8,698.81 L519.5,698.94 L519.2,699.08 L518.9,699.21 L518.6,699.35 L518.3,699.49 L518,699.62 L517.7,699.76 L517.4,699.89 L517.1,700.03 L516.8,700.17 L516.5,700.3 L516.2,700.44 L515.9,700.57 L515.6,700.71 L515.3,700.85 L515,700.98 L514.7,701.12 L514.4,701.25 L514.1,701.38 L513.8,701.52 L513.5,701.65 L513.2,701.79 L512.9,701.92 L512.6,702.05 L512.3,702.18 L512,702.32 L511.7,702.45 L511.4,702.58 L511.1,702.71 L510.8,702.84 L510.5,702.97 L510.2,703.1 L509.9,703.23 L509.6,703.35 L509.3,703.48 L509,703.61 L508.7,703.73 L508.4,703.86 L508.1,703.98 L507.8,704.11 L507.5,704.23 L507.2,704.35 L506.9,704.47 L506.6,704.59 L506.3,704.71 L506,704.83 L505.7,704.95 L505.4,705.07 L505.1,705.18 L504.8,705.3 L504.5,705.41 L504.2,705.52 L503.9,705.64 L503.6,705.75 L503.3,705.86 L503,705.97 L502.7,706.08 L502.4,706.18 L502.1,706.29 L501.8,706.39 L501.5,706.5 L501.2,706.6 L500.9,706.7 L500.6,706.8 L500.3,706.9 L500,707 L499.7,707.1 L499.4,707.2 L499.1,707.29 L498.8,707.39 L498.5,707.48 L498.2,707.57 L497.9,707.66 L497.6,707.75 L497.3,707.84 L497,707.92 L496.7,708.01 L496.4,708.09 L496.1,708.18 L495.8,708.26 L495.5,708.34 L495.2,708.42 L494.9,708.49 L494.6,708.57 L494.3,708.65 L494,708.72 L493.7,708.79 L493.4,708.86 L493.1,708.93 L492.8,709 L492.5,709.07 L492.2,709.14 L491.9,709.2 L491.6,709.27 L491.3,709.33 L491,709.39 L490.7,709.45 L490.4,709.51 L490.1,709.56 L489.8,709.62 L489.5,709.68 L489.2,709.73 L488.9,709.78 L488.6,709.83 L488.3,709.88 L488,709.93 L487.7,709.98 L487.4,710.02 L487.1,710.07 L486.8,710.11 L486.5,710.15 L486.2,710.19 L485.9,710.23 L485.6,710.27 L485.3,710.31 L485,710.35 L484.7,710.38 L484.4,710.42 L484.1,710.45 L483.8,710.48 L483.5,710.51 L483.2,710.54 L482.9,710.57 L482.6,710.6 L482.3,710.62 L482,710.65 L481.7,710.67 L481.4,710.69 L481.1,710.72 L480.8,710.74 L480.5,710.76 L480.2,710.78 L479.9,710.79 L479.6,710.81 L479.3,710.83 L479,710.84 L478.7,710.86 L478.4,710.87 L478.1,710.88 L477.8,710.9 L477.5,710.91 L477.2,710.92 L476.9,710.93 L476.6,710.94 L476.3,710.95 L476,710.95 L475.7,710.96 L475.4,710.97 L475.1,710.97 L474.8,710.98 L474.5,710.98 L474.2,710.98 L473.9,710.99 L473.6,710.99 L473.3,710.99 L473,711 L472.7,711 L472.4,711 L472.1,711 L471.8,711 L471.5,711 L471.2,711 L470.9,711 Z" fill="#f8c5c3"/>
<path d="M470.9,662.9 L471.2,663.85 L471.5,666.63 L471.8,671.01 L472.1,676.63 L472.4,683.04 L472.7,689.71 L473,696.11 L473.3,701.71 L473.6,706.05 L473.9,708.78 L474.2,709.69 L474.5,708.69 L474.8,705.87 L475.1,701.46 L475.4,695.81 L475.7,689.4 L476,682.74 L476.3,676.37 L476.6,670.81 L476.9,666.52 L477.2,663.84 L477.5,662.99 L477.8,664.04 L478.1,666.89 L478.4,671.32 L478.7,676.97 L479,683.37 L479.3,690 L479.6,696.32 L479.9,701.81 L480.2,706.04 L480.5,708.65 L480.8,709.45 L481.1,708.35 L481.4,705.47 L481.7,701.03 L482,695.41 L482.3,689.05 L482.6,682.49 L482.9,676.24 L483.2,670.83 L483.5,666.7 L483.8,664.16 L484.1,663.43 L484.4,664.56 L484.7,667.46 L485,671.88 L485.3,677.46 L485.6,683.74 L485.9,690.21 L486.2,696.34 L486.5,701.63 L486.8,705.66 L487.1,708.1 L487.4,708.76 L487.7,707.59 L488,704.7 L488.3,700.33 L488.6,694.83 L488.9,688.66 L489.2,682.33 L489.5,676.35 L489.8,671.2 L490.1,667.31 L490.4,664.98 L490.7,664.39 L491,665.58 L491.3,668.45 L491.6,672.75 L491.9,678.13 L492.2,684.15 L492.5,690.3 L492.8,696.09 L493.1,701.06 L493.4,704.79 L493.7,707 L494,707.52 L494.3,706.31 L494.6,703.48 L494.9,699.28 L495.2,694.06 L495.5,688.24 L495.8,682.31 L496.1,676.74 L496.4,671.99 L496.7,668.44 L497,666.37 L497.3,665.93 L497.6,667.14 L497.9,669.9 L498.2,673.97 L498.5,679 L498.8,684.58 L499.1,690.25 L499.4,695.55 L499.7,700.05 L500,703.4 L500.3,705.32 L500.6,705.69 L500.9,704.48 L501.2,701.81 L501.5,697.91 L501.8,693.11 L502.1,687.81 L502.4,682.44 L502.7,677.44 L503,673.21 L503.3,670.09 L503.6,668.32 L503.9,668.02 L504.2,669.21 L504.5,671.77 L504.8,675.47 L505.1,680.01 L505.4,685 L505.7,690.04 L506,694.71 L506.3,698.64 L506.6,701.52 L506.9,703.13 L507.2,703.35 L507.5,702.2 L507.8,699.77 L508.1,696.29 L508.4,692.04 L508.7,687.39 L509,682.72 L509.3,678.41 L509.6,674.8 L509.9,672.17 L510.2,670.72 L510.5,670.56 L510.8,671.67 L511.1,673.95 L511.4,677.19 L511.7,681.11 L512,685.4 L512.3,689.68 L512.6,693.62 L512.9,696.9 L513.2,699.28 L513.5,700.56 L513.8,700.66 L514.1,699.61 L514.4,697.5 L514.7,694.52 L515,690.93 L515.3,687.03 L515.6,683.14 L515.9,679.59 L516.2,676.64 L516.5,674.53 L516.8,673.41 L517.1,673.35 L517.4,674.34 L517.7,676.27 L518,678.98 L518.3,682.22 L518.6,685.73 L518.9,689.21 L519.2,692.38 L519.5,694.99 L519.8,696.85 L520.1,697.82 L520.4,697.83 L520.7,696.92 L521,695.17 L521.3,692.74 L521.6,689.85 L521.9,686.73 L522.2,683.66 L522.5,680.87 L522.8,678.58 L523.1,676.97 L523.4,676.15 L523.7,676.16 L524,677 L524.3,678.56 L524.6,680.71 L524.9,683.26 L525.2,685.98 L525.5,688.67 L525.8,691.09 L526.1,693.07 L526.4,694.45 L526.7,695.13 L527,695.09 L527.3,694.34 L527.6,692.96 L527.9,691.08 L528.2,688.87 L528.5,686.52 L528.8,684.21 L529.1,682.13 L529.4,680.45 L529.7,679.29 L530,678.72 L530.3,678.78 L530.6,679.45 L530.9,680.65 L531.2,682.26 L531.5,684.15 L531.8,686.16 L532.1,688.12 L532.4,689.87 L532.7,691.28 L533,692.25 L533.3,692.71 L533.6,692.63 L533.9,692.05 L534.2,691.03 L534.5,689.66 L534.8,688.06 L535.1,686.38 L535.4,684.74 L535.7,683.28 L536,682.12 L536.3,681.33 L536.6,680.96 L536.9,681.04 L537.2,681.54 L537.5,682.4 L537.8,683.55 L538.1,684.88 L538.4,686.27 L538.7,687.62 L539,688.81 L539.3,689.76 L539.6,690.39 L539.9,690.68 L540.2,690.6 L540.5,690.18 L540.8,689.46 L541.1,688.52 L541.4,687.43 L541.7,686.3 L542,685.21 L542.3,684.25 L542.6,683.49 L542.9,682.99 L543.2,682.77 L543.5,682.84 L543.8,683.19 L544.1,683.78 L544.4,684.54 L544.7,685.41 L545,686.32 L545.3,687.19 L545.6,687.95 L545.9,688.55 L546.2,688.94 L546.5,689.1 L546.8,689.04 L547.1,688.75 L547.4,688.28 L547.7,687.67 L548,686.98 L548.3,686.27 L548.6,685.58 L548.9,684.99 L549.2,684.53 L549.5,684.23 L549.8,684.11 L550.1,684.17 L550.4,684.4 L550.7,684.77 L551,685.25 L551.3,685.79 L551.6,686.34 L551.9,686.86 L552.2,687.32 L552.5,687.67 L552.8,687.89 L553.1,687.98 L553.4,687.93 L553.7,687.75 L554,687.46 L554.3,687.09 L554.6,686.68 L554.9,686.26 L555.2,685.86 L555.5,685.52 L555.8,685.26 L556.1,685.09 L556.4,685.03 L556.7,685.08 L557,685.22 L557.3,685.44 L557.6,685.71 L557.9,686.02 L558.2,686.34 L558.5,686.63 L558.8,686.88 L559.1,687.08 L559.4,687.2 L559.7,687.24 L560,687.2 L560.3,687.1 L560.6,686.93 L560.9,686.73 L561.2,686.5 L561.5,686.27 L561.8,686.05 L562.1,685.87 L562.4,685.73 L562.7,685.65 L563,685.62 L563.3,685.65 L563.6,685.73 L563.9,685.85 L564.2,686 L564.5,686.16 L564.8,686.33 L565.1,686.48 L565.4,686.61 L565.7,686.71 L566,686.77 L566.3,686.79 L566.6,686.76 L566.9,686.71 L567.2,686.62 L567.5,686.51 L567.8,686.4 L568.1,686.28 L568.4,686.17 L568.7,686.08 L569,686.01 L569.3,685.97 L569.6,685.96 L569.9,685.98 L570.2,686.02 L570.5,686.08 L570.8,686.15 L571.1,686.24 L571.4,686.32 L571.7,686.39 L572,686.45 L572.3,686.5 L572.6,686.53 L572.9,686.53 L573.2,686.52 L573.5,686.49 L573.8,686.45 L574.1,686.4 L574.4,686.34 L574.7,686.29 L575,686.24 L575.3,686.19 L575.6,686.16 L575.9,686.15 L576.2,686.14 L576.5,686.15 L576.8,686.17 L577.1,686.2 L577.4,686.24 L577.7,686.27 L578,686.31 L578.3,686.34 L578.6,686.37 L578.9,686.39 L579.2,686.4 L579.5,686.4 L579.8,686.4 L580.1,686.38 L580.4,686.36 L580.7,686.34 L581,686.32 L581.3,686.29 L581.6,686.27 L581.9,686.25 L582.2,686.24 L582.5,686.23 L582.8,686.23 L583.1,686.24 L583.4,686.25 L583.7,686.26 L584,686.27 L584.3,686.29 L584.6,686.3 L584.9,686.32 L585.2,686.33 L585.5,686.34 L585.8,686.34 L586.1,686.34 L586.4,686.34 L586.7,686.33 L587,686.33 L587.3,686.32 L587.6,686.31 L587.9,686.3 L588.2,686.29 L588.5,686.28 L588.8,686.28 L589.1,686.27 L589.4,686.27 L589.7,686.28 L590,686.28 L590.3,686.28 L590.6,686.29 L590.9,686.3 L591.2,686.3 L591.5,686.31 L591.8,686.31 L592.1,686.31 L592.4,686.32 L592.7,686.32 L593,686.31 L593.3,686.31 L593.6,686.31 L593.9,686.31 L594.2,686.3 L594.5,686.3 L594.8,686.3 L595.1,686.29 L595.4,686.29 L595.7,686.29 L596,686.29 L596.3,686.29 L596.6,686.29 L596.9,686.29 L597.2,686.3 L597.5,686.3 L597.8,686.3 L598.1,686.3 L598.4,686.3 L598.7,686.3 L599,686.31 L599.3,686.31 L599.6,686.3 L599.9,686.3 L600.2,686.3 L600.5,686.3 L600.8,686.3 L601.1,686.3 L601.4,686.3 L601.7,686.3 L602,686.3 L602.3,686.3 L602.6,686.3 L602.9,686.3 L603.2,686.3 L603.5,686.3 L603.8,686.3 L604.1,686.3 L604.4,686.3 L604.7,686.3 L605,686.3 L605.3,686.3 L605.6,686.3 L605.9,686.3 L606.2,686.3 L606.5,686.3 L606.8,686.3 L607.1,686.3 L607.4,686.3 L607.7,686.3 L608,686.3 L608.3,686.3 L608.6,686.3 L608.9,686.3 L609.2,686.3 L609.5,686.3 L609.8,686.3 L610.1,686.3 L610.4,686.3 L610.7,686.3 L611,686.3 L611.3,686.3 L611.6,686.3 L611.9,686.3 L612.2,686.3 L612.5,686.3 L612.8,686.3 L613.1,686.3 L613.4,686.3 L613.7,686.3 L614,686.3 L614.3,686.3 L614.6,686.3 L614.9,686.3 L615.2,686.3 L615.5,686.3 L615.8,686.3 L616.1,686.3 L616.4,686.3 L616.7,686.3 L617,686.3 L617.3,686.3 L617.6,686.3 L617.9,686.3 L618.2,686.3 L618.5,686.3 L618.8,686.3 L619.1,686.3 L619.4,686.3 L619.7,686.3 L620,686.3 L620.3,686.3 L620.6,686.3 L620.9,686.3 L621.2,686.3 L621.5,686.3 L621.8,686.3 L622.1,686.3 L622.4,686.3 L622.7,686.3 L623,686.3 L623.3,686.3 L623.6,686.3 L623.9,686.3 L624.2,686.3 L624.5,686.3 L624.8,686.3 L625.1,686.3 L625.4,686.3 L625.7,686.3 L626,686.3 L626.3,686.3 L626.6,686.3 L626.9,686.3 L627.2,686.3 L627.5,686.3 L627.8,686.3 L628.1,686.3 L628.4,686.3 L628.7,686.3 L629,686.3 L629.3,686.3 L629.6,686.3 L629.9,686.3 L630.2,686.3 L630.5,686.3 L630.8,686.3 L631.1,686.3 L631.4,686.3 L631.7,686.3 L632,686.3 L632.3,686.3 L632.6,686.3 L632.9,686.3 L633.2,686.3 L633.5,686.3 L633.8,686.3 L634.1,686.3 L634.4,686.3 L634.7,686.3 L635,686.3 L635.3,686.3 L635.6,686.3 L635.9,686.3 L636.2,686.3 L636.5,686.3 L636.8,686.3 L637.1,686.3 L637.4,686.3 L637.7,686.3 L638,686.3 L638.3,686.3 L638.6,686.3 L638.9,686.3 L639.2,686.3 L639.5,686.3 L639.8,686.3 L640.1,686.3 L640.4,686.3 L640.7,686.3 L641,686.3 L641.3,686.3 L641.6,686.3 L641.9,686.3 L642.2,686.3 L642.5,686.3 L642.8,686.3 L643.1,686.3 L643.4,686.3 L643.7,686.3 L644,686.3 L644.3,686.3 L644.6,686.3 L644.9,686.3 L645.2,686.3 L645.5,686.3 L645.8,686.3 L646.1,686.3 L646.4,686.3 L646.7,686.3 L647,686.3 L647.3,686.3 L647.6,686.3 L647.9,686.3 L648.2,686.3 L648.5,686.3 L648.8,686.3 L649.1,686.3 L649.4,686.3 L649.7,686.3 L650,686.3 L650.3,686.3 L650.6,686.3 L650.9,686.3 L651.2,686.3 L651.5,686.3 L651.8,686.3 L652.1,686.3 L652.4,686.3 L652.7,686.3 L653,686.3 L653.3,686.3 L653.6,686.3 L653.9,686.3 L654.2,686.3 L654.5,686.3 L654.8,686.3 L655.1,686.3 L655.4,686.3 L655.7,686.3 L656,686.3 L656.3,686.3 L656.6,686.3 L656.9,686.3 L657.2,686.3 L657.5,686.3 L657.8,686.3 L658.1,686.3 L658.4,686.3 L658.7,686.3 L659,686.3 L659.3,686.3 L659.6,686.3 L659.9,686.3 L660.2,686.3 L660.5,686.3 L660.8,686.3 L661.1,686.3 L661.4,686.3 L661.7,686.3 L662,686.3 L662.3,686.3 L662.6,686.3 L662.9,686.3 L663.2,686.3 L663.5,686.3 L663.8,686.3 L664.1,686.3 L664.4,686.3 L664.7,686.3 L665,686.3 L665.3,686.3 L665.6,686.3 L665.9,686.3 L666.2,686.3 L666.5,686.3 L666.8,686.3 L667.1,686.3" stroke="#cf2218" stroke-width="2.7" fill="none" stroke-linejoin="round"/>
<line x1="470.5" y1="608.5" x2="474.7" y2="608.5" stroke="#444" stroke-width="1" />
<line x1="470.5" y1="643.6" x2="474.7" y2="643.6" stroke="#444" stroke-width="1" />
<line x1="470.5" y1="665.4" x2="474.7" y2="665.4" stroke="#444" stroke-width="1" />
<line x1="470.5" y1="701.4" x2="474.7" y2="701.4" stroke="#444" stroke-width="1" />
<path d="M459.3,606.75 L461.3,605.05 L461.3,612.15" stroke="#3a3a3a" stroke-width="1.0" fill="none" />
<line x1="457.3" y1="604.85" x2="457.3" y2="612.15" stroke="#3a3a3a" stroke-width="0.9" />
<path d="M463.1,604.85 L465.4,608.5 L463.1,612.15" stroke="#3a3a3a" stroke-width="0.85" fill="none" />
<text x="462.8" y="647.55" font-size="10" fill="#3a3a3a" text-anchor="end">0</text>
<line x1="455.1" y1="640.25" x2="455.1" y2="647.55" stroke="#3a3a3a" stroke-width="0.9" />
<path d="M463.1,640.25 L465.4,643.9 L463.1,647.55" stroke="#3a3a3a" stroke-width="0.85" fill="none" />
<path d="M459.3,663.85 L461.3,662.15 L461.3,669.25" stroke="#3a3a3a" stroke-width="1.0" fill="none" />
<line x1="457.3" y1="661.95" x2="457.3" y2="669.25" stroke="#3a3a3a" stroke-width="0.9" />
<path d="M463.1,661.95 L465.4,665.6 L463.1,669.25" stroke="#3a3a3a" stroke-width="0.85" fill="none" />
<text x="462.8" y="705.25" font-size="10" fill="#3a3a3a" text-anchor="end">0</text>
<line x1="455.1" y1="697.95" x2="455.1" y2="705.25" stroke="#3a3a3a" stroke-width="0.9" />
<path d="M463.1,697.95 L465.4,701.6 L463.1,705.25" stroke="#3a3a3a" stroke-width="0.85" fill="none" />
<line x1="470.5" y1="591.6" x2="667.8" y2="591.6" stroke="#999" stroke-width="1" />
<line x1="667.8" y1="591.6" x2="667.8" y2="721.2" stroke="#9a9a9a" stroke-width="1" />
<line x1="470.5" y1="591.1" x2="470.5" y2="721.7" stroke="#555" stroke-width="1.1" />
<line x1="470" y1="721.2" x2="668.3" y2="721.2" stroke="#777" stroke-width="1.1" />
<line x1="536.27" y1="721.2" x2="536.27" y2="717.6" stroke="#555" stroke-width="1" />
<line x1="602.03" y1="721.2" x2="602.03" y2="717.6" stroke="#555" stroke-width="1" />
<text x="470.5" y="733.6" font-size="9.4" fill="#231f20" text-anchor="middle" >0</text>
<text x="536.27" y="733.6" font-size="9.4" fill="#231f20" text-anchor="middle" >1</text>
<text x="602.03" y="733.6" font-size="9.4" fill="#231f20" text-anchor="middle" >2</text>
<text x="667.8" y="733.6" font-size="9.4" fill="#231f20" text-anchor="middle" >3</text>
<text x="521.8" y="750.6" font-size="10" fill="#231f20" textLength="95" lengthAdjust="spacingAndGlyphs" >Sensing time, <tspan font-style="italic">τ</tspan> (μs)</text>
<text transform="translate(444.2,656.6) rotate(-90)" font-size="10" fill="#231f20" text-anchor="middle">PL</text>
<text x="663.8" y="607.3" font-size="10" fill="#2e5f9c" text-anchor="end" textLength="54.4" lengthAdjust="spacingAndGlyphs">−alkene(H):</text>
<text x="663.8" y="619.2" font-size="10" fill="#2e5f9c" text-anchor="end" textLength="63.1" lengthAdjust="spacingAndGlyphs"><tspan font-style="italic">T</tspan><tspan font-size="7" dy="2.6">2</tspan><tspan font-size="11" dx="-1.6" dy="-2.0">*</tspan><tspan dy="-0.6"> = &#160;0.80 μs</tspan></text>
<text x="663.8" y="663.7" font-size="10" fill="#cc1f1f" text-anchor="end" textLength="32.5" lengthAdjust="spacingAndGlyphs">−C<tspan font-size="7" dy="2.5">7</tspan><tspan dy="-2.5">F</tspan><tspan font-size="7" dy="2.5">16</tspan><tspan dy="-2.5">:</tspan></text>
<text x="663.8" y="675.7" font-size="10" fill="#cc1f1f" text-anchor="end" textLength="59.1" lengthAdjust="spacingAndGlyphs"><tspan font-style="italic">T</tspan><tspan font-size="7" dy="2.6">2</tspan><tspan font-size="11" dx="-1.6" dy="-2.0">*</tspan><tspan dy="-0.6"> = 0.79 μs</tspan></text>
</svg></body></html>
